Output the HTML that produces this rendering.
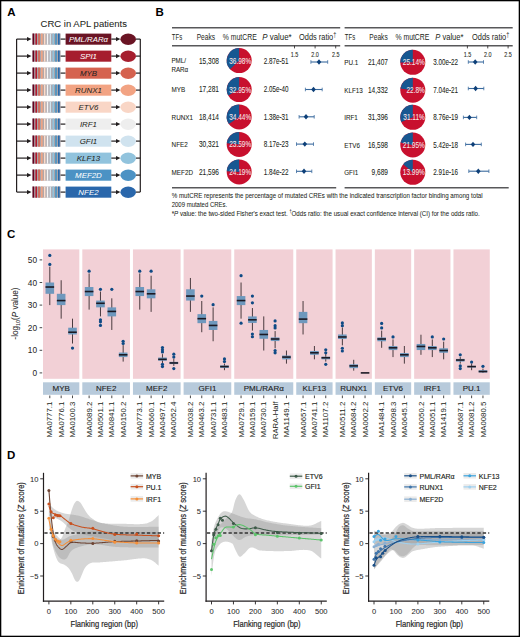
<!DOCTYPE html>
<html><head><meta charset="utf-8"><style>
html,body{margin:0;padding:0;background:#fff;width:520px;height:637px;overflow:hidden}
svg{display:block;font-family:"Liberation Sans", sans-serif}
</style></head><body>
<svg width="520" height="637" viewBox="0 0 520 637">
<rect width="520" height="637" fill="#fff"/>
<rect x="0.6" y="0.6" width="518.8" height="635.8" fill="none" stroke="#000" stroke-width="1.4"/>
<text x="7.20" y="15.80" font-size="11.5" fill="#000" text-anchor="start" font-weight="bold" >A</text>
<text x="40.60" y="27.30" font-size="9.6" fill="#231f20" text-anchor="start" stroke="#231f20" stroke-width="0.05" textLength="86.3" lengthAdjust="spacingAndGlyphs" >CRC in APL patients</text>
<line x1="16.6" y1="39.10" x2="16.6" y2="192.10" stroke="#231f20" stroke-width="1.2"/>
<line x1="140.3" y1="39.10" x2="140.3" y2="192.10" stroke="#231f20" stroke-width="1.2"/>
<line x1="16.60" y1="39.10" x2="28.00" y2="39.10" stroke="#231f20" stroke-width="1.2" />
<path d="M27.0 37.00 L31.5 39.10 L27.0 41.20 Z" fill="#231f20"/>
<rect x="32.30" y="33.50" width="28.30" height="11.20" fill="#a9a3a9" />
<rect x="32.60" y="33.50" width="1.55" height="11.20" fill="#67001f" />
<rect x="35.43" y="33.50" width="1.55" height="11.20" fill="#b2182b" />
<rect x="38.26" y="33.50" width="1.55" height="11.20" fill="#d6604d" />
<rect x="41.09" y="33.50" width="1.55" height="11.20" fill="#f4a582" />
<rect x="43.92" y="33.50" width="1.55" height="11.20" fill="#fddbc7" />
<rect x="46.75" y="33.50" width="1.55" height="11.20" fill="#f7f7f7" />
<rect x="49.58" y="33.50" width="1.55" height="11.20" fill="#d1e5f0" />
<rect x="52.41" y="33.50" width="1.55" height="11.20" fill="#92c5de" />
<rect x="55.24" y="33.50" width="1.55" height="11.20" fill="#4393c3" />
<rect x="58.07" y="33.50" width="1.55" height="11.20" fill="#2166ac" />
<line x1="60.60" y1="39.10" x2="65.60" y2="39.10" stroke="#231f20" stroke-width="1.2" />
<rect x="65.60" y="33.60" width="45.70" height="11.10" fill="#6a1424" />
<text x="88.45" y="42.05" font-size="7.9" fill="#ffffff" text-anchor="middle" stroke="#ffffff" stroke-width="0.03" font-style="italic" textLength="39" lengthAdjust="spacingAndGlyphs" >PML/RARα</text>
<line x1="111.30" y1="39.10" x2="117.00" y2="39.10" stroke="#231f20" stroke-width="1.2" />
<path d="M116.0 37.00 L120.4 39.10 L116.0 41.20 Z" fill="#231f20"/>
<ellipse cx="128.2" cy="39.30" rx="7.8" ry="5.7" fill="#6a1424"/>
<line x1="136.00" y1="39.10" x2="140.30" y2="39.10" stroke="#231f20" stroke-width="1.2" />
<line x1="16.60" y1="56.10" x2="28.00" y2="56.10" stroke="#231f20" stroke-width="1.2" />
<path d="M27.0 54.00 L31.5 56.10 L27.0 58.20 Z" fill="#231f20"/>
<rect x="32.30" y="50.50" width="28.30" height="11.20" fill="#a9a3a9" />
<rect x="32.60" y="50.50" width="1.55" height="11.20" fill="#67001f" />
<rect x="35.43" y="50.50" width="1.55" height="11.20" fill="#b2182b" />
<rect x="38.26" y="50.50" width="1.55" height="11.20" fill="#d6604d" />
<rect x="41.09" y="50.50" width="1.55" height="11.20" fill="#f4a582" />
<rect x="43.92" y="50.50" width="1.55" height="11.20" fill="#fddbc7" />
<rect x="46.75" y="50.50" width="1.55" height="11.20" fill="#f7f7f7" />
<rect x="49.58" y="50.50" width="1.55" height="11.20" fill="#d1e5f0" />
<rect x="52.41" y="50.50" width="1.55" height="11.20" fill="#92c5de" />
<rect x="55.24" y="50.50" width="1.55" height="11.20" fill="#4393c3" />
<rect x="58.07" y="50.50" width="1.55" height="11.20" fill="#2166ac" />
<line x1="60.60" y1="56.10" x2="65.60" y2="56.10" stroke="#231f20" stroke-width="1.2" />
<rect x="65.60" y="50.60" width="45.70" height="11.10" fill="#a61e2e" />
<text x="88.45" y="59.05" font-size="7.9" fill="#ffffff" text-anchor="middle" stroke="#ffffff" stroke-width="0.03" font-style="italic" >SPI1</text>
<line x1="111.30" y1="56.10" x2="117.00" y2="56.10" stroke="#231f20" stroke-width="1.2" />
<path d="M116.0 54.00 L120.4 56.10 L116.0 58.20 Z" fill="#231f20"/>
<ellipse cx="128.2" cy="56.30" rx="7.8" ry="5.7" fill="#a61e2e"/>
<line x1="136.00" y1="56.10" x2="140.30" y2="56.10" stroke="#231f20" stroke-width="1.2" />
<line x1="16.60" y1="73.10" x2="28.00" y2="73.10" stroke="#231f20" stroke-width="1.2" />
<path d="M27.0 71.00 L31.5 73.10 L27.0 75.20 Z" fill="#231f20"/>
<rect x="32.30" y="67.50" width="28.30" height="11.20" fill="#a9a3a9" />
<rect x="32.60" y="67.50" width="1.55" height="11.20" fill="#67001f" />
<rect x="35.43" y="67.50" width="1.55" height="11.20" fill="#b2182b" />
<rect x="38.26" y="67.50" width="1.55" height="11.20" fill="#d6604d" />
<rect x="41.09" y="67.50" width="1.55" height="11.20" fill="#f4a582" />
<rect x="43.92" y="67.50" width="1.55" height="11.20" fill="#fddbc7" />
<rect x="46.75" y="67.50" width="1.55" height="11.20" fill="#f7f7f7" />
<rect x="49.58" y="67.50" width="1.55" height="11.20" fill="#d1e5f0" />
<rect x="52.41" y="67.50" width="1.55" height="11.20" fill="#92c5de" />
<rect x="55.24" y="67.50" width="1.55" height="11.20" fill="#4393c3" />
<rect x="58.07" y="67.50" width="1.55" height="11.20" fill="#2166ac" />
<line x1="60.60" y1="73.10" x2="65.60" y2="73.10" stroke="#231f20" stroke-width="1.2" />
<rect x="65.60" y="67.60" width="45.70" height="11.10" fill="#d5624f" />
<text x="88.45" y="76.05" font-size="7.9" fill="#231f20" text-anchor="middle" stroke="#231f20" stroke-width="0.03" font-style="italic" >MYB</text>
<line x1="111.30" y1="73.10" x2="117.00" y2="73.10" stroke="#231f20" stroke-width="1.2" />
<path d="M116.0 71.00 L120.4 73.10 L116.0 75.20 Z" fill="#231f20"/>
<ellipse cx="128.2" cy="73.30" rx="7.8" ry="5.7" fill="#d5624f"/>
<line x1="136.00" y1="73.10" x2="140.30" y2="73.10" stroke="#231f20" stroke-width="1.2" />
<line x1="16.60" y1="90.10" x2="28.00" y2="90.10" stroke="#231f20" stroke-width="1.2" />
<path d="M27.0 88.00 L31.5 90.10 L27.0 92.20 Z" fill="#231f20"/>
<rect x="32.30" y="84.50" width="28.30" height="11.20" fill="#a9a3a9" />
<rect x="32.60" y="84.50" width="1.55" height="11.20" fill="#67001f" />
<rect x="35.43" y="84.50" width="1.55" height="11.20" fill="#b2182b" />
<rect x="38.26" y="84.50" width="1.55" height="11.20" fill="#d6604d" />
<rect x="41.09" y="84.50" width="1.55" height="11.20" fill="#f4a582" />
<rect x="43.92" y="84.50" width="1.55" height="11.20" fill="#fddbc7" />
<rect x="46.75" y="84.50" width="1.55" height="11.20" fill="#f7f7f7" />
<rect x="49.58" y="84.50" width="1.55" height="11.20" fill="#d1e5f0" />
<rect x="52.41" y="84.50" width="1.55" height="11.20" fill="#92c5de" />
<rect x="55.24" y="84.50" width="1.55" height="11.20" fill="#4393c3" />
<rect x="58.07" y="84.50" width="1.55" height="11.20" fill="#2166ac" />
<line x1="60.60" y1="90.10" x2="65.60" y2="90.10" stroke="#231f20" stroke-width="1.2" />
<rect x="65.60" y="84.60" width="45.70" height="11.10" fill="#f2a383" />
<text x="88.45" y="93.05" font-size="7.9" fill="#231f20" text-anchor="middle" stroke="#231f20" stroke-width="0.03" font-style="italic" >RUNX1</text>
<line x1="111.30" y1="90.10" x2="117.00" y2="90.10" stroke="#231f20" stroke-width="1.2" />
<path d="M116.0 88.00 L120.4 90.10 L116.0 92.20 Z" fill="#231f20"/>
<ellipse cx="128.2" cy="90.30" rx="7.8" ry="5.7" fill="#f2a383"/>
<line x1="136.00" y1="90.10" x2="140.30" y2="90.10" stroke="#231f20" stroke-width="1.2" />
<line x1="16.60" y1="107.10" x2="28.00" y2="107.10" stroke="#231f20" stroke-width="1.2" />
<path d="M27.0 105.00 L31.5 107.10 L27.0 109.20 Z" fill="#231f20"/>
<rect x="32.30" y="101.50" width="28.30" height="11.20" fill="#a9a3a9" />
<rect x="32.60" y="101.50" width="1.55" height="11.20" fill="#67001f" />
<rect x="35.43" y="101.50" width="1.55" height="11.20" fill="#b2182b" />
<rect x="38.26" y="101.50" width="1.55" height="11.20" fill="#d6604d" />
<rect x="41.09" y="101.50" width="1.55" height="11.20" fill="#f4a582" />
<rect x="43.92" y="101.50" width="1.55" height="11.20" fill="#fddbc7" />
<rect x="46.75" y="101.50" width="1.55" height="11.20" fill="#f7f7f7" />
<rect x="49.58" y="101.50" width="1.55" height="11.20" fill="#d1e5f0" />
<rect x="52.41" y="101.50" width="1.55" height="11.20" fill="#92c5de" />
<rect x="55.24" y="101.50" width="1.55" height="11.20" fill="#4393c3" />
<rect x="58.07" y="101.50" width="1.55" height="11.20" fill="#2166ac" />
<line x1="60.60" y1="107.10" x2="65.60" y2="107.10" stroke="#231f20" stroke-width="1.2" />
<rect x="65.60" y="101.60" width="45.70" height="11.10" fill="#f9d6c6" />
<text x="88.45" y="110.05" font-size="7.9" fill="#231f20" text-anchor="middle" stroke="#231f20" stroke-width="0.03" font-style="italic" >ETV6</text>
<line x1="111.30" y1="107.10" x2="117.00" y2="107.10" stroke="#231f20" stroke-width="1.2" />
<path d="M116.0 105.00 L120.4 107.10 L116.0 109.20 Z" fill="#231f20"/>
<ellipse cx="128.2" cy="107.30" rx="7.8" ry="5.7" fill="#f9d6c6"/>
<line x1="136.00" y1="107.10" x2="140.30" y2="107.10" stroke="#231f20" stroke-width="1.2" />
<line x1="16.60" y1="124.10" x2="28.00" y2="124.10" stroke="#231f20" stroke-width="1.2" />
<path d="M27.0 122.00 L31.5 124.10 L27.0 126.20 Z" fill="#231f20"/>
<rect x="32.30" y="118.50" width="28.30" height="11.20" fill="#a9a3a9" />
<rect x="32.60" y="118.50" width="1.55" height="11.20" fill="#67001f" />
<rect x="35.43" y="118.50" width="1.55" height="11.20" fill="#b2182b" />
<rect x="38.26" y="118.50" width="1.55" height="11.20" fill="#d6604d" />
<rect x="41.09" y="118.50" width="1.55" height="11.20" fill="#f4a582" />
<rect x="43.92" y="118.50" width="1.55" height="11.20" fill="#fddbc7" />
<rect x="46.75" y="118.50" width="1.55" height="11.20" fill="#f7f7f7" />
<rect x="49.58" y="118.50" width="1.55" height="11.20" fill="#d1e5f0" />
<rect x="52.41" y="118.50" width="1.55" height="11.20" fill="#92c5de" />
<rect x="55.24" y="118.50" width="1.55" height="11.20" fill="#4393c3" />
<rect x="58.07" y="118.50" width="1.55" height="11.20" fill="#2166ac" />
<line x1="60.60" y1="124.10" x2="65.60" y2="124.10" stroke="#231f20" stroke-width="1.2" />
<rect x="65.60" y="118.60" width="45.70" height="11.10" fill="#eeeeee" />
<text x="88.45" y="127.05" font-size="7.9" fill="#231f20" text-anchor="middle" stroke="#231f20" stroke-width="0.03" font-style="italic" >IRF1</text>
<line x1="111.30" y1="124.10" x2="117.00" y2="124.10" stroke="#231f20" stroke-width="1.2" />
<path d="M116.0 122.00 L120.4 124.10 L116.0 126.20 Z" fill="#231f20"/>
<ellipse cx="128.2" cy="124.30" rx="7.8" ry="5.7" fill="#eeeeee"/>
<line x1="136.00" y1="124.10" x2="140.30" y2="124.10" stroke="#231f20" stroke-width="1.2" />
<line x1="16.60" y1="141.10" x2="28.00" y2="141.10" stroke="#231f20" stroke-width="1.2" />
<path d="M27.0 139.00 L31.5 141.10 L27.0 143.20 Z" fill="#231f20"/>
<rect x="32.30" y="135.50" width="28.30" height="11.20" fill="#a9a3a9" />
<rect x="32.60" y="135.50" width="1.55" height="11.20" fill="#67001f" />
<rect x="35.43" y="135.50" width="1.55" height="11.20" fill="#b2182b" />
<rect x="38.26" y="135.50" width="1.55" height="11.20" fill="#d6604d" />
<rect x="41.09" y="135.50" width="1.55" height="11.20" fill="#f4a582" />
<rect x="43.92" y="135.50" width="1.55" height="11.20" fill="#fddbc7" />
<rect x="46.75" y="135.50" width="1.55" height="11.20" fill="#f7f7f7" />
<rect x="49.58" y="135.50" width="1.55" height="11.20" fill="#d1e5f0" />
<rect x="52.41" y="135.50" width="1.55" height="11.20" fill="#92c5de" />
<rect x="55.24" y="135.50" width="1.55" height="11.20" fill="#4393c3" />
<rect x="58.07" y="135.50" width="1.55" height="11.20" fill="#2166ac" />
<line x1="60.60" y1="141.10" x2="65.60" y2="141.10" stroke="#231f20" stroke-width="1.2" />
<rect x="65.60" y="135.60" width="45.70" height="11.10" fill="#d0e3ef" />
<text x="88.45" y="144.05" font-size="7.9" fill="#231f20" text-anchor="middle" stroke="#231f20" stroke-width="0.03" font-style="italic" >GFI1</text>
<line x1="111.30" y1="141.10" x2="117.00" y2="141.10" stroke="#231f20" stroke-width="1.2" />
<path d="M116.0 139.00 L120.4 141.10 L116.0 143.20 Z" fill="#231f20"/>
<ellipse cx="128.2" cy="141.30" rx="7.8" ry="5.7" fill="#d0e3ef"/>
<line x1="136.00" y1="141.10" x2="140.30" y2="141.10" stroke="#231f20" stroke-width="1.2" />
<line x1="16.60" y1="158.10" x2="28.00" y2="158.10" stroke="#231f20" stroke-width="1.2" />
<path d="M27.0 156.00 L31.5 158.10 L27.0 160.20 Z" fill="#231f20"/>
<rect x="32.30" y="152.50" width="28.30" height="11.20" fill="#a9a3a9" />
<rect x="32.60" y="152.50" width="1.55" height="11.20" fill="#67001f" />
<rect x="35.43" y="152.50" width="1.55" height="11.20" fill="#b2182b" />
<rect x="38.26" y="152.50" width="1.55" height="11.20" fill="#d6604d" />
<rect x="41.09" y="152.50" width="1.55" height="11.20" fill="#f4a582" />
<rect x="43.92" y="152.50" width="1.55" height="11.20" fill="#fddbc7" />
<rect x="46.75" y="152.50" width="1.55" height="11.20" fill="#f7f7f7" />
<rect x="49.58" y="152.50" width="1.55" height="11.20" fill="#d1e5f0" />
<rect x="52.41" y="152.50" width="1.55" height="11.20" fill="#92c5de" />
<rect x="55.24" y="152.50" width="1.55" height="11.20" fill="#4393c3" />
<rect x="58.07" y="152.50" width="1.55" height="11.20" fill="#2166ac" />
<line x1="60.60" y1="158.10" x2="65.60" y2="158.10" stroke="#231f20" stroke-width="1.2" />
<rect x="65.60" y="152.60" width="45.70" height="11.10" fill="#91c3dd" />
<text x="88.45" y="161.05" font-size="7.9" fill="#231f20" text-anchor="middle" stroke="#231f20" stroke-width="0.03" font-style="italic" >KLF13</text>
<line x1="111.30" y1="158.10" x2="117.00" y2="158.10" stroke="#231f20" stroke-width="1.2" />
<path d="M116.0 156.00 L120.4 158.10 L116.0 160.20 Z" fill="#231f20"/>
<ellipse cx="128.2" cy="158.30" rx="7.8" ry="5.7" fill="#91c3dd"/>
<line x1="136.00" y1="158.10" x2="140.30" y2="158.10" stroke="#231f20" stroke-width="1.2" />
<line x1="16.60" y1="175.10" x2="28.00" y2="175.10" stroke="#231f20" stroke-width="1.2" />
<path d="M27.0 173.00 L31.5 175.10 L27.0 177.20 Z" fill="#231f20"/>
<rect x="32.30" y="169.50" width="28.30" height="11.20" fill="#a9a3a9" />
<rect x="32.60" y="169.50" width="1.55" height="11.20" fill="#67001f" />
<rect x="35.43" y="169.50" width="1.55" height="11.20" fill="#b2182b" />
<rect x="38.26" y="169.50" width="1.55" height="11.20" fill="#d6604d" />
<rect x="41.09" y="169.50" width="1.55" height="11.20" fill="#f4a582" />
<rect x="43.92" y="169.50" width="1.55" height="11.20" fill="#fddbc7" />
<rect x="46.75" y="169.50" width="1.55" height="11.20" fill="#f7f7f7" />
<rect x="49.58" y="169.50" width="1.55" height="11.20" fill="#d1e5f0" />
<rect x="52.41" y="169.50" width="1.55" height="11.20" fill="#92c5de" />
<rect x="55.24" y="169.50" width="1.55" height="11.20" fill="#4393c3" />
<rect x="58.07" y="169.50" width="1.55" height="11.20" fill="#2166ac" />
<line x1="60.60" y1="175.10" x2="65.60" y2="175.10" stroke="#231f20" stroke-width="1.2" />
<rect x="65.60" y="169.60" width="45.70" height="11.10" fill="#4b92c4" />
<text x="88.45" y="178.05" font-size="7.9" fill="#ffffff" text-anchor="middle" stroke="#ffffff" stroke-width="0.03" font-style="italic" >MEF2D</text>
<line x1="111.30" y1="175.10" x2="117.00" y2="175.10" stroke="#231f20" stroke-width="1.2" />
<path d="M116.0 173.00 L120.4 175.10 L116.0 177.20 Z" fill="#231f20"/>
<ellipse cx="128.2" cy="175.30" rx="7.8" ry="5.7" fill="#4b92c4"/>
<line x1="136.00" y1="175.10" x2="140.30" y2="175.10" stroke="#231f20" stroke-width="1.2" />
<line x1="16.60" y1="192.10" x2="28.00" y2="192.10" stroke="#231f20" stroke-width="1.2" />
<path d="M27.0 190.00 L31.5 192.10 L27.0 194.20 Z" fill="#231f20"/>
<rect x="32.30" y="186.50" width="28.30" height="11.20" fill="#a9a3a9" />
<rect x="32.60" y="186.50" width="1.55" height="11.20" fill="#67001f" />
<rect x="35.43" y="186.50" width="1.55" height="11.20" fill="#b2182b" />
<rect x="38.26" y="186.50" width="1.55" height="11.20" fill="#d6604d" />
<rect x="41.09" y="186.50" width="1.55" height="11.20" fill="#f4a582" />
<rect x="43.92" y="186.50" width="1.55" height="11.20" fill="#fddbc7" />
<rect x="46.75" y="186.50" width="1.55" height="11.20" fill="#f7f7f7" />
<rect x="49.58" y="186.50" width="1.55" height="11.20" fill="#d1e5f0" />
<rect x="52.41" y="186.50" width="1.55" height="11.20" fill="#92c5de" />
<rect x="55.24" y="186.50" width="1.55" height="11.20" fill="#4393c3" />
<rect x="58.07" y="186.50" width="1.55" height="11.20" fill="#2166ac" />
<line x1="60.60" y1="192.10" x2="65.60" y2="192.10" stroke="#231f20" stroke-width="1.2" />
<rect x="65.60" y="186.60" width="45.70" height="11.10" fill="#2a67ab" />
<text x="88.45" y="195.05" font-size="7.9" fill="#ffffff" text-anchor="middle" stroke="#ffffff" stroke-width="0.03" font-style="italic" >NFE2</text>
<line x1="111.30" y1="192.10" x2="117.00" y2="192.10" stroke="#231f20" stroke-width="1.2" />
<path d="M116.0 190.00 L120.4 192.10 L116.0 194.20 Z" fill="#231f20"/>
<ellipse cx="128.2" cy="192.30" rx="7.8" ry="5.7" fill="#2a67ab"/>
<line x1="136.00" y1="192.10" x2="140.30" y2="192.10" stroke="#231f20" stroke-width="1.2" />
<text x="155.50" y="15.50" font-size="11.5" fill="#000" text-anchor="start" font-weight="bold" >B</text>
<line x1="172.00" y1="27.80" x2="340.20" y2="27.80" stroke="#58585a" stroke-width="1.4" />
<line x1="172.00" y1="45.80" x2="340.20" y2="45.80" stroke="#58585a" stroke-width="1.4" />
<line x1="172.00" y1="187.80" x2="336.20" y2="187.80" stroke="#58585a" stroke-width="1.4" />
<text x="171.80" y="40.0" font-size="8.7" fill="#231f20" textLength="10.4" lengthAdjust="spacingAndGlyphs">TFs</text>
<text x="215.10" y="40.0" font-size="8.7" fill="#231f20" text-anchor="end" textLength="18.4" lengthAdjust="spacingAndGlyphs">Peaks</text>
<text x="222.80" y="40.0" font-size="8.7" fill="#231f20" textLength="34" lengthAdjust="spacingAndGlyphs">% mutCRE</text>
<text x="262.30" y="40.0" font-size="8.7" fill="#231f20" textLength="29.4" lengthAdjust="spacingAndGlyphs"><tspan font-style="italic">P</tspan> value*</text>
<text x="299.10" y="40.0" font-size="8.7" fill="#231f20" textLength="37.2" lengthAdjust="spacingAndGlyphs">Odds ratio<tspan font-size="6.5" dy="-3">†</tspan></text>
<line x1="294.50" y1="45.70" x2="294.50" y2="48.40" stroke="#231f20" stroke-width="0.8" />
<text transform="translate(294.50,56.80) scale(0.85,1)" font-size="6.4" fill="#231f20" stroke="#231f20" stroke-width="0.08" text-anchor="middle">1.5</text>
<line x1="315.10" y1="45.70" x2="315.10" y2="48.40" stroke="#231f20" stroke-width="0.8" />
<text transform="translate(315.10,56.80) scale(0.85,1)" font-size="6.4" fill="#231f20" stroke="#231f20" stroke-width="0.08" text-anchor="middle">2.0</text>
<line x1="335.70" y1="45.70" x2="335.70" y2="48.40" stroke="#231f20" stroke-width="0.8" />
<text transform="translate(335.70,56.80) scale(0.85,1)" font-size="6.4" fill="#231f20" stroke="#231f20" stroke-width="0.08" text-anchor="middle">2.5</text>
<text transform="translate(171.40,62.60) scale(0.78,1)" font-size="8.0" fill="#231f20" stroke="#231f20" stroke-width="0.08" text-anchor="start">PML/</text>
<text transform="translate(171.40,71.60) scale(0.78,1)" font-size="8.0" fill="#231f20" stroke="#231f20" stroke-width="0.08" text-anchor="start">RARα</text>
<text transform="translate(219.00,64.30) scale(0.8,1)" font-size="8.2" fill="#231f20" stroke="#231f20" stroke-width="0.08" text-anchor="end">15,308</text>
<circle cx="239.20" cy="60.60" r="12.5" fill="#c8102e"/>
<path d="M239.20 60.60 L239.20 48.10 A12.5 12.5 0 0 0 230.08 69.15 Z" fill="#175791"/>
<text transform="translate(251.20,63.60) scale(0.72,1)" font-size="9.0" fill="#f6e6e9" stroke="#f6e6e9" stroke-width="0.08" text-anchor="end">36.98%</text>
<text transform="translate(263.70,64.30) scale(0.77,1)" font-size="8.2" fill="#231f20" stroke="#231f20" stroke-width="0.08" text-anchor="start">2.87e-51</text>
<line x1="310.90" y1="62.00" x2="327.70" y2="62.00" stroke="#3a6a9e" stroke-width="1.1" />
<line x1="310.90" y1="60.20" x2="310.90" y2="63.80" stroke="#3a6a9e" stroke-width="0.8" />
<line x1="327.70" y1="60.20" x2="327.70" y2="63.80" stroke="#3a6a9e" stroke-width="0.8" />
<path d="M316.70 62.00 L319.00 59.30 L321.30 62.00 L319.00 64.70 Z" fill="#0d3f78"/>
<text transform="translate(171.60,92.40) scale(0.78,1)" font-size="8.1" fill="#231f20" stroke="#231f20" stroke-width="0.08" text-anchor="start">MYB</text>
<text transform="translate(219.00,92.40) scale(0.8,1)" font-size="8.2" fill="#231f20" stroke="#231f20" stroke-width="0.08" text-anchor="end">17,281</text>
<circle cx="239.20" cy="89.60" r="12.5" fill="#c8102e"/>
<path d="M239.20 89.60 L239.20 77.10 A12.5 12.5 0 0 0 228.23 95.59 Z" fill="#175791"/>
<text transform="translate(251.20,92.60) scale(0.72,1)" font-size="9.0" fill="#f6e6e9" stroke="#f6e6e9" stroke-width="0.08" text-anchor="end">32.95%</text>
<text transform="translate(263.70,92.40) scale(0.77,1)" font-size="8.2" fill="#231f20" stroke="#231f20" stroke-width="0.08" text-anchor="start">2.05e-40</text>
<line x1="305.40" y1="89.50" x2="322.20" y2="89.50" stroke="#3a6a9e" stroke-width="1.1" />
<line x1="305.40" y1="87.70" x2="305.40" y2="91.30" stroke="#3a6a9e" stroke-width="0.8" />
<line x1="322.20" y1="87.70" x2="322.20" y2="91.30" stroke="#3a6a9e" stroke-width="0.8" />
<path d="M311.20 89.50 L313.50 86.80 L315.80 89.50 L313.50 92.20 Z" fill="#0d3f78"/>
<text transform="translate(171.60,119.70) scale(0.78,1)" font-size="8.1" fill="#231f20" stroke="#231f20" stroke-width="0.08" text-anchor="start">RUNX1</text>
<text transform="translate(219.00,119.70) scale(0.8,1)" font-size="8.2" fill="#231f20" stroke="#231f20" stroke-width="0.08" text-anchor="end">18,414</text>
<circle cx="239.20" cy="116.90" r="12.5" fill="#c8102e"/>
<path d="M239.20 116.90 L239.20 104.40 A12.5 12.5 0 0 0 228.84 123.89 Z" fill="#175791"/>
<text transform="translate(251.20,119.90) scale(0.72,1)" font-size="9.0" fill="#f6e6e9" stroke="#f6e6e9" stroke-width="0.08" text-anchor="end">34.44%</text>
<text transform="translate(263.70,119.70) scale(0.77,1)" font-size="8.2" fill="#231f20" stroke="#231f20" stroke-width="0.08" text-anchor="start">1.38e-31</text>
<line x1="299.10" y1="116.80" x2="314.20" y2="116.80" stroke="#3a6a9e" stroke-width="1.1" />
<line x1="299.10" y1="115.00" x2="299.10" y2="118.60" stroke="#3a6a9e" stroke-width="0.8" />
<line x1="314.20" y1="115.00" x2="314.20" y2="118.60" stroke="#3a6a9e" stroke-width="0.8" />
<path d="M303.70 116.80 L306.00 114.10 L308.30 116.80 L306.00 119.50 Z" fill="#0d3f78"/>
<text transform="translate(171.60,147.20) scale(0.78,1)" font-size="8.1" fill="#231f20" stroke="#231f20" stroke-width="0.08" text-anchor="start">NFE2</text>
<text transform="translate(219.00,147.20) scale(0.8,1)" font-size="8.2" fill="#231f20" stroke="#231f20" stroke-width="0.08" text-anchor="end">30,321</text>
<circle cx="239.20" cy="144.40" r="12.5" fill="#c8102e"/>
<path d="M239.20 144.40 L239.20 131.90 A12.5 12.5 0 0 0 226.75 143.29 Z" fill="#175791"/>
<text transform="translate(251.20,147.40) scale(0.72,1)" font-size="9.0" fill="#f6e6e9" stroke="#f6e6e9" stroke-width="0.08" text-anchor="end">23.59%</text>
<text transform="translate(263.70,147.20) scale(0.77,1)" font-size="8.2" fill="#231f20" stroke="#231f20" stroke-width="0.08" text-anchor="start">8.17e-23</text>
<line x1="296.50" y1="144.10" x2="313.50" y2="144.10" stroke="#3a6a9e" stroke-width="1.1" />
<line x1="296.50" y1="142.30" x2="296.50" y2="145.90" stroke="#3a6a9e" stroke-width="0.8" />
<line x1="313.50" y1="142.30" x2="313.50" y2="145.90" stroke="#3a6a9e" stroke-width="0.8" />
<path d="M302.50 144.10 L304.80 141.40 L307.10 144.10 L304.80 146.80 Z" fill="#0d3f78"/>
<text transform="translate(171.60,174.70) scale(0.78,1)" font-size="8.1" fill="#231f20" stroke="#231f20" stroke-width="0.08" text-anchor="start">MEF2D</text>
<text transform="translate(219.00,174.70) scale(0.8,1)" font-size="8.2" fill="#231f20" stroke="#231f20" stroke-width="0.08" text-anchor="end">21,596</text>
<circle cx="239.20" cy="171.90" r="12.5" fill="#c8102e"/>
<path d="M239.20 171.90 L239.20 159.40 A12.5 12.5 0 0 0 226.72 171.26 Z" fill="#175791"/>
<text transform="translate(251.20,174.90) scale(0.72,1)" font-size="9.0" fill="#f6e6e9" stroke="#f6e6e9" stroke-width="0.08" text-anchor="end">24.19%</text>
<text transform="translate(263.70,174.70) scale(0.77,1)" font-size="8.2" fill="#231f20" stroke="#231f20" stroke-width="0.08" text-anchor="start">1.84e-22</text>
<line x1="296.50" y1="171.30" x2="311.80" y2="171.30" stroke="#3a6a9e" stroke-width="1.1" />
<line x1="296.50" y1="169.50" x2="296.50" y2="173.10" stroke="#3a6a9e" stroke-width="0.8" />
<line x1="311.80" y1="169.50" x2="311.80" y2="173.10" stroke="#3a6a9e" stroke-width="0.8" />
<path d="M301.70 171.30 L304.00 168.60 L306.30 171.30 L304.00 174.00 Z" fill="#0d3f78"/>
<line x1="344.60" y1="27.80" x2="512.70" y2="27.80" stroke="#58585a" stroke-width="1.4" />
<line x1="344.60" y1="45.80" x2="512.70" y2="45.80" stroke="#58585a" stroke-width="1.4" />
<line x1="344.60" y1="187.80" x2="508.70" y2="187.80" stroke="#58585a" stroke-width="1.4" />
<text x="344.80" y="40.0" font-size="8.7" fill="#231f20" textLength="10.4" lengthAdjust="spacingAndGlyphs">TFs</text>
<text x="387.70" y="40.0" font-size="8.7" fill="#231f20" text-anchor="end" textLength="18.4" lengthAdjust="spacingAndGlyphs">Peaks</text>
<text x="395.40" y="40.0" font-size="8.7" fill="#231f20" textLength="34" lengthAdjust="spacingAndGlyphs">% mutCRE</text>
<text x="435.30" y="40.0" font-size="8.7" fill="#231f20" textLength="28.2" lengthAdjust="spacingAndGlyphs"><tspan font-style="italic">P</tspan> value*</text>
<text x="472.10" y="40.0" font-size="8.7" fill="#231f20" textLength="37.2" lengthAdjust="spacingAndGlyphs">Odds ratio<tspan font-size="6.5" dy="-3">†</tspan></text>
<line x1="467.40" y1="45.70" x2="467.40" y2="48.40" stroke="#231f20" stroke-width="0.8" />
<text transform="translate(467.40,56.80) scale(0.85,1)" font-size="6.4" fill="#231f20" stroke="#231f20" stroke-width="0.08" text-anchor="middle">1.5</text>
<line x1="487.75" y1="45.70" x2="487.75" y2="48.40" stroke="#231f20" stroke-width="0.8" />
<text transform="translate(487.75,56.80) scale(0.85,1)" font-size="6.4" fill="#231f20" stroke="#231f20" stroke-width="0.08" text-anchor="middle">2.0</text>
<line x1="508.10" y1="45.70" x2="508.10" y2="48.40" stroke="#231f20" stroke-width="0.8" />
<text transform="translate(508.10,56.80) scale(0.85,1)" font-size="6.4" fill="#231f20" stroke="#231f20" stroke-width="0.08" text-anchor="middle">2.5</text>
<text transform="translate(344.20,65.10) scale(0.78,1)" font-size="8.1" fill="#231f20" stroke="#231f20" stroke-width="0.08" text-anchor="start">PU.1</text>
<text transform="translate(388.00,65.10) scale(0.8,1)" font-size="8.2" fill="#231f20" stroke="#231f20" stroke-width="0.08" text-anchor="end">21,407</text>
<circle cx="412.80" cy="62.30" r="12.5" fill="#c8102e"/>
<path d="M412.80 62.30 L412.80 49.80 A12.5 12.5 0 0 0 400.30 62.41 Z" fill="#175791"/>
<text transform="translate(424.80,65.30) scale(0.72,1)" font-size="9.0" fill="#f6e6e9" stroke="#f6e6e9" stroke-width="0.08" text-anchor="end">25.14%</text>
<text transform="translate(433.20,65.10) scale(0.77,1)" font-size="8.2" fill="#231f20" stroke="#231f20" stroke-width="0.08" text-anchor="start">3.00e-22</text>
<line x1="468.30" y1="62.00" x2="483.50" y2="62.00" stroke="#3a6a9e" stroke-width="1.1" />
<line x1="468.30" y1="60.20" x2="468.30" y2="63.80" stroke="#3a6a9e" stroke-width="0.8" />
<line x1="483.50" y1="60.20" x2="483.50" y2="63.80" stroke="#3a6a9e" stroke-width="0.8" />
<path d="M472.90 62.00 L475.20 59.30 L477.50 62.00 L475.20 64.70 Z" fill="#0d3f78"/>
<text transform="translate(344.20,93.00) scale(0.78,1)" font-size="8.1" fill="#231f20" stroke="#231f20" stroke-width="0.08" text-anchor="start">KLF13</text>
<text transform="translate(388.00,93.00) scale(0.8,1)" font-size="8.2" fill="#231f20" stroke="#231f20" stroke-width="0.08" text-anchor="end">14,332</text>
<circle cx="412.80" cy="90.20" r="12.5" fill="#c8102e"/>
<path d="M412.80 90.20 L412.80 77.70 A12.5 12.5 0 0 0 400.42 88.48 Z" fill="#175791"/>
<text transform="translate(424.80,93.20) scale(0.72,1)" font-size="9.0" fill="#f6e6e9" stroke="#f6e6e9" stroke-width="0.08" text-anchor="end">22.8%</text>
<text transform="translate(433.20,93.00) scale(0.77,1)" font-size="8.2" fill="#231f20" stroke="#231f20" stroke-width="0.08" text-anchor="start">7.04e-21</text>
<line x1="468.30" y1="88.50" x2="483.80" y2="88.50" stroke="#3a6a9e" stroke-width="1.1" />
<line x1="468.30" y1="86.70" x2="468.30" y2="90.30" stroke="#3a6a9e" stroke-width="0.8" />
<line x1="483.80" y1="86.70" x2="483.80" y2="90.30" stroke="#3a6a9e" stroke-width="0.8" />
<path d="M473.30 88.50 L475.60 85.80 L477.90 88.50 L475.60 91.20 Z" fill="#0d3f78"/>
<text transform="translate(344.20,120.10) scale(0.78,1)" font-size="8.1" fill="#231f20" stroke="#231f20" stroke-width="0.08" text-anchor="start">IRF1</text>
<text transform="translate(388.00,120.10) scale(0.8,1)" font-size="8.2" fill="#231f20" stroke="#231f20" stroke-width="0.08" text-anchor="end">31,396</text>
<circle cx="412.80" cy="117.30" r="12.5" fill="#c8102e"/>
<path d="M412.80 117.30 L412.80 104.80 A12.5 12.5 0 0 0 401.21 121.98 Z" fill="#175791"/>
<text transform="translate(424.80,120.30) scale(0.72,1)" font-size="9.0" fill="#f6e6e9" stroke="#f6e6e9" stroke-width="0.08" text-anchor="end">31.11%</text>
<text transform="translate(433.20,120.10) scale(0.77,1)" font-size="8.2" fill="#231f20" stroke="#231f20" stroke-width="0.08" text-anchor="start">8.76e-19</text>
<line x1="463.40" y1="117.40" x2="476.70" y2="117.40" stroke="#3a6a9e" stroke-width="1.1" />
<line x1="463.40" y1="115.60" x2="463.40" y2="119.20" stroke="#3a6a9e" stroke-width="0.8" />
<line x1="476.70" y1="115.60" x2="476.70" y2="119.20" stroke="#3a6a9e" stroke-width="0.8" />
<path d="M467.10 117.40 L469.40 114.70 L471.70 117.40 L469.40 120.10 Z" fill="#0d3f78"/>
<text transform="translate(344.20,147.80) scale(0.78,1)" font-size="8.1" fill="#231f20" stroke="#231f20" stroke-width="0.08" text-anchor="start">ETV6</text>
<text transform="translate(388.00,147.80) scale(0.8,1)" font-size="8.2" fill="#231f20" stroke="#231f20" stroke-width="0.08" text-anchor="end">16,598</text>
<circle cx="412.80" cy="145.00" r="12.5" fill="#c8102e"/>
<path d="M412.80 145.00 L412.80 132.50 A12.5 12.5 0 0 0 400.53 142.62 Z" fill="#175791"/>
<text transform="translate(424.80,148.00) scale(0.72,1)" font-size="9.0" fill="#f6e6e9" stroke="#f6e6e9" stroke-width="0.08" text-anchor="end">21.95%</text>
<text transform="translate(433.20,147.80) scale(0.77,1)" font-size="8.2" fill="#231f20" stroke="#231f20" stroke-width="0.08" text-anchor="start">5.42e-18</text>
<line x1="465.60" y1="144.40" x2="481.30" y2="144.40" stroke="#3a6a9e" stroke-width="1.1" />
<line x1="465.60" y1="142.60" x2="465.60" y2="146.20" stroke="#3a6a9e" stroke-width="0.8" />
<line x1="481.30" y1="142.60" x2="481.30" y2="146.20" stroke="#3a6a9e" stroke-width="0.8" />
<path d="M470.70 144.40 L473.00 141.70 L475.30 144.40 L473.00 147.10 Z" fill="#0d3f78"/>
<text transform="translate(344.20,175.10) scale(0.78,1)" font-size="8.1" fill="#231f20" stroke="#231f20" stroke-width="0.08" text-anchor="start">GFI1</text>
<text transform="translate(388.00,175.10) scale(0.8,1)" font-size="8.2" fill="#231f20" stroke="#231f20" stroke-width="0.08" text-anchor="end">9,689</text>
<circle cx="412.80" cy="172.30" r="12.5" fill="#c8102e"/>
<path d="M412.80 172.30 L412.80 159.80 A12.5 12.5 0 0 0 403.17 164.33 Z" fill="#175791"/>
<text transform="translate(424.80,175.30) scale(0.72,1)" font-size="9.0" fill="#f6e6e9" stroke="#f6e6e9" stroke-width="0.08" text-anchor="end">13.99%</text>
<text transform="translate(433.20,175.10) scale(0.77,1)" font-size="8.2" fill="#231f20" stroke="#231f20" stroke-width="0.08" text-anchor="start">2.91e-16</text>
<line x1="468.80" y1="171.20" x2="488.90" y2="171.20" stroke="#3a6a9e" stroke-width="1.1" />
<line x1="468.80" y1="169.40" x2="468.80" y2="173.00" stroke="#3a6a9e" stroke-width="0.8" />
<line x1="488.90" y1="169.40" x2="488.90" y2="173.00" stroke="#3a6a9e" stroke-width="0.8" />
<path d="M476.00 171.20 L478.30 168.50 L480.60 171.20 L478.30 173.90 Z" fill="#0d3f78"/>
<text x="171.70" y="198.10" font-size="7.3" fill="#231f20" text-anchor="start" stroke="#231f20" stroke-width="0.05" textLength="311" lengthAdjust="spacingAndGlyphs" >% mutCRE represents the percentage of mutated CREs with the indicated transcription factor binding among total</text>
<text x="171.70" y="206.60" font-size="7.3" fill="#231f20" text-anchor="start" stroke="#231f20" stroke-width="0.05" textLength="55.5" lengthAdjust="spacingAndGlyphs" >2009 mutated CREs.</text>
<text x="171.7" y="215.7" font-size="7.3" fill="#231f20" stroke="#231f20" stroke-width="0.05" textLength="308" lengthAdjust="spacingAndGlyphs">*<tspan font-style="italic">P</tspan> value: the two-sided Fisher's exact test. <tspan font-size="4.5" dy="-2.5">†</tspan><tspan dy="2.5">Odds ratio: the usual exact confidence interval (CI) for the odds ratio.</tspan></text>
<text x="7.00" y="238.30" font-size="11.5" fill="#000" text-anchor="start" font-weight="bold" >C</text>
<line x1="39.60" y1="372.90" x2="42.20" y2="372.90" stroke="#333" stroke-width="0.9" />
<text x="37.10" y="375.90" font-size="8.3" fill="#2a2a2a" text-anchor="end" stroke="#2a2a2a" stroke-width="0.05" >0</text>
<line x1="39.60" y1="350.30" x2="42.20" y2="350.30" stroke="#333" stroke-width="0.9" />
<text x="37.10" y="353.30" font-size="8.3" fill="#2a2a2a" text-anchor="end" stroke="#2a2a2a" stroke-width="0.05" >10</text>
<line x1="39.60" y1="327.70" x2="42.20" y2="327.70" stroke="#333" stroke-width="0.9" />
<text x="37.10" y="330.70" font-size="8.3" fill="#2a2a2a" text-anchor="end" stroke="#2a2a2a" stroke-width="0.05" >20</text>
<line x1="39.60" y1="305.10" x2="42.20" y2="305.10" stroke="#333" stroke-width="0.9" />
<text x="37.10" y="308.10" font-size="8.3" fill="#2a2a2a" text-anchor="end" stroke="#2a2a2a" stroke-width="0.05" >30</text>
<line x1="39.60" y1="282.50" x2="42.20" y2="282.50" stroke="#333" stroke-width="0.9" />
<text x="37.10" y="285.50" font-size="8.3" fill="#2a2a2a" text-anchor="end" stroke="#2a2a2a" stroke-width="0.05" >40</text>
<line x1="39.60" y1="259.90" x2="42.20" y2="259.90" stroke="#333" stroke-width="0.9" />
<text x="37.10" y="262.90" font-size="8.3" fill="#2a2a2a" text-anchor="end" stroke="#2a2a2a" stroke-width="0.05" >50</text>
<text transform="translate(18.0,313.5) rotate(-90)" font-size="8.8" fill="#2a2a2a" stroke="#2a2a2a" stroke-width="0.05" text-anchor="middle" textLength="52" lengthAdjust="spacingAndGlyphs">-log<tspan font-size="5.8" dy="1.9">10</tspan><tspan dy="-1.8">(</tspan><tspan font-style="italic">P</tspan> value)</text>
<rect x="43.00" y="249.40" width="36.32" height="129.40" fill="#f2d0d6" />
<rect x="43.00" y="382.30" width="36.32" height="12.50" fill="#b7cadb" />
<text x="61.16" y="391.00" font-size="8.0" fill="#222" text-anchor="middle" stroke="#222" stroke-width="0.12" >MYB</text>
<line x1="49.81" y1="266.68" x2="49.81" y2="305.10" stroke="#4a3b3f" stroke-width="1.0" />
<rect x="45.51" y="282.50" width="8.60" height="11.30" fill="#6e98bd" />
<line x1="45.51" y1="287.02" x2="54.11" y2="287.02" stroke="#1c1a24" stroke-width="1.6" />
<circle cx="49.81" cy="255.38" r="1.6" fill="#0f4a85"/>
<circle cx="49.81" cy="264.42" r="1.6" fill="#0f4a85"/>
<line x1="49.81" y1="395.50" x2="49.81" y2="398.20" stroke="#333" stroke-width="0.9" />
<text transform="translate(52.41,401.6) rotate(-90)" font-size="7.3" fill="#231f20" text-anchor="end" textLength="35.8" lengthAdjust="spacingAndGlyphs">MA0777.1</text>
<line x1="61.16" y1="280.24" x2="61.16" y2="318.66" stroke="#4a3b3f" stroke-width="1.0" />
<rect x="56.86" y="293.80" width="8.60" height="11.30" fill="#6e98bd" />
<line x1="56.86" y1="300.58" x2="65.46" y2="300.58" stroke="#1c1a24" stroke-width="1.6" />
<line x1="61.16" y1="395.50" x2="61.16" y2="398.20" stroke="#333" stroke-width="0.9" />
<text transform="translate(63.76,401.6) rotate(-90)" font-size="7.3" fill="#231f20" text-anchor="end" textLength="35.8" lengthAdjust="spacingAndGlyphs">MA0776.1</text>
<line x1="72.51" y1="318.66" x2="72.51" y2="343.52" stroke="#4a3b3f" stroke-width="1.0" />
<rect x="68.21" y="327.70" width="8.60" height="6.78" fill="#6e98bd" />
<line x1="68.21" y1="332.22" x2="76.81" y2="332.22" stroke="#1c1a24" stroke-width="1.6" />
<circle cx="72.51" cy="348.04" r="1.6" fill="#0f4a85"/>
<line x1="72.51" y1="395.50" x2="72.51" y2="398.20" stroke="#333" stroke-width="0.9" />
<text transform="translate(75.11,401.6) rotate(-90)" font-size="7.3" fill="#231f20" text-anchor="end" textLength="35.8" lengthAdjust="spacingAndGlyphs">MA0100.3</text>
<rect x="82.30" y="249.40" width="47.67" height="129.40" fill="#f2d0d6" />
<rect x="82.30" y="382.30" width="47.67" height="12.50" fill="#b7cadb" />
<text x="106.13" y="391.00" font-size="8.0" fill="#222" text-anchor="middle" stroke="#222" stroke-width="0.12" >NFE2</text>
<line x1="89.11" y1="273.46" x2="89.11" y2="309.62" stroke="#4a3b3f" stroke-width="1.0" />
<rect x="84.81" y="287.02" width="8.60" height="9.04" fill="#6e98bd" />
<line x1="84.81" y1="291.54" x2="93.41" y2="291.54" stroke="#1c1a24" stroke-width="1.6" />
<circle cx="89.11" cy="271.20" r="1.6" fill="#0f4a85"/>
<line x1="89.11" y1="395.50" x2="89.11" y2="398.20" stroke="#333" stroke-width="0.9" />
<text transform="translate(91.71,401.6) rotate(-90)" font-size="7.3" fill="#231f20" text-anchor="end" textLength="35.8" lengthAdjust="spacingAndGlyphs">MA0089.2</text>
<line x1="100.46" y1="291.54" x2="100.46" y2="316.40" stroke="#4a3b3f" stroke-width="1.0" />
<rect x="96.16" y="300.58" width="8.60" height="6.78" fill="#6e98bd" />
<line x1="96.16" y1="303.29" x2="104.76" y2="303.29" stroke="#1c1a24" stroke-width="1.6" />
<circle cx="100.46" cy="289.28" r="1.6" fill="#0f4a85"/>
<circle cx="100.46" cy="319.79" r="1.6" fill="#0f4a85"/>
<circle cx="100.46" cy="321.82" r="1.6" fill="#0f4a85"/>
<circle cx="100.46" cy="325.44" r="1.6" fill="#0f4a85"/>
<line x1="100.46" y1="395.50" x2="100.46" y2="398.20" stroke="#333" stroke-width="0.9" />
<text transform="translate(103.06,401.6) rotate(-90)" font-size="7.3" fill="#231f20" text-anchor="end" textLength="35.8" lengthAdjust="spacingAndGlyphs">MA0501.1</text>
<line x1="111.81" y1="298.32" x2="111.81" y2="329.96" stroke="#4a3b3f" stroke-width="1.0" />
<rect x="107.51" y="307.36" width="8.60" height="9.04" fill="#6e98bd" />
<line x1="107.51" y1="311.43" x2="116.11" y2="311.43" stroke="#1c1a24" stroke-width="1.6" />
<circle cx="111.81" cy="289.28" r="1.6" fill="#0f4a85"/>
<line x1="111.81" y1="395.50" x2="111.81" y2="398.20" stroke="#333" stroke-width="0.9" />
<text transform="translate(114.41,401.6) rotate(-90)" font-size="7.3" fill="#231f20" text-anchor="end" textLength="35.8" lengthAdjust="spacingAndGlyphs">MA0841.1</text>
<line x1="123.16" y1="345.10" x2="123.16" y2="361.60" stroke="#4a3b3f" stroke-width="1.0" />
<rect x="118.86" y="352.56" width="8.60" height="4.52" fill="#6e98bd" />
<line x1="118.86" y1="354.82" x2="127.46" y2="354.82" stroke="#1c1a24" stroke-width="1.6" />
<circle cx="123.16" cy="341.26" r="1.6" fill="#0f4a85"/>
<circle cx="123.16" cy="343.52" r="1.6" fill="#0f4a85"/>
<line x1="123.16" y1="395.50" x2="123.16" y2="398.20" stroke="#333" stroke-width="0.9" />
<text transform="translate(125.76,401.6) rotate(-90)" font-size="7.3" fill="#231f20" text-anchor="end" textLength="35.8" lengthAdjust="spacingAndGlyphs">MA0150.2</text>
<rect x="132.95" y="249.40" width="47.67" height="129.40" fill="#f2d0d6" />
<rect x="132.95" y="382.30" width="47.67" height="12.50" fill="#b7cadb" />
<text x="156.78" y="391.00" font-size="8.0" fill="#222" text-anchor="middle" stroke="#222" stroke-width="0.12" >MEF2</text>
<line x1="139.76" y1="273.46" x2="139.76" y2="309.62" stroke="#4a3b3f" stroke-width="1.0" />
<rect x="135.46" y="287.02" width="8.60" height="9.04" fill="#6e98bd" />
<line x1="135.46" y1="291.54" x2="144.06" y2="291.54" stroke="#1c1a24" stroke-width="1.6" />
<circle cx="139.76" cy="271.20" r="1.6" fill="#0f4a85"/>
<line x1="139.76" y1="395.50" x2="139.76" y2="398.20" stroke="#333" stroke-width="0.9" />
<text transform="translate(142.36,401.6) rotate(-90)" font-size="7.3" fill="#231f20" text-anchor="end" textLength="35.8" lengthAdjust="spacingAndGlyphs">MA0773.1</text>
<line x1="151.11" y1="275.72" x2="151.11" y2="311.88" stroke="#4a3b3f" stroke-width="1.0" />
<rect x="146.81" y="289.28" width="8.60" height="9.04" fill="#6e98bd" />
<line x1="146.81" y1="293.80" x2="155.41" y2="293.80" stroke="#1c1a24" stroke-width="1.6" />
<circle cx="151.11" cy="271.20" r="1.6" fill="#0f4a85"/>
<line x1="151.11" y1="395.50" x2="151.11" y2="398.20" stroke="#333" stroke-width="0.9" />
<text transform="translate(153.71,401.6) rotate(-90)" font-size="7.3" fill="#231f20" text-anchor="end" textLength="35.8" lengthAdjust="spacingAndGlyphs">MA0660.1</text>
<line x1="162.46" y1="354.14" x2="162.46" y2="362.96" stroke="#4a3b3f" stroke-width="1.0" />
<rect x="158.16" y="357.53" width="8.60" height="3.16" fill="#6e98bd" />
<line x1="158.16" y1="359.34" x2="166.76" y2="359.34" stroke="#1c1a24" stroke-width="1.6" />
<circle cx="162.46" cy="347.59" r="1.6" fill="#0f4a85"/>
<circle cx="162.46" cy="349.85" r="1.6" fill="#0f4a85"/>
<circle cx="162.46" cy="351.88" r="1.6" fill="#0f4a85"/>
<circle cx="162.46" cy="364.31" r="1.6" fill="#0f4a85"/>
<circle cx="162.46" cy="366.57" r="1.6" fill="#0f4a85"/>
<line x1="162.46" y1="395.50" x2="162.46" y2="398.20" stroke="#333" stroke-width="0.9" />
<text transform="translate(165.06,401.6) rotate(-90)" font-size="7.3" fill="#231f20" text-anchor="end" textLength="35.8" lengthAdjust="spacingAndGlyphs">MA0497.1</text>
<line x1="173.81" y1="358.89" x2="173.81" y2="365.89" stroke="#4a3b3f" stroke-width="1.0" />
<rect x="169.51" y="361.83" width="8.60" height="2.26" fill="#6e98bd" />
<line x1="169.51" y1="362.96" x2="178.11" y2="362.96" stroke="#1c1a24" stroke-width="1.6" />
<circle cx="173.81" cy="354.14" r="1.6" fill="#0f4a85"/>
<circle cx="173.81" cy="357.08" r="1.6" fill="#0f4a85"/>
<circle cx="173.81" cy="368.61" r="1.6" fill="#0f4a85"/>
<line x1="173.81" y1="395.50" x2="173.81" y2="398.20" stroke="#333" stroke-width="0.9" />
<text transform="translate(176.41,401.6) rotate(-90)" font-size="7.3" fill="#231f20" text-anchor="end" textLength="35.8" lengthAdjust="spacingAndGlyphs">MA0052.4</text>
<rect x="183.60" y="249.40" width="47.67" height="129.40" fill="#f2d0d6" />
<rect x="183.60" y="382.30" width="47.67" height="12.50" fill="#b7cadb" />
<text x="207.44" y="391.00" font-size="8.0" fill="#222" text-anchor="middle" stroke="#222" stroke-width="0.12" >GFI1</text>
<line x1="190.41" y1="277.98" x2="190.41" y2="311.88" stroke="#4a3b3f" stroke-width="1.0" />
<rect x="186.11" y="289.28" width="8.60" height="11.30" fill="#6e98bd" />
<line x1="186.11" y1="296.06" x2="194.71" y2="296.06" stroke="#1c1a24" stroke-width="1.6" />
<line x1="190.41" y1="395.50" x2="190.41" y2="398.20" stroke="#333" stroke-width="0.9" />
<text transform="translate(193.01,401.6) rotate(-90)" font-size="7.3" fill="#231f20" text-anchor="end" textLength="35.8" lengthAdjust="spacingAndGlyphs">MA0038.2</text>
<line x1="201.76" y1="301.03" x2="201.76" y2="332.22" stroke="#4a3b3f" stroke-width="1.0" />
<rect x="197.46" y="314.14" width="8.60" height="9.04" fill="#6e98bd" />
<line x1="197.46" y1="318.66" x2="206.06" y2="318.66" stroke="#1c1a24" stroke-width="1.6" />
<circle cx="201.76" cy="296.06" r="1.6" fill="#0f4a85"/>
<line x1="201.76" y1="395.50" x2="201.76" y2="398.20" stroke="#333" stroke-width="0.9" />
<text transform="translate(204.36,401.6) rotate(-90)" font-size="7.3" fill="#231f20" text-anchor="end" textLength="35.8" lengthAdjust="spacingAndGlyphs">MA0463.2</text>
<line x1="213.11" y1="307.36" x2="213.11" y2="341.26" stroke="#4a3b3f" stroke-width="1.0" />
<rect x="208.81" y="320.92" width="8.60" height="9.04" fill="#6e98bd" />
<line x1="208.81" y1="325.44" x2="217.41" y2="325.44" stroke="#1c1a24" stroke-width="1.6" />
<circle cx="213.11" cy="304.65" r="1.6" fill="#0f4a85"/>
<line x1="213.11" y1="395.50" x2="213.11" y2="398.20" stroke="#333" stroke-width="0.9" />
<text transform="translate(215.71,401.6) rotate(-90)" font-size="7.3" fill="#231f20" text-anchor="end" textLength="35.8" lengthAdjust="spacingAndGlyphs">MA0731.1</text>
<line x1="224.46" y1="363.63" x2="224.46" y2="370.19" stroke="#4a3b3f" stroke-width="1.0" />
<rect x="220.16" y="365.44" width="8.60" height="2.49" fill="#6e98bd" />
<line x1="220.16" y1="366.57" x2="228.76" y2="366.57" stroke="#1c1a24" stroke-width="1.6" />
<circle cx="224.46" cy="358.89" r="1.6" fill="#0f4a85"/>
<circle cx="224.46" cy="361.60" r="1.6" fill="#0f4a85"/>
<line x1="224.46" y1="395.50" x2="224.46" y2="398.20" stroke="#333" stroke-width="0.9" />
<text transform="translate(227.06,401.6) rotate(-90)" font-size="7.3" fill="#231f20" text-anchor="end" textLength="35.8" lengthAdjust="spacingAndGlyphs">MA0483.1</text>
<rect x="234.25" y="249.40" width="59.02" height="129.40" fill="#f2d0d6" />
<rect x="234.25" y="382.30" width="59.02" height="12.50" fill="#b7cadb" />
<text x="263.76" y="391.00" font-size="8.0" fill="#222" text-anchor="middle" stroke="#222" stroke-width="0.12" >PML/RARα</text>
<line x1="241.06" y1="282.50" x2="241.06" y2="318.66" stroke="#4a3b3f" stroke-width="1.0" />
<rect x="236.76" y="296.06" width="8.60" height="9.04" fill="#6e98bd" />
<line x1="236.76" y1="300.58" x2="245.36" y2="300.58" stroke="#1c1a24" stroke-width="1.6" />
<circle cx="241.06" cy="275.72" r="1.6" fill="#0f4a85"/>
<circle cx="241.06" cy="323.18" r="1.6" fill="#0f4a85"/>
<line x1="241.06" y1="395.50" x2="241.06" y2="398.20" stroke="#333" stroke-width="0.9" />
<text transform="translate(243.66,401.6) rotate(-90)" font-size="7.3" fill="#231f20" text-anchor="end" textLength="35.8" lengthAdjust="spacingAndGlyphs">MA0729.1</text>
<line x1="252.41" y1="308.04" x2="252.41" y2="330.64" stroke="#4a3b3f" stroke-width="1.0" />
<rect x="248.11" y="316.40" width="8.60" height="6.55" fill="#6e98bd" />
<line x1="248.11" y1="319.79" x2="256.71" y2="319.79" stroke="#1c1a24" stroke-width="1.6" />
<circle cx="252.41" cy="296.06" r="1.6" fill="#0f4a85"/>
<circle cx="252.41" cy="302.84" r="1.6" fill="#0f4a85"/>
<circle cx="252.41" cy="334.03" r="1.6" fill="#0f4a85"/>
<circle cx="252.41" cy="336.74" r="1.6" fill="#0f4a85"/>
<line x1="252.41" y1="395.50" x2="252.41" y2="398.20" stroke="#333" stroke-width="0.9" />
<text transform="translate(255.01,401.6) rotate(-90)" font-size="7.3" fill="#231f20" text-anchor="end" textLength="35.8" lengthAdjust="spacingAndGlyphs">MA0159.1</text>
<line x1="263.76" y1="316.40" x2="263.76" y2="350.53" stroke="#4a3b3f" stroke-width="1.0" />
<rect x="259.46" y="329.96" width="8.60" height="8.81" fill="#6e98bd" />
<line x1="259.46" y1="334.48" x2="268.06" y2="334.48" stroke="#1c1a24" stroke-width="1.6" />
<line x1="263.76" y1="395.50" x2="263.76" y2="398.20" stroke="#333" stroke-width="0.9" />
<text transform="translate(266.36,401.6) rotate(-90)" font-size="7.3" fill="#231f20" text-anchor="end" textLength="35.8" lengthAdjust="spacingAndGlyphs">MA0730.1</text>
<line x1="275.11" y1="331.09" x2="275.11" y2="348.27" stroke="#4a3b3f" stroke-width="1.0" />
<rect x="270.81" y="337.42" width="8.60" height="3.62" fill="#6e98bd" />
<line x1="270.81" y1="339.00" x2="279.41" y2="339.00" stroke="#1c1a24" stroke-width="1.6" />
<circle cx="275.11" cy="320.92" r="1.6" fill="#0f4a85"/>
<circle cx="275.11" cy="325.67" r="1.6" fill="#0f4a85"/>
<circle cx="275.11" cy="327.93" r="1.6" fill="#0f4a85"/>
<circle cx="275.11" cy="350.53" r="1.6" fill="#0f4a85"/>
<circle cx="275.11" cy="352.79" r="1.6" fill="#0f4a85"/>
<line x1="275.11" y1="395.50" x2="275.11" y2="398.20" stroke="#333" stroke-width="0.9" />
<text transform="translate(277.71,401.6) rotate(-90)" font-size="7.3" fill="#231f20" text-anchor="end" textLength="37.5" lengthAdjust="spacingAndGlyphs">RARA-Half</text>
<line x1="286.46" y1="350.53" x2="286.46" y2="363.63" stroke="#4a3b3f" stroke-width="1.0" />
<rect x="282.16" y="355.50" width="8.60" height="3.84" fill="#6e98bd" />
<line x1="282.16" y1="357.08" x2="290.76" y2="357.08" stroke="#1c1a24" stroke-width="1.6" />
<line x1="286.46" y1="395.50" x2="286.46" y2="398.20" stroke="#333" stroke-width="0.9" />
<text transform="translate(289.06,401.6) rotate(-90)" font-size="7.3" fill="#231f20" text-anchor="end" textLength="35.8" lengthAdjust="spacingAndGlyphs">MA1149.1</text>
<rect x="296.25" y="249.40" width="36.32" height="129.40" fill="#f2d0d6" />
<rect x="296.25" y="382.30" width="36.32" height="12.50" fill="#b7cadb" />
<text x="314.41" y="391.00" font-size="8.0" fill="#222" text-anchor="middle" stroke="#222" stroke-width="0.12" >KLF13</text>
<line x1="303.06" y1="301.03" x2="303.06" y2="334.48" stroke="#4a3b3f" stroke-width="1.0" />
<rect x="298.76" y="311.88" width="8.60" height="11.30" fill="#6e98bd" />
<line x1="298.76" y1="319.11" x2="307.36" y2="319.11" stroke="#1c1a24" stroke-width="1.6" />
<line x1="303.06" y1="395.50" x2="303.06" y2="398.20" stroke="#333" stroke-width="0.9" />
<text transform="translate(305.66,401.6) rotate(-90)" font-size="7.3" fill="#231f20" text-anchor="end" textLength="35.8" lengthAdjust="spacingAndGlyphs">MA0657.1</text>
<line x1="314.41" y1="346.01" x2="314.41" y2="359.34" stroke="#4a3b3f" stroke-width="1.0" />
<rect x="310.11" y="350.98" width="8.60" height="3.84" fill="#6e98bd" />
<line x1="310.11" y1="352.79" x2="318.71" y2="352.79" stroke="#1c1a24" stroke-width="1.6" />
<line x1="314.41" y1="395.50" x2="314.41" y2="398.20" stroke="#333" stroke-width="0.9" />
<text transform="translate(317.01,401.6) rotate(-90)" font-size="7.3" fill="#231f20" text-anchor="end" textLength="35.8" lengthAdjust="spacingAndGlyphs">MA0741.1</text>
<line x1="325.76" y1="354.14" x2="325.76" y2="361.60" stroke="#4a3b3f" stroke-width="1.0" />
<rect x="321.46" y="356.63" width="8.60" height="2.71" fill="#6e98bd" />
<line x1="321.46" y1="357.76" x2="330.06" y2="357.76" stroke="#1c1a24" stroke-width="1.6" />
<circle cx="325.76" cy="349.85" r="1.6" fill="#0f4a85"/>
<circle cx="325.76" cy="352.79" r="1.6" fill="#0f4a85"/>
<circle cx="325.76" cy="364.31" r="1.6" fill="#0f4a85"/>
<line x1="325.76" y1="395.50" x2="325.76" y2="398.20" stroke="#333" stroke-width="0.9" />
<text transform="translate(328.36,401.6) rotate(-90)" font-size="7.3" fill="#231f20" text-anchor="end" textLength="35.8" lengthAdjust="spacingAndGlyphs">MA1107.2</text>
<rect x="335.55" y="249.40" width="36.32" height="129.40" fill="#f2d0d6" />
<rect x="335.55" y="382.30" width="36.32" height="12.50" fill="#b7cadb" />
<text x="353.71" y="391.00" font-size="8.0" fill="#222" text-anchor="middle" stroke="#222" stroke-width="0.12" >RUNX1</text>
<line x1="342.36" y1="327.47" x2="342.36" y2="345.33" stroke="#4a3b3f" stroke-width="1.0" />
<rect x="338.06" y="334.48" width="8.60" height="4.52" fill="#6e98bd" />
<line x1="338.06" y1="336.97" x2="346.66" y2="336.97" stroke="#1c1a24" stroke-width="1.6" />
<circle cx="342.36" cy="322.95" r="1.6" fill="#0f4a85"/>
<circle cx="342.36" cy="325.67" r="1.6" fill="#0f4a85"/>
<circle cx="342.36" cy="348.27" r="1.6" fill="#0f4a85"/>
<circle cx="342.36" cy="350.98" r="1.6" fill="#0f4a85"/>
<line x1="342.36" y1="395.50" x2="342.36" y2="398.20" stroke="#333" stroke-width="0.9" />
<text transform="translate(344.96,401.6) rotate(-90)" font-size="7.3" fill="#231f20" text-anchor="end" textLength="35.8" lengthAdjust="spacingAndGlyphs">MA0511.2</text>
<line x1="353.71" y1="359.79" x2="353.71" y2="370.64" stroke="#4a3b3f" stroke-width="1.0" />
<rect x="349.41" y="364.31" width="8.60" height="3.84" fill="#6e98bd" />
<line x1="349.41" y1="365.89" x2="358.01" y2="365.89" stroke="#1c1a24" stroke-width="1.6" />
<line x1="353.71" y1="395.50" x2="353.71" y2="398.20" stroke="#333" stroke-width="0.9" />
<text transform="translate(356.31,401.6) rotate(-90)" font-size="7.3" fill="#231f20" text-anchor="end" textLength="35.8" lengthAdjust="spacingAndGlyphs">MA0684.2</text>
<line x1="360.76" y1="372.90" x2="369.36" y2="372.90" stroke="#1c1a24" stroke-width="1.6" />
<line x1="365.06" y1="395.50" x2="365.06" y2="398.20" stroke="#333" stroke-width="0.9" />
<text transform="translate(367.66,401.6) rotate(-90)" font-size="7.3" fill="#231f20" text-anchor="end" textLength="35.8" lengthAdjust="spacingAndGlyphs">MA0002.2</text>
<rect x="374.85" y="249.40" width="36.32" height="129.40" fill="#f2d0d6" />
<rect x="374.85" y="382.30" width="36.32" height="12.50" fill="#b7cadb" />
<text x="393.01" y="391.00" font-size="8.0" fill="#222" text-anchor="middle" stroke="#222" stroke-width="0.12" >ETV6</text>
<line x1="381.66" y1="330.64" x2="381.66" y2="347.81" stroke="#4a3b3f" stroke-width="1.0" />
<rect x="377.36" y="337.42" width="8.60" height="3.84" fill="#6e98bd" />
<line x1="377.36" y1="339.00" x2="385.96" y2="339.00" stroke="#1c1a24" stroke-width="1.6" />
<circle cx="381.66" cy="323.41" r="1.6" fill="#0f4a85"/>
<circle cx="381.66" cy="327.93" r="1.6" fill="#0f4a85"/>
<line x1="381.66" y1="395.50" x2="381.66" y2="398.20" stroke="#333" stroke-width="0.9" />
<text transform="translate(384.26,401.6) rotate(-90)" font-size="7.3" fill="#231f20" text-anchor="end" textLength="35.8" lengthAdjust="spacingAndGlyphs">MA1484.1</text>
<line x1="393.01" y1="339.45" x2="393.01" y2="357.08" stroke="#4a3b3f" stroke-width="1.0" />
<rect x="388.71" y="346.01" width="8.60" height="4.07" fill="#6e98bd" />
<line x1="388.71" y1="347.81" x2="397.31" y2="347.81" stroke="#1c1a24" stroke-width="1.6" />
<circle cx="393.01" cy="336.97" r="1.6" fill="#0f4a85"/>
<line x1="393.01" y1="395.50" x2="393.01" y2="398.20" stroke="#333" stroke-width="0.9" />
<text transform="translate(395.61,401.6) rotate(-90)" font-size="7.3" fill="#231f20" text-anchor="end" textLength="35.8" lengthAdjust="spacingAndGlyphs">MA0098.3</text>
<line x1="404.36" y1="346.01" x2="404.36" y2="363.63" stroke="#4a3b3f" stroke-width="1.0" />
<rect x="400.06" y="353.01" width="8.60" height="4.07" fill="#6e98bd" />
<line x1="400.06" y1="354.82" x2="408.66" y2="354.82" stroke="#1c1a24" stroke-width="1.6" />
<line x1="404.36" y1="395.50" x2="404.36" y2="398.20" stroke="#333" stroke-width="0.9" />
<text transform="translate(406.96,401.6) rotate(-90)" font-size="7.3" fill="#231f20" text-anchor="end" textLength="35.8" lengthAdjust="spacingAndGlyphs">MA0645.1</text>
<rect x="414.15" y="249.40" width="36.32" height="129.40" fill="#f2d0d6" />
<rect x="414.15" y="382.30" width="36.32" height="12.50" fill="#b7cadb" />
<text x="432.31" y="391.00" font-size="8.0" fill="#222" text-anchor="middle" stroke="#222" stroke-width="0.12" >IRF1</text>
<line x1="420.96" y1="334.71" x2="420.96" y2="354.82" stroke="#4a3b3f" stroke-width="1.0" />
<rect x="416.66" y="343.97" width="8.60" height="6.10" fill="#6e98bd" />
<line x1="416.66" y1="346.46" x2="425.26" y2="346.46" stroke="#1c1a24" stroke-width="1.6" />
<line x1="420.96" y1="395.50" x2="420.96" y2="398.20" stroke="#333" stroke-width="0.9" />
<text transform="translate(423.56,401.6) rotate(-90)" font-size="7.3" fill="#231f20" text-anchor="end" textLength="35.8" lengthAdjust="spacingAndGlyphs">MA0050.2</text>
<line x1="432.31" y1="339.45" x2="432.31" y2="357.08" stroke="#4a3b3f" stroke-width="1.0" />
<rect x="428.01" y="346.01" width="8.60" height="4.07" fill="#6e98bd" />
<line x1="428.01" y1="347.81" x2="436.61" y2="347.81" stroke="#1c1a24" stroke-width="1.6" />
<circle cx="432.31" cy="336.97" r="1.6" fill="#0f4a85"/>
<line x1="432.31" y1="395.50" x2="432.31" y2="398.20" stroke="#333" stroke-width="0.9" />
<text transform="translate(434.91,401.6) rotate(-90)" font-size="7.3" fill="#231f20" text-anchor="end" textLength="35.8" lengthAdjust="spacingAndGlyphs">MA0051.1</text>
<line x1="443.66" y1="341.71" x2="443.66" y2="359.34" stroke="#4a3b3f" stroke-width="1.0" />
<rect x="439.36" y="348.27" width="8.60" height="4.52" fill="#6e98bd" />
<line x1="439.36" y1="350.53" x2="447.96" y2="350.53" stroke="#1c1a24" stroke-width="1.6" />
<circle cx="443.66" cy="339.00" r="1.6" fill="#0f4a85"/>
<line x1="443.66" y1="395.50" x2="443.66" y2="398.20" stroke="#333" stroke-width="0.9" />
<text transform="translate(446.26,401.6) rotate(-90)" font-size="7.3" fill="#231f20" text-anchor="end" textLength="35.8" lengthAdjust="spacingAndGlyphs">MA1419.1</text>
<rect x="453.45" y="249.40" width="36.32" height="129.40" fill="#f2d0d6" />
<rect x="453.45" y="382.30" width="36.32" height="12.50" fill="#b7cadb" />
<text x="471.61" y="391.00" font-size="8.0" fill="#222" text-anchor="middle" stroke="#222" stroke-width="0.12" >PU.1</text>
<line x1="460.26" y1="357.08" x2="460.26" y2="363.63" stroke="#4a3b3f" stroke-width="1.0" />
<rect x="455.96" y="358.89" width="8.60" height="2.71" fill="#6e98bd" />
<line x1="455.96" y1="360.02" x2="464.56" y2="360.02" stroke="#1c1a24" stroke-width="1.6" />
<circle cx="460.26" cy="354.82" r="1.6" fill="#0f4a85"/>
<circle cx="460.26" cy="365.89" r="1.6" fill="#0f4a85"/>
<circle cx="460.26" cy="368.61" r="1.6" fill="#0f4a85"/>
<line x1="460.26" y1="395.50" x2="460.26" y2="398.20" stroke="#333" stroke-width="0.9" />
<text transform="translate(462.86,401.6) rotate(-90)" font-size="7.3" fill="#231f20" text-anchor="end" textLength="35.8" lengthAdjust="spacingAndGlyphs">MA0687.1</text>
<line x1="471.61" y1="363.63" x2="471.61" y2="370.19" stroke="#4a3b3f" stroke-width="1.0" />
<rect x="467.31" y="365.89" width="8.60" height="1.58" fill="#6e98bd" />
<line x1="467.31" y1="366.57" x2="475.91" y2="366.57" stroke="#1c1a24" stroke-width="1.6" />
<circle cx="471.61" cy="362.05" r="1.6" fill="#0f4a85"/>
<line x1="471.61" y1="395.50" x2="471.61" y2="398.20" stroke="#333" stroke-width="0.9" />
<text transform="translate(474.21,401.6) rotate(-90)" font-size="7.3" fill="#231f20" text-anchor="end" textLength="35.8" lengthAdjust="spacingAndGlyphs">MA0081.2</text>
<line x1="482.96" y1="368.61" x2="482.96" y2="372.90" stroke="#4a3b3f" stroke-width="1.0" />
<rect x="478.66" y="370.19" width="8.60" height="2.26" fill="#6e98bd" />
<line x1="478.66" y1="371.54" x2="487.26" y2="371.54" stroke="#1c1a24" stroke-width="1.6" />
<circle cx="482.96" cy="366.35" r="1.6" fill="#0f4a85"/>
<line x1="482.96" y1="395.50" x2="482.96" y2="398.20" stroke="#333" stroke-width="0.9" />
<text transform="translate(485.56,401.6) rotate(-90)" font-size="7.3" fill="#231f20" text-anchor="end" textLength="35.8" lengthAdjust="spacingAndGlyphs">MA0080.5</text>
<text x="7.00" y="459.30" font-size="11.5" fill="#000" text-anchor="start" font-weight="bold" >D</text>
<polygon points="48.90,483.34 49.01,485.17 49.12,487.03 49.23,488.90 49.34,490.78 49.45,492.65 49.56,494.50 49.67,496.32 49.78,498.10 49.89,499.82 50.00,501.48 50.11,503.10 50.22,504.73 50.33,506.33 50.44,507.90 50.55,509.42 50.66,510.87 50.77,512.25 50.88,513.53 50.99,514.70 51.09,515.74 51.20,516.70 51.31,517.65 51.42,518.57 51.53,519.48 51.64,520.37 51.75,521.24 51.86,522.09 51.97,522.91 52.08,523.71 52.19,524.48 52.30,525.23 52.41,525.95 52.52,526.65 52.63,527.31 52.74,527.95 52.85,528.55 52.96,529.12 53.07,529.66 53.18,530.17 53.29,530.64 53.51,531.51 53.73,532.31 53.95,533.04 54.17,533.70 54.39,534.31 54.61,534.87 54.83,535.38 55.05,535.85 55.27,536.29 55.48,536.69 55.70,537.06 55.92,537.42 56.14,537.76 56.36,538.09 56.58,538.42 56.80,538.72 57.02,538.98 57.24,539.19 57.46,539.37 57.68,539.52 57.90,539.63 58.12,539.71 58.34,539.77 58.56,539.79 58.78,539.80 59.00,539.79 59.22,539.76 59.44,539.71 59.66,539.65 59.88,539.56 60.09,539.45 60.31,539.31 60.53,539.14 60.75,538.95 60.97,538.72 61.19,538.47 61.41,538.18 61.63,537.86 61.85,537.51 62.07,537.12 62.29,536.68 62.51,536.19 62.73,535.64 62.95,535.05 63.17,534.43 63.39,533.79 63.61,533.14 63.83,532.48 64.05,531.83 64.27,531.19 64.48,530.57 64.70,529.99 64.92,529.44 65.14,528.90 65.36,528.36 65.58,527.84 65.80,527.32 66.02,526.81 66.24,526.30 66.46,525.79 66.68,525.28 66.90,524.77 67.12,524.25 67.34,523.72 67.56,523.18 67.78,522.63 68.00,522.07 68.22,521.49 68.44,520.89 68.66,520.27 68.87,519.62 69.09,518.94 69.31,518.22 69.53,517.48 69.75,516.71 69.97,515.94 70.19,515.15 70.41,514.36 70.63,513.58 70.85,512.80 71.73,509.90 72.61,507.45 73.48,505.30 74.36,503.51 75.24,502.16 76.12,501.28 77.00,500.87 77.87,500.90 78.75,501.28 79.63,501.95 80.51,502.85 81.39,504.01 82.26,505.50 83.14,507.11 84.02,508.61 84.90,509.99 85.78,511.38 86.65,512.72 87.53,513.97 88.41,515.09 89.29,516.06 90.17,516.92 91.04,517.68 91.92,518.36 92.80,518.98 93.68,519.57 94.56,520.18 95.43,520.77 96.31,521.32 97.19,521.83 98.07,522.26 98.95,522.60 99.82,522.83 100.70,522.96 101.58,523.08 102.46,523.18 103.34,523.28 104.21,523.36 105.09,523.43 105.97,523.50 106.85,523.55 107.73,523.60 108.60,523.64 109.48,523.68 110.36,523.70 111.24,523.73 112.12,523.74 112.99,523.76 113.87,523.77 114.75,523.77 115.63,523.78 116.51,523.78 117.38,523.78 118.26,523.78 119.14,523.78 120.02,523.78 120.90,523.79 121.77,523.79 122.65,523.80 123.53,523.81 124.41,523.82 125.29,523.84 126.16,523.86 127.04,523.89 127.92,523.92 128.80,523.95 129.68,523.99 130.55,524.02 131.43,524.05 132.31,524.08 133.19,524.11 134.07,524.13 134.94,524.15 135.82,524.16 136.70,524.17 137.58,524.17 138.46,524.16 139.33,524.14 140.21,524.11 141.09,524.07 141.97,524.01 142.85,523.94 143.72,523.86 144.60,523.75 145.48,523.59 146.36,523.39 147.24,523.13 148.11,522.83 148.99,522.48 149.87,522.09 150.75,521.66 151.63,521.18 152.50,520.64 153.38,520.00 154.26,519.26 155.14,518.45 156.02,517.60 156.89,516.74 157.77,515.90 158.65,515.09 158.65,565.63 157.77,564.91 156.89,564.15 156.02,563.38 155.14,562.61 154.26,561.89 153.38,561.24 152.50,560.68 151.63,560.23 150.75,559.84 149.87,559.48 148.99,559.18 148.11,558.91 147.24,558.69 146.36,558.52 145.48,558.40 144.60,558.33 143.72,558.31 142.85,558.32 141.97,558.34 141.09,558.38 140.21,558.44 139.33,558.50 138.46,558.58 137.58,558.67 136.70,558.77 135.82,558.88 134.94,558.99 134.07,559.10 133.19,559.22 132.31,559.35 131.43,559.47 130.55,559.59 129.68,559.71 128.80,559.83 127.92,559.94 127.04,560.05 126.16,560.14 125.29,560.23 124.41,560.31 123.53,560.40 122.65,560.48 121.77,560.56 120.90,560.63 120.02,560.71 119.14,560.79 118.26,560.87 117.38,560.95 116.51,561.02 115.63,561.10 114.75,561.17 113.87,561.25 112.99,561.32 112.12,561.40 111.24,561.47 110.36,561.55 109.48,561.62 108.60,561.69 107.73,561.76 106.85,561.84 105.97,561.91 105.09,561.98 104.21,562.05 103.34,562.12 102.46,562.20 101.58,562.27 100.70,562.34 99.82,562.41 98.95,562.45 98.07,562.45 97.19,562.44 96.31,562.42 95.43,562.40 94.56,562.41 93.68,562.45 92.80,562.53 91.92,562.68 91.04,562.90 90.17,563.21 89.29,563.64 88.41,564.21 87.53,564.92 86.65,565.76 85.78,566.74 84.90,567.89 84.02,569.54 83.14,571.58 82.26,573.70 81.39,575.72 80.51,577.88 79.63,579.81 78.75,581.07 77.87,581.70 77.00,581.85 76.12,581.54 75.24,580.59 74.36,579.04 73.48,576.98 72.61,574.82 71.73,572.99 70.85,571.42 70.63,571.05 70.41,570.69 70.19,570.34 69.97,570.00 69.75,569.67 69.53,569.36 69.31,569.05 69.09,568.76 68.87,568.49 68.66,568.22 68.44,567.98 68.22,567.74 68.00,567.51 67.78,567.30 67.56,567.09 67.34,566.90 67.12,566.71 66.90,566.53 66.68,566.36 66.46,566.19 66.24,566.03 66.02,565.87 65.80,565.72 65.58,565.57 65.36,565.42 65.14,565.27 64.92,565.13 64.70,564.98 64.48,564.85 64.27,564.72 64.05,564.61 63.83,564.50 63.61,564.41 63.39,564.33 63.17,564.25 62.95,564.18 62.73,564.11 62.51,564.04 62.29,563.98 62.07,563.91 61.85,563.85 61.63,563.78 61.41,563.71 61.19,563.64 60.97,563.56 60.75,563.47 60.53,563.38 60.31,563.27 60.09,563.15 59.88,563.02 59.66,562.88 59.44,562.72 59.22,562.55 59.00,562.36 58.78,562.15 58.56,561.92 58.34,561.67 58.12,561.39 57.90,561.10 57.68,560.77 57.46,560.40 57.24,560.00 57.02,559.56 56.80,559.09 56.58,558.58 56.36,558.05 56.14,557.49 55.92,556.90 55.70,556.29 55.48,555.66 55.27,555.00 55.05,554.33 54.83,553.63 54.61,552.92 54.39,552.19 54.17,551.45 53.95,550.70 53.73,549.94 53.51,549.17 53.29,548.40 53.18,548.01 53.07,547.61 52.96,547.21 52.85,546.80 52.74,546.37 52.63,545.93 52.52,545.48 52.41,545.00 52.30,544.51 52.19,543.99 52.08,543.45 51.97,542.89 51.86,542.29 51.75,541.66 51.64,541.00 51.53,540.30 51.42,539.57 51.31,538.80 51.20,537.98 51.09,537.12 50.99,536.13 50.88,534.93 50.77,533.55 50.66,532.01 50.55,530.35 50.44,528.57 50.33,526.72 50.22,524.81 50.11,522.87 50.00,520.92 49.89,518.91 49.78,516.80 49.67,514.59 49.56,512.31 49.45,509.99 49.34,507.62 49.23,505.25 49.12,502.88 49.01,500.54 48.90,498.24" fill="#999999" fill-opacity="0.4"/>
<polygon points="48.90,498.24 49.01,498.64 49.12,499.06 49.23,499.51 49.34,499.96 49.45,500.43 49.56,500.90 49.67,501.38 49.78,501.85 49.89,502.32 50.00,502.78 50.11,503.23 50.22,503.66 50.33,504.07 50.44,504.45 50.55,504.81 50.66,505.13 50.77,505.42 50.88,505.66 50.99,505.86 51.09,506.02 51.20,506.14 51.31,506.27 51.42,506.39 51.53,506.51 51.64,506.63 51.75,506.75 51.86,506.86 51.97,506.98 52.08,507.09 52.19,507.20 52.30,507.31 52.41,507.42 52.52,507.53 52.63,507.63 52.74,507.73 52.85,507.84 52.96,507.94 53.07,508.04 53.18,508.13 53.29,508.23 53.51,508.42 53.73,508.60 53.95,508.77 54.17,508.95 54.39,509.11 54.61,509.27 54.83,509.43 55.05,509.58 55.27,509.73 55.48,509.87 55.70,510.01 55.92,510.14 56.14,510.27 56.36,510.40 56.58,510.52 56.80,510.64 57.02,510.76 57.24,510.87 57.46,510.98 57.68,511.08 57.90,511.19 58.12,511.29 58.34,511.39 58.56,511.48 58.78,511.58 59.00,511.67 59.22,511.76 59.44,511.84 59.66,511.93 59.88,512.01 60.09,512.10 60.31,512.18 60.53,512.26 60.75,512.34 60.97,512.42 61.19,512.50 61.41,512.57 61.63,512.65 61.85,512.72 62.07,512.79 62.29,512.86 62.51,512.92 62.73,512.99 62.95,513.05 63.17,513.11 63.39,513.17 63.61,513.23 63.83,513.29 64.05,513.34 64.27,513.39 64.48,513.44 64.70,513.49 64.92,513.54 65.14,513.59 65.36,513.63 65.58,513.68 65.80,513.72 66.02,513.76 66.24,513.80 66.46,513.84 66.68,513.88 66.90,513.92 67.12,513.95 67.34,513.99 67.56,514.02 67.78,514.06 68.00,514.09 68.22,514.12 68.44,514.16 68.66,514.19 68.87,514.22 69.09,514.25 69.31,514.28 69.53,514.31 69.75,514.34 69.97,514.36 70.19,514.39 70.41,514.42 70.63,514.45 70.85,514.48 71.73,514.59 72.61,514.70 73.48,514.82 74.36,514.94 75.24,515.08 76.12,515.23 77.00,515.39 77.87,515.58 78.75,515.79 79.63,516.02 80.51,516.26 81.39,516.52 82.26,516.79 83.14,517.06 84.02,517.35 84.90,517.64 85.78,517.94 86.65,518.23 87.53,518.54 88.41,518.84 89.29,519.13 90.17,519.43 91.04,519.72 91.92,520.00 92.80,520.27 93.68,520.54 94.56,520.82 95.43,521.10 96.31,521.38 97.19,521.66 98.07,521.93 98.95,522.20 99.82,522.46 100.70,522.71 101.58,522.95 102.46,523.17 103.34,523.37 104.21,523.56 105.09,523.73 105.97,523.91 106.85,524.09 107.73,524.26 108.60,524.44 109.48,524.61 110.36,524.77 111.24,524.94 112.12,525.10 112.99,525.26 113.87,525.41 114.75,525.56 115.63,525.70 116.51,525.84 117.38,525.97 118.26,526.09 119.14,526.21 120.02,526.32 120.90,526.42 121.77,526.51 122.65,526.59 123.53,526.66 124.41,526.72 125.29,526.78 126.16,526.82 127.04,526.87 127.92,526.90 128.80,526.93 129.68,526.96 130.55,526.99 131.43,527.01 132.31,527.02 133.19,527.03 134.07,527.04 134.94,527.05 135.82,527.05 136.70,527.05 137.58,527.05 138.46,527.04 139.33,527.03 140.21,527.02 141.09,527.01 141.97,527.00 142.85,526.99 143.72,526.97 144.60,526.95 145.48,526.94 146.36,526.92 147.24,526.90 148.11,526.89 148.99,526.87 149.87,526.85 150.75,526.84 151.63,526.82 152.50,526.81 153.38,526.79 154.26,526.78 155.14,526.77 156.02,526.76 156.89,526.76 157.77,526.75 158.65,526.75 158.65,541.98 157.77,541.97 156.89,541.97 156.02,541.97 155.14,541.96 154.26,541.97 153.38,541.97 152.50,541.97 151.63,541.98 150.75,541.98 149.87,541.99 148.99,542.00 148.11,542.00 147.24,542.01 146.36,542.02 145.48,542.03 144.60,542.04 143.72,542.04 142.85,542.05 141.97,542.05 141.09,542.06 140.21,542.06 139.33,542.06 138.46,542.06 137.58,542.05 136.70,542.05 135.82,542.04 134.94,542.03 134.07,542.02 133.19,542.00 132.31,541.98 131.43,541.96 130.55,541.93 129.68,541.90 128.80,541.87 127.92,541.83 127.04,541.78 126.16,541.74 125.29,541.68 124.41,541.63 123.53,541.56 122.65,541.47 121.77,541.38 120.90,541.28 120.02,541.17 119.14,541.05 118.26,540.92 117.38,540.78 116.51,540.64 115.63,540.50 114.75,540.35 113.87,540.19 112.99,540.03 112.12,539.87 111.24,539.71 110.36,539.55 109.48,539.38 108.60,539.22 107.73,539.06 106.85,538.90 105.97,538.75 105.09,538.60 104.21,538.45 103.34,538.31 102.46,538.17 101.58,538.03 100.70,537.88 99.82,537.74 98.95,537.59 98.07,537.45 97.19,537.30 96.31,537.14 95.43,536.98 94.56,536.82 93.68,536.65 92.80,536.47 91.92,536.30 91.04,536.13 90.17,535.96 89.29,535.80 88.41,535.63 87.53,535.46 86.65,535.29 85.78,535.12 84.90,534.94 84.02,534.74 83.14,534.54 82.26,534.33 81.39,534.10 80.51,533.85 79.63,533.59 78.75,533.31 77.87,533.00 77.00,532.65 76.12,532.28 75.24,531.86 74.36,531.42 73.48,530.94 72.61,530.43 71.73,529.88 70.85,529.30 70.63,529.15 70.41,529.00 70.19,528.85 69.97,528.70 69.75,528.54 69.53,528.37 69.31,528.20 69.09,528.02 68.87,527.84 68.66,527.66 68.44,527.47 68.22,527.27 68.00,527.07 67.78,526.87 67.56,526.67 67.34,526.46 67.12,526.25 66.90,526.04 66.68,525.83 66.46,525.61 66.24,525.40 66.02,525.18 65.80,524.96 65.58,524.74 65.36,524.53 65.14,524.31 64.92,524.10 64.70,523.88 64.48,523.67 64.27,523.46 64.05,523.25 63.83,523.05 63.61,522.85 63.39,522.65 63.17,522.45 62.95,522.26 62.73,522.08 62.51,521.89 62.29,521.72 62.07,521.55 61.85,521.38 61.63,521.22 61.41,521.07 61.19,520.92 60.97,520.78 60.75,520.64 60.53,520.51 60.31,520.38 60.09,520.25 59.88,520.12 59.66,520.00 59.44,519.88 59.22,519.76 59.00,519.65 58.78,519.54 58.56,519.43 58.34,519.32 58.12,519.22 57.90,519.12 57.68,519.02 57.46,518.92 57.24,518.82 57.02,518.73 56.80,518.63 56.58,518.54 56.36,518.45 56.14,518.36 55.92,518.27 55.70,518.19 55.48,518.10 55.27,518.01 55.05,517.93 54.83,517.84 54.61,517.76 54.39,517.68 54.17,517.59 53.95,517.51 53.73,517.42 53.51,517.34 53.29,517.26 53.18,517.22 53.07,517.17 52.96,517.13 52.85,517.09 52.74,517.05 52.63,517.00 52.52,516.96 52.41,516.92 52.30,516.87 52.19,516.83 52.08,516.79 51.97,516.74 51.86,516.70 51.75,516.66 51.64,516.61 51.53,516.57 51.42,516.52 51.31,516.48 51.20,516.43 51.09,516.38 50.99,516.34 50.88,516.30 50.77,516.26 50.66,516.22 50.55,516.18 50.44,516.15 50.33,516.12 50.22,516.08 50.11,516.05 50.00,516.03 49.89,516.00 49.78,515.97 49.67,515.94 49.56,515.91 49.45,515.88 49.34,515.86 49.23,515.83 49.12,515.80 49.01,515.77 48.90,515.74" fill="#999999" fill-opacity="0.4"/>
<polygon points="48.90,512.50 49.01,513.09 49.12,513.69 49.23,514.30 49.34,514.91 49.45,515.53 49.56,516.16 49.67,516.78 49.78,517.41 49.89,518.03 50.00,518.65 50.11,519.26 50.22,519.87 50.33,520.46 50.44,521.04 50.55,521.61 50.66,522.16 50.77,522.69 50.88,523.20 50.99,523.69 51.09,524.16 51.20,524.61 51.31,525.04 51.42,525.46 51.53,525.86 51.64,526.26 51.75,526.63 51.86,527.00 51.97,527.35 52.08,527.69 52.19,528.02 52.30,528.34 52.41,528.64 52.52,528.93 52.63,529.21 52.74,529.48 52.85,529.73 52.96,529.98 53.07,530.21 53.18,530.43 53.29,530.64 53.51,531.04 53.73,531.43 53.95,531.80 54.17,532.15 54.39,532.49 54.61,532.82 54.83,533.14 55.05,533.44 55.27,533.73 55.48,534.01 55.70,534.29 55.92,534.55 56.14,534.81 56.36,535.06 56.58,535.31 56.80,535.55 57.02,535.78 57.24,536.02 57.46,536.24 57.68,536.47 57.90,536.70 58.12,536.93 58.34,537.16 58.56,537.40 58.78,537.63 59.00,537.85 59.22,538.07 59.44,538.29 59.66,538.49 59.88,538.69 60.09,538.87 60.31,539.04 60.53,539.19 60.75,539.33 60.97,539.45 61.19,539.55 61.41,539.63 61.63,539.68 61.85,539.71 62.07,539.71 62.29,539.70 62.51,539.67 62.73,539.63 62.95,539.59 63.17,539.54 63.39,539.48 63.61,539.41 63.83,539.33 64.05,539.25 64.27,539.16 64.48,539.06 64.70,538.96 64.92,538.85 65.14,538.74 65.36,538.63 65.58,538.51 65.80,538.39 66.02,538.27 66.24,538.14 66.46,538.01 66.68,537.89 66.90,537.76 67.12,537.63 67.34,537.50 67.56,537.37 67.78,537.24 68.00,537.11 68.22,536.99 68.44,536.87 68.66,536.75 68.87,536.63 69.09,536.52 69.31,536.42 69.53,536.31 69.75,536.22 69.97,536.12 70.19,536.04 70.41,535.96 70.63,535.89 70.85,535.82 71.73,535.58 72.61,535.35 73.48,535.11 74.36,534.88 75.24,534.64 76.12,534.42 77.00,534.19 77.87,533.97 78.75,533.76 79.63,533.55 80.51,533.34 81.39,533.14 82.26,532.95 83.14,532.77 84.02,532.59 84.90,532.42 85.78,532.25 86.65,532.10 87.53,531.95 88.41,531.82 89.29,531.69 90.17,531.57 91.04,531.47 91.92,531.37 92.80,531.29 93.68,531.22 94.56,531.17 95.43,531.13 96.31,531.11 97.19,531.10 98.07,531.10 98.95,531.11 99.82,531.13 100.70,531.17 101.58,531.21 102.46,531.25 103.34,531.30 104.21,531.36 105.09,531.41 105.97,531.47 106.85,531.54 107.73,531.60 108.60,531.66 109.48,531.71 110.36,531.76 111.24,531.81 112.12,531.86 112.99,531.89 113.87,531.92 114.75,531.94 115.63,531.95 116.51,531.96 117.38,531.97 118.26,531.97 119.14,531.98 120.02,531.98 120.90,531.98 121.77,531.98 122.65,531.98 123.53,531.98 124.41,531.98 125.29,531.98 126.16,531.97 127.04,531.97 127.92,531.97 128.80,531.96 129.68,531.96 130.55,531.95 131.43,531.95 132.31,531.95 133.19,531.94 134.07,531.94 134.94,531.94 135.82,531.94 136.70,531.94 137.58,531.94 138.46,531.94 139.33,531.94 140.21,531.94 141.09,531.94 141.97,531.94 142.85,531.94 143.72,531.94 144.60,531.94 145.48,531.94 146.36,531.94 147.24,531.94 148.11,531.94 148.99,531.94 149.87,531.94 150.75,531.94 151.63,531.94 152.50,531.94 153.38,531.94 154.26,531.94 155.14,531.94 156.02,531.94 156.89,531.94 157.77,531.94 158.65,531.94 158.65,547.49 157.77,547.49 156.89,547.49 156.02,547.49 155.14,547.49 154.26,547.50 153.38,547.50 152.50,547.51 151.63,547.51 150.75,547.51 149.87,547.52 148.99,547.52 148.11,547.53 147.24,547.53 146.36,547.53 145.48,547.53 144.60,547.54 143.72,547.54 142.85,547.54 141.97,547.53 141.09,547.53 140.21,547.52 139.33,547.52 138.46,547.51 137.58,547.50 136.70,547.49 135.82,547.48 134.94,547.46 134.07,547.45 133.19,547.44 132.31,547.43 131.43,547.42 130.55,547.41 129.68,547.40 128.80,547.38 127.92,547.37 127.04,547.35 126.16,547.34 125.29,547.32 124.41,547.29 123.53,547.27 122.65,547.24 121.77,547.21 120.90,547.18 120.02,547.14 119.14,547.10 118.26,547.06 117.38,547.01 116.51,546.96 115.63,546.90 114.75,546.84 113.87,546.77 112.99,546.68 112.12,546.58 111.24,546.47 110.36,546.35 109.48,546.22 108.60,546.09 107.73,545.95 106.85,545.80 105.97,545.66 105.09,545.51 104.21,545.37 103.34,545.22 102.46,545.08 101.58,544.95 100.70,544.82 99.82,544.71 98.95,544.60 98.07,544.50 97.19,544.42 96.31,544.35 95.43,544.30 94.56,544.26 93.68,544.24 92.80,544.25 91.92,544.28 91.04,544.33 90.17,544.41 89.29,544.51 88.41,544.64 87.53,544.78 86.65,544.95 85.78,545.13 84.90,545.33 84.02,545.54 83.14,545.77 82.26,546.01 81.39,546.26 80.51,546.52 79.63,546.79 78.75,547.06 77.87,547.35 77.00,547.63 76.12,547.95 75.24,548.32 74.36,548.75 73.48,549.26 72.61,549.86 71.73,550.56 70.85,551.38 70.63,551.62 70.41,551.90 70.19,552.21 69.97,552.56 69.75,552.93 69.53,553.32 69.31,553.73 69.09,554.15 68.87,554.57 68.66,555.00 68.44,555.43 68.22,555.86 68.00,556.27 67.78,556.67 67.56,557.05 67.34,557.41 67.12,557.73 66.90,558.03 66.68,558.29 66.46,558.50 66.24,558.69 66.02,558.85 65.80,559.00 65.58,559.12 65.36,559.23 65.14,559.32 64.92,559.39 64.70,559.45 64.48,559.49 64.27,559.52 64.05,559.53 63.83,559.53 63.61,559.52 63.39,559.50 63.17,559.46 62.95,559.42 62.73,559.36 62.51,559.30 62.29,559.23 62.07,559.15 61.85,559.07 61.63,558.97 61.41,558.87 61.19,558.76 60.97,558.64 60.75,558.50 60.53,558.36 60.31,558.20 60.09,558.04 59.88,557.86 59.66,557.66 59.44,557.46 59.22,557.24 59.00,557.00 58.78,556.75 58.56,556.49 58.34,556.21 58.12,555.91 57.90,555.60 57.68,555.26 57.46,554.92 57.24,554.56 57.02,554.18 56.80,553.80 56.58,553.40 56.36,552.98 56.14,552.55 55.92,552.11 55.70,551.65 55.48,551.17 55.27,550.68 55.05,550.18 54.83,549.66 54.61,549.12 54.39,548.57 54.17,548.00 53.95,547.41 53.73,546.80 53.51,546.18 53.29,545.54 53.18,545.20 53.07,544.83 52.96,544.43 52.85,544.00 52.74,543.55 52.63,543.08 52.52,542.60 52.41,542.09 52.30,541.57 52.19,541.05 52.08,540.51 51.97,539.98 51.86,539.44 51.75,538.90 51.64,538.36 51.53,537.83 51.42,537.31 51.31,536.80 51.20,536.30 51.09,535.82 50.99,535.36 50.88,534.89 50.77,534.43 50.66,533.97 50.55,533.51 50.44,533.05 50.33,532.60 50.22,532.15 50.11,531.70 50.00,531.25 49.89,530.80 49.78,530.35 49.67,529.90 49.56,529.45 49.45,529.00 49.34,528.56 49.23,528.11 49.12,527.66 49.01,527.20 48.90,526.75" fill="#999999" fill-opacity="0.4"/>
<line x1="44.30" y1="532.94" x2="164.15" y2="532.94" stroke="#333" stroke-width="1.5" stroke-dasharray="3.3,2.1"/>
<polyline points="48.90,490.46 49.01,491.74 49.12,493.03 49.23,494.33 49.34,495.64 49.45,496.96 49.56,498.29 49.67,499.62 49.78,500.95 49.89,502.27 50.00,503.59 50.11,504.89 50.22,506.19 50.33,507.47 50.44,508.73 50.55,509.96 50.66,511.18 50.77,512.37 50.88,513.52 50.99,514.65 51.09,515.74 51.20,516.80 51.31,517.84 51.42,518.86 51.53,519.87 51.64,520.85 51.75,521.82 51.86,522.77 51.97,523.70 52.08,524.61 52.19,525.50 52.30,526.37 52.41,527.21 52.52,528.04 52.63,528.85 52.74,529.63 52.85,530.40 52.96,531.14 53.07,531.86 53.18,532.56 53.29,533.23 53.51,534.51 53.73,535.69 53.95,536.79 54.17,537.79 54.39,538.72 54.61,539.56 54.83,540.34 55.05,541.06 55.27,541.71 55.48,542.30 55.70,542.85 55.92,543.36 56.14,543.82 56.36,544.25 56.58,544.65 56.80,545.02 57.02,545.36 57.24,545.68 57.46,545.97 57.68,546.25 57.90,546.51 58.12,546.77 58.34,547.01 58.56,547.25 58.78,547.49 59.00,547.72 59.22,547.95 59.44,548.16 59.66,548.37 59.88,548.56 60.09,548.74 60.31,548.90 60.53,549.04 60.75,549.17 60.97,549.27 61.19,549.36 61.41,549.41 61.63,549.45 61.85,549.45 62.07,549.43 62.29,549.38 62.51,549.31 62.73,549.22 62.95,549.11 63.17,548.98 63.39,548.84 63.61,548.68 63.83,548.51 64.05,548.33 64.27,548.14 64.48,547.95 64.70,547.75 64.92,547.55 65.14,547.35 65.36,547.14 65.58,546.94 65.80,546.74 66.02,546.55 66.24,546.37 66.46,546.19 66.68,546.01 66.90,545.82 67.12,545.62 67.34,545.42 67.56,545.20 67.78,544.98 68.00,544.76 68.22,544.54 68.44,544.32 68.66,544.10 68.87,543.89 69.09,543.69 69.31,543.50 69.53,543.32 69.75,543.16 69.97,543.01 70.19,542.88 70.41,542.77 70.63,542.69 70.85,542.63 71.73,542.48 72.61,542.38 73.48,542.34 74.36,542.34 75.24,542.38 76.12,542.44 77.00,542.52 77.87,542.62 78.75,542.71 79.63,542.80 80.51,542.88 81.39,542.93 82.26,542.97 83.14,543.00 84.02,543.04 84.90,543.09 85.78,543.13 86.65,543.18 87.53,543.22 88.41,543.26 89.29,543.28 90.17,543.30 91.04,543.31 91.92,543.30 92.80,543.28 93.68,543.24 94.56,543.19 95.43,543.15 96.31,543.09 97.19,543.03 98.07,542.97 98.95,542.90 99.82,542.84 100.70,542.76 101.58,542.69 102.46,542.61 103.34,542.54 104.21,542.46 105.09,542.38 105.97,542.31 106.85,542.23 107.73,542.16 108.60,542.08 109.48,542.01 110.36,541.94 111.24,541.88 112.12,541.81 112.99,541.76 113.87,541.70 114.75,541.66 115.63,541.61 116.51,541.57 117.38,541.53 118.26,541.50 119.14,541.46 120.02,541.43 120.90,541.40 121.77,541.38 122.65,541.35 123.53,541.33 124.41,541.30 125.29,541.28 126.16,541.26 127.04,541.24 127.92,541.22 128.80,541.20 129.68,541.18 130.55,541.16 131.43,541.14 132.31,541.12 133.19,541.10 134.07,541.08 134.94,541.06 135.82,541.03 136.70,541.01 137.58,540.98 138.46,540.96 139.33,540.93 140.21,540.90 141.09,540.88 141.97,540.85 142.85,540.83 143.72,540.80 144.60,540.77 145.48,540.75 146.36,540.72 147.24,540.70 148.11,540.67 148.99,540.65 149.87,540.62 150.75,540.59 151.63,540.57 152.50,540.54 153.38,540.52 154.26,540.49 155.14,540.46 156.02,540.44 156.89,540.41 157.77,540.39 158.65,540.36" fill="none" stroke="#6e4433" stroke-width="1.05" stroke-linejoin="round"/>
<circle cx="48.90" cy="490.46" r="1.5" fill="#6e4433"/>
<circle cx="53.29" cy="536.47" r="1.5" fill="#6e4433"/>
<circle cx="55.48" cy="540.36" r="1.5" fill="#6e4433"/>
<circle cx="70.85" cy="541.33" r="1.5" fill="#6e4433"/>
<circle cx="92.80" cy="543.60" r="1.5" fill="#6e4433"/>
<circle cx="114.75" cy="541.33" r="1.5" fill="#6e4433"/>
<circle cx="136.70" cy="540.68" r="1.5" fill="#6e4433"/>
<circle cx="158.65" cy="541.01" r="1.5" fill="#6e4433"/>
<polyline points="48.90,506.02 49.01,506.32 49.12,506.63 49.23,506.95 49.34,507.28 49.45,507.62 49.56,507.96 49.67,508.31 49.78,508.65 49.89,508.99 50.00,509.32 50.11,509.65 50.22,509.97 50.33,510.27 50.44,510.56 50.55,510.83 50.66,511.08 50.77,511.31 50.88,511.52 50.99,511.70 51.09,511.85 51.20,511.98 51.31,512.10 51.42,512.22 51.53,512.33 51.64,512.44 51.75,512.54 51.86,512.63 51.97,512.72 52.08,512.80 52.19,512.88 52.30,512.95 52.41,513.02 52.52,513.08 52.63,513.14 52.74,513.20 52.85,513.25 52.96,513.30 53.07,513.35 53.18,513.39 53.29,513.43 53.51,513.51 53.73,513.58 53.95,513.64 54.17,513.70 54.39,513.76 54.61,513.82 54.83,513.89 55.05,513.96 55.27,514.03 55.48,514.12 55.70,514.20 55.92,514.27 56.14,514.34 56.36,514.40 56.58,514.45 56.80,514.50 57.02,514.55 57.24,514.59 57.46,514.64 57.68,514.68 57.90,514.73 58.12,514.77 58.34,514.83 58.56,514.88 58.78,514.95 59.00,515.02 59.22,515.10 59.44,515.19 59.66,515.30 59.88,515.41 60.09,515.54 60.31,515.67 60.53,515.81 60.75,515.96 60.97,516.11 61.19,516.27 61.41,516.43 61.63,516.60 61.85,516.77 62.07,516.95 62.29,517.12 62.51,517.30 62.73,517.49 62.95,517.67 63.17,517.85 63.39,518.04 63.61,518.22 63.83,518.40 64.05,518.59 64.27,518.77 64.48,518.94 64.70,519.12 64.92,519.29 65.14,519.46 65.36,519.62 65.58,519.79 65.80,519.95 66.02,520.12 66.24,520.29 66.46,520.47 66.68,520.64 66.90,520.82 67.12,520.99 67.34,521.16 67.56,521.34 67.78,521.51 68.00,521.68 68.22,521.85 68.44,522.01 68.66,522.17 68.87,522.33 69.09,522.49 69.31,522.64 69.53,522.78 69.75,522.92 69.97,523.05 70.19,523.18 70.41,523.30 70.63,523.41 70.85,523.51 71.73,523.90 72.61,524.26 73.48,524.60 74.36,524.93 75.24,525.23 76.12,525.52 77.00,525.79 77.87,526.05 78.75,526.30 79.63,526.53 80.51,526.76 81.39,526.97 82.26,527.18 83.14,527.35 84.02,527.50 84.90,527.62 85.78,527.74 86.65,527.84 87.53,527.93 88.41,528.02 89.29,528.13 90.17,528.24 91.04,528.37 91.92,528.52 92.80,528.70 93.68,528.90 94.56,529.13 95.43,529.38 96.31,529.65 97.19,529.92 98.07,530.20 98.95,530.49 99.82,530.77 100.70,531.05 101.58,531.32 102.46,531.58 103.34,531.82 104.21,532.05 105.09,532.27 105.97,532.49 106.85,532.71 107.73,532.92 108.60,533.13 109.48,533.33 110.36,533.51 111.24,533.69 112.12,533.85 112.99,533.99 113.87,534.11 114.75,534.20 115.63,534.29 116.51,534.36 117.38,534.43 118.26,534.50 119.14,534.56 120.02,534.61 120.90,534.66 121.77,534.70 122.65,534.74 123.53,534.78 124.41,534.81 125.29,534.84 126.16,534.87 127.04,534.90 127.92,534.92 128.80,534.95 129.68,534.97 130.55,534.99 131.43,535.02 132.31,535.04 133.19,535.06 134.07,535.09 134.94,535.12 135.82,535.14 136.70,535.18 137.58,535.21 138.46,535.24 139.33,535.27 140.21,535.30 141.09,535.33 141.97,535.35 142.85,535.38 143.72,535.41 144.60,535.43 145.48,535.46 146.36,535.48 147.24,535.51 148.11,535.53 148.99,535.56 149.87,535.58 150.75,535.60 151.63,535.63 152.50,535.65 153.38,535.68 154.26,535.70 155.14,535.72 156.02,535.75 156.89,535.77 157.77,535.80 158.65,535.82" fill="none" stroke="#c8501e" stroke-width="1.05" stroke-linejoin="round"/>
<circle cx="48.90" cy="504.07" r="1.5" fill="#c8501e"/>
<circle cx="51.09" cy="511.85" r="1.5" fill="#c8501e"/>
<circle cx="53.29" cy="517.68" r="1.5" fill="#c8501e"/>
<circle cx="55.48" cy="515.09" r="1.5" fill="#c8501e"/>
<circle cx="57.68" cy="515.74" r="1.5" fill="#c8501e"/>
<circle cx="59.88" cy="515.74" r="1.5" fill="#c8501e"/>
<circle cx="70.85" cy="523.51" r="1.5" fill="#c8501e"/>
<circle cx="92.80" cy="528.37" r="1.5" fill="#c8501e"/>
<circle cx="114.75" cy="534.53" r="1.5" fill="#c8501e"/>
<circle cx="136.70" cy="533.88" r="1.5" fill="#c8501e"/>
<circle cx="158.65" cy="535.82" r="1.5" fill="#c8501e"/>
<polyline points="48.90,519.62 49.01,520.11 49.12,520.61 49.23,521.11 49.34,521.62 49.45,522.13 49.56,522.64 49.67,523.15 49.78,523.67 49.89,524.18 50.00,524.69 50.11,525.19 50.22,525.69 50.33,526.18 50.44,526.67 50.55,527.14 50.66,527.61 50.77,528.06 50.88,528.50 50.99,528.93 51.09,529.34 51.20,529.74 51.31,530.13 51.42,530.51 51.53,530.88 51.64,531.24 51.75,531.59 51.86,531.93 51.97,532.26 52.08,532.59 52.19,532.91 52.30,533.22 52.41,533.53 52.52,533.83 52.63,534.12 52.74,534.42 52.85,534.70 52.96,534.99 53.07,535.27 53.18,535.55 53.29,535.82 53.51,536.37 53.73,536.90 53.95,537.42 54.17,537.92 54.39,538.39 54.61,538.84 54.83,539.27 55.05,539.67 55.27,540.03 55.48,540.36 55.70,540.66 55.92,540.94 56.14,541.21 56.36,541.46 56.58,541.70 56.80,541.92 57.02,542.14 57.24,542.34 57.46,542.53 57.68,542.72 57.90,542.90 58.12,543.08 58.34,543.25 58.56,543.43 58.78,543.60 59.00,543.78 59.22,543.96 59.44,544.14 59.66,544.33 59.88,544.51 60.09,544.68 60.31,544.85 60.53,545.01 60.75,545.15 60.97,545.27 61.19,545.38 61.41,545.46 61.63,545.52 61.85,545.55 62.07,545.54 62.29,545.51 62.51,545.46 62.73,545.39 62.95,545.30 63.17,545.20 63.39,545.08 63.61,544.95 63.83,544.81 64.05,544.66 64.27,544.51 64.48,544.34 64.70,544.18 64.92,544.01 65.14,543.85 65.36,543.68 65.58,543.52 65.80,543.37 66.02,543.22 66.24,543.08 66.46,542.95 66.68,542.83 66.90,542.70 67.12,542.57 67.34,542.44 67.56,542.31 67.78,542.17 68.00,542.04 68.22,541.91 68.44,541.78 68.66,541.65 68.87,541.53 69.09,541.41 69.31,541.29 69.53,541.18 69.75,541.08 69.97,540.98 70.19,540.90 70.41,540.82 70.63,540.74 70.85,540.68 71.73,540.47 72.61,540.28 73.48,540.11 74.36,539.95 75.24,539.81 76.12,539.68 77.00,539.56 77.87,539.46 78.75,539.36 79.63,539.27 80.51,539.18 81.39,539.10 82.26,539.03 83.14,538.95 84.02,538.88 84.90,538.81 85.78,538.75 86.65,538.70 87.53,538.66 88.41,538.64 89.29,538.62 90.17,538.62 91.04,538.64 91.92,538.68 92.80,538.74 93.68,538.81 94.56,538.90 95.43,538.99 96.31,539.09 97.19,539.20 98.07,539.31 98.95,539.43 99.82,539.55 100.70,539.68 101.58,539.81 102.46,539.95 103.34,540.08 104.21,540.22 105.09,540.36 105.97,540.49 106.85,540.63 107.73,540.76 108.60,540.89 109.48,541.02 110.36,541.14 111.24,541.26 112.12,541.37 112.99,541.47 113.87,541.57 114.75,541.66 115.63,541.74 116.51,541.82 117.38,541.90 118.26,541.97 119.14,542.04 120.02,542.11 120.90,542.17 121.77,542.24 122.65,542.30 123.53,542.35 124.41,542.41 125.29,542.46 126.16,542.51 127.04,542.56 127.92,542.60 128.80,542.65 129.68,542.69 130.55,542.73 131.43,542.77 132.31,542.80 133.19,542.84 134.07,542.87 134.94,542.90 135.82,542.93 136.70,542.95 137.58,542.98 138.46,543.00 139.33,543.01 140.21,543.03 141.09,543.03 141.97,543.04 142.85,543.05 143.72,543.05 144.60,543.05 145.48,543.05 146.36,543.04 147.24,543.04 148.11,543.03 148.99,543.02 149.87,543.01 150.75,543.01 151.63,543.00 152.50,542.99 153.38,542.98 154.26,542.97 155.14,542.97 156.02,542.96 156.89,542.96 157.77,542.95 158.65,542.95" fill="none" stroke="#f5903a" stroke-width="1.05" stroke-linejoin="round"/>
<circle cx="48.90" cy="518.33" r="1.5" fill="#f5903a"/>
<circle cx="51.09" cy="529.34" r="1.5" fill="#f5903a"/>
<circle cx="53.29" cy="535.82" r="1.5" fill="#f5903a"/>
<circle cx="55.48" cy="539.32" r="1.5" fill="#f5903a"/>
<circle cx="57.68" cy="541.01" r="1.5" fill="#f5903a"/>
<circle cx="59.88" cy="541.66" r="1.5" fill="#f5903a"/>
<circle cx="70.85" cy="540.36" r="1.5" fill="#f5903a"/>
<circle cx="92.80" cy="538.42" r="1.5" fill="#f5903a"/>
<circle cx="114.75" cy="542.30" r="1.5" fill="#f5903a"/>
<circle cx="136.70" cy="542.95" r="1.5" fill="#f5903a"/>
<circle cx="158.65" cy="542.95" r="1.5" fill="#f5903a"/>
<line x1="43.50" y1="472.80" x2="43.50" y2="601.80" stroke="#231f20" stroke-width="1.2" />
<line x1="42.90" y1="601.20" x2="164.20" y2="601.20" stroke="#231f20" stroke-width="1.2" />
<line x1="40.20" y1="478.80" x2="43.50" y2="478.80" stroke="#231f20" stroke-width="0.9" />
<text x="38.50" y="481.50" font-size="7.6" fill="#2a2a2a" text-anchor="end" stroke="#2a2a2a" stroke-width="0.05" >10</text>
<line x1="40.20" y1="511.20" x2="43.50" y2="511.20" stroke="#231f20" stroke-width="0.9" />
<text x="38.50" y="513.90" font-size="7.6" fill="#2a2a2a" text-anchor="end" stroke="#2a2a2a" stroke-width="0.05" >5</text>
<line x1="40.20" y1="543.60" x2="43.50" y2="543.60" stroke="#231f20" stroke-width="0.9" />
<text x="38.50" y="546.30" font-size="7.6" fill="#2a2a2a" text-anchor="end" stroke="#2a2a2a" stroke-width="0.05" >0</text>
<line x1="40.20" y1="576.00" x2="43.50" y2="576.00" stroke="#231f20" stroke-width="0.9" />
<text x="38.50" y="578.70" font-size="7.6" fill="#2a2a2a" text-anchor="end" stroke="#2a2a2a" stroke-width="0.05" >−5</text>
<line x1="48.90" y1="601.20" x2="48.90" y2="604.40" stroke="#231f20" stroke-width="0.9" />
<text x="48.90" y="613.60" font-size="7.6" fill="#2a2a2a" text-anchor="middle" stroke="#2a2a2a" stroke-width="0.05" >0</text>
<line x1="70.85" y1="601.20" x2="70.85" y2="604.40" stroke="#231f20" stroke-width="0.9" />
<text x="70.85" y="613.60" font-size="7.6" fill="#2a2a2a" text-anchor="middle" stroke="#2a2a2a" stroke-width="0.05" >100</text>
<line x1="92.80" y1="601.20" x2="92.80" y2="604.40" stroke="#231f20" stroke-width="0.9" />
<text x="92.80" y="613.60" font-size="7.6" fill="#2a2a2a" text-anchor="middle" stroke="#2a2a2a" stroke-width="0.05" >200</text>
<line x1="114.75" y1="601.20" x2="114.75" y2="604.40" stroke="#231f20" stroke-width="0.9" />
<text x="114.75" y="613.60" font-size="7.6" fill="#2a2a2a" text-anchor="middle" stroke="#2a2a2a" stroke-width="0.05" >300</text>
<line x1="136.70" y1="601.20" x2="136.70" y2="604.40" stroke="#231f20" stroke-width="0.9" />
<text x="136.70" y="613.60" font-size="7.6" fill="#2a2a2a" text-anchor="middle" stroke="#2a2a2a" stroke-width="0.05" >400</text>
<line x1="158.65" y1="601.20" x2="158.65" y2="604.40" stroke="#231f20" stroke-width="0.9" />
<text x="158.65" y="613.60" font-size="7.6" fill="#2a2a2a" text-anchor="middle" stroke="#2a2a2a" stroke-width="0.05" >500</text>
<text x="104.28" y="627.1" font-size="9.6" fill="#262626" stroke="#262626" stroke-width="0.2" text-anchor="middle" textLength="67.5" lengthAdjust="spacingAndGlyphs">Flanking region (bp)</text>
<text transform="translate(23.70,538.2) rotate(-90)" font-size="9.0" fill="#262626" stroke="#262626" stroke-width="0.2" text-anchor="middle" textLength="112" lengthAdjust="spacingAndGlyphs">Enrichment of mutations (<tspan font-style="italic">Z</tspan> score)</text>
<rect x="130.60" y="473.10" width="12.50" height="5.60" fill="#ebebeb" />
<line x1="130.60" y1="475.90" x2="143.10" y2="475.90" stroke="#6e4433" stroke-width="1.2" />
<circle cx="136.85" cy="475.90" r="1.5" fill="#6e4433"/>
<text x="145.90" y="478.70" font-size="7.0" fill="#231f20" text-anchor="start" stroke="#231f20" stroke-width="0.15" >MYB</text>
<rect x="130.60" y="483.90" width="12.50" height="5.60" fill="#ebebeb" />
<line x1="130.60" y1="486.70" x2="143.10" y2="486.70" stroke="#c8501e" stroke-width="1.2" />
<circle cx="136.85" cy="486.70" r="1.5" fill="#c8501e"/>
<text x="145.90" y="489.50" font-size="7.0" fill="#231f20" text-anchor="start" stroke="#231f20" stroke-width="0.15" >PU.1</text>
<rect x="130.60" y="496.10" width="12.50" height="5.60" fill="#ebebeb" />
<line x1="130.60" y1="498.90" x2="143.10" y2="498.90" stroke="#f5903a" stroke-width="1.2" />
<circle cx="136.85" cy="498.90" r="1.5" fill="#f5903a"/>
<text x="145.90" y="501.70" font-size="7.0" fill="#231f20" text-anchor="start" stroke="#231f20" stroke-width="0.15" >IRF1</text>
<polygon points="211.50,540.36 211.61,539.74 211.72,539.10 211.83,538.46 211.94,537.80 212.05,537.15 212.16,536.48 212.27,535.82 212.38,535.16 212.49,534.49 212.60,533.84 212.71,533.19 212.82,532.55 212.93,531.93 213.04,531.31 213.15,530.72 213.26,530.14 213.37,529.58 213.48,529.04 213.59,528.53 213.69,528.05 213.80,527.59 213.91,527.15 214.02,526.73 214.13,526.32 214.24,525.94 214.35,525.57 214.46,525.21 214.57,524.87 214.68,524.54 214.79,524.23 214.90,523.92 215.01,523.63 215.12,523.35 215.23,523.07 215.34,522.81 215.45,522.55 215.56,522.30 215.67,522.05 215.78,521.81 215.89,521.57 216.11,521.10 216.33,520.63 216.55,520.16 216.77,519.71 216.99,519.26 217.21,518.82 217.43,518.38 217.65,517.96 217.87,517.54 218.09,517.14 218.30,516.75 218.52,516.36 218.74,515.99 218.96,515.63 219.18,515.29 219.40,514.96 219.62,514.64 219.84,514.34 220.06,514.06 220.28,513.79 220.50,513.54 220.72,513.30 220.94,513.07 221.16,512.86 221.38,512.66 221.60,512.47 221.82,512.30 222.04,512.13 222.26,511.98 222.47,511.85 222.69,511.72 222.91,511.61 223.13,511.52 223.35,511.43 223.57,511.36 223.79,511.30 224.01,511.26 224.23,511.23 224.45,511.21 224.67,511.20 224.89,511.20 225.11,511.21 225.33,511.23 225.55,511.25 225.77,511.27 225.99,511.30 226.21,511.34 226.43,511.38 226.65,511.42 226.87,511.47 227.08,511.52 227.30,511.58 227.52,511.64 227.74,511.70 227.96,511.77 228.18,511.84 228.40,511.91 228.62,511.98 228.84,512.06 229.06,512.14 229.28,512.22 229.50,512.30 229.72,512.38 229.94,512.46 230.16,512.55 230.38,512.64 230.60,512.72 230.82,512.81 231.04,512.90 231.25,512.98 231.47,513.07 231.69,513.15 231.91,513.24 232.13,513.32 232.35,513.40 232.57,513.49 232.79,513.57 233.01,513.64 233.23,513.72 233.45,513.79 234.33,514.09 235.21,514.41 236.08,514.73 236.96,515.07 237.84,515.41 238.72,515.76 239.60,516.09 240.47,516.42 241.35,516.74 242.23,517.04 243.11,517.32 243.99,517.57 244.86,517.79 245.74,517.97 246.62,518.13 247.50,518.27 248.38,518.38 249.25,518.49 250.13,518.58 251.01,518.68 251.89,518.77 252.77,518.88 253.64,519.00 254.52,519.14 255.40,519.30 256.28,519.49 257.16,519.69 258.03,519.91 258.91,520.13 259.79,520.37 260.67,520.61 261.55,520.85 262.42,521.09 263.30,521.33 264.18,521.56 265.06,521.78 265.94,521.98 266.81,522.17 267.69,522.35 268.57,522.52 269.45,522.69 270.33,522.87 271.20,523.04 272.08,523.21 272.96,523.38 273.84,523.54 274.72,523.70 275.59,523.87 276.47,524.02 277.35,524.18 278.23,524.33 279.11,524.48 279.98,524.62 280.86,524.76 281.74,524.89 282.62,525.02 283.50,525.15 284.37,525.26 285.25,525.38 286.13,525.48 287.01,525.59 287.89,525.68 288.76,525.77 289.64,525.87 290.52,525.95 291.40,526.04 292.28,526.12 293.15,526.20 294.03,526.28 294.91,526.36 295.79,526.43 296.67,526.50 297.54,526.57 298.42,526.64 299.30,526.71 300.18,526.77 301.06,526.84 301.93,526.90 302.81,526.97 303.69,527.03 304.57,527.09 305.45,527.15 306.32,527.21 307.20,527.27 308.08,527.33 308.96,527.38 309.84,527.44 310.71,527.50 311.59,527.56 312.47,527.62 313.35,527.68 314.23,527.74 315.10,527.80 315.98,527.86 316.86,527.92 317.74,527.98 318.62,528.04 319.49,528.11 320.37,528.18 321.25,528.24 321.25,534.53 320.37,534.55 319.49,534.56 318.62,534.58 317.74,534.60 316.86,534.62 315.98,534.64 315.10,534.66 314.23,534.68 313.35,534.69 312.47,534.71 311.59,534.73 310.71,534.75 309.84,534.77 308.96,534.79 308.08,534.81 307.20,534.83 306.32,534.85 305.45,534.87 304.57,534.89 303.69,534.91 302.81,534.93 301.93,534.94 301.06,534.96 300.18,534.98 299.30,535.00 298.42,535.01 297.54,535.03 296.67,535.05 295.79,535.06 294.91,535.08 294.03,535.09 293.15,535.11 292.28,535.12 291.40,535.14 290.52,535.15 289.64,535.16 288.76,535.17 287.89,535.18 287.01,535.19 286.13,535.20 285.25,535.20 284.37,535.21 283.50,535.21 282.62,535.21 281.74,535.21 280.86,535.21 279.98,535.21 279.11,535.21 278.23,535.21 277.35,535.21 276.47,535.20 275.59,535.20 274.72,535.20 273.84,535.19 272.96,535.19 272.08,535.19 271.20,535.18 270.33,535.18 269.45,535.18 268.57,535.18 267.69,535.18 266.81,535.18 265.94,535.17 265.06,535.16 264.18,535.14 263.30,535.12 262.42,535.11 261.55,535.09 260.67,535.08 259.79,535.07 258.91,535.07 258.03,535.08 257.16,535.10 256.28,535.13 255.40,535.18 254.52,535.23 253.64,535.30 252.77,535.37 251.89,535.46 251.01,535.56 250.13,535.69 249.25,535.84 248.38,536.01 247.50,536.23 246.62,536.47 245.74,536.81 244.86,537.27 243.99,537.80 243.11,538.36 242.23,538.90 241.35,539.39 240.47,539.77 239.60,540.00 238.72,540.01 237.84,539.71 236.96,539.18 236.08,538.51 235.21,537.77 234.33,536.96 233.45,536.05 233.23,535.82 233.01,535.57 232.79,535.33 232.57,535.08 232.35,534.83 232.13,534.59 231.91,534.34 231.69,534.08 231.47,533.84 231.25,533.59 231.04,533.34 230.82,533.10 230.60,532.85 230.38,532.62 230.16,532.38 229.94,532.15 229.72,531.93 229.50,531.71 229.28,531.49 229.06,531.29 228.84,531.09 228.62,530.88 228.40,530.68 228.18,530.48 227.96,530.29 227.74,530.09 227.52,529.91 227.30,529.72 227.08,529.54 226.87,529.36 226.65,529.20 226.43,529.03 226.21,528.88 225.99,528.73 225.77,528.59 225.55,528.46 225.33,528.34 225.11,528.23 224.89,528.13 224.67,528.05 224.45,527.97 224.23,527.88 224.01,527.80 223.79,527.72 223.57,527.64 223.35,527.56 223.13,527.50 222.91,527.44 222.69,527.39 222.47,527.36 222.26,527.34 222.04,527.33 221.82,527.34 221.60,527.37 221.38,527.43 221.16,527.50 220.94,527.60 220.72,527.72 220.50,527.87 220.28,528.05 220.06,528.26 219.84,528.50 219.62,528.76 219.40,529.05 219.18,529.36 218.96,529.70 218.74,530.06 218.52,530.43 218.30,530.83 218.09,531.23 217.87,531.66 217.65,532.09 217.43,532.54 217.21,532.99 216.99,533.45 216.77,533.92 216.55,534.40 216.33,534.87 216.11,535.35 215.89,535.82 215.78,536.06 215.67,536.28 215.56,536.49 215.45,536.70 215.34,536.91 215.23,537.13 215.12,537.35 215.01,537.58 214.90,537.82 214.79,538.08 214.68,538.36 214.57,538.66 214.46,538.99 214.35,539.35 214.24,539.74 214.13,540.16 214.02,540.63 213.91,541.14 213.80,541.70 213.69,542.30 213.59,542.97 213.48,543.68 213.37,544.46 213.26,545.27 213.15,546.14 213.04,547.04 212.93,547.97 212.82,548.93 212.71,549.92 212.60,550.93 212.49,551.95 212.38,552.99 212.27,554.03 212.16,555.07 212.05,556.11 211.94,557.14 211.83,558.16 211.72,559.16 211.61,560.14 211.50,561.10" fill="#999999" fill-opacity="0.4"/>
<polygon points="211.50,544.90 211.61,544.44 211.72,543.98 211.83,543.51 211.94,543.04 212.05,542.57 212.16,542.10 212.27,541.63 212.38,541.16 212.49,540.69 212.60,540.22 212.71,539.75 212.82,539.29 212.93,538.83 213.04,538.38 213.15,537.93 213.26,537.49 213.37,537.06 213.48,536.64 213.59,536.23 213.69,535.82 213.80,535.43 213.91,535.03 214.02,534.64 214.13,534.25 214.24,533.87 214.35,533.49 214.46,533.13 214.57,532.78 214.68,532.44 214.79,532.12 214.90,531.82 215.01,531.54 215.12,531.27 215.23,531.04 215.34,530.82 215.45,530.64 215.56,530.47 215.67,530.30 215.78,530.14 215.89,529.98 216.11,529.65 216.33,529.34 216.55,529.03 216.77,528.73 216.99,528.44 217.21,528.15 217.43,527.87 217.65,527.59 217.87,527.32 218.09,527.06 218.30,526.79 218.52,526.53 218.74,526.28 218.96,526.03 219.18,525.78 219.40,525.54 219.62,525.29 219.84,525.05 220.06,524.81 220.28,524.58 220.50,524.34 220.72,524.10 220.94,523.87 221.16,523.63 221.38,523.40 221.60,523.17 221.82,522.93 222.04,522.69 222.26,522.46 222.47,522.22 222.69,521.98 222.91,521.75 223.13,521.52 223.35,521.29 223.57,521.07 223.79,520.85 224.01,520.64 224.23,520.43 224.45,520.22 224.67,520.01 224.89,519.81 225.11,519.60 225.33,519.40 225.55,519.20 225.77,518.99 225.99,518.79 226.21,518.59 226.43,518.38 226.65,518.18 226.87,517.97 227.08,517.76 227.30,517.55 227.52,517.34 227.74,517.12 227.96,516.90 228.18,516.68 228.40,516.45 228.62,516.22 228.84,515.98 229.06,515.74 229.28,515.50 229.50,515.27 229.72,515.05 229.94,514.84 230.16,514.62 230.38,514.39 230.60,514.15 230.82,513.89 231.04,513.61 231.25,513.31 231.47,512.97 231.69,512.59 231.91,512.18 232.13,511.71 232.35,511.20 232.57,510.60 232.79,509.89 233.01,509.08 233.23,508.21 233.45,507.30 234.33,503.53 235.21,500.57 236.08,498.54 236.96,496.76 237.84,495.36 238.72,494.47 239.60,494.23 240.47,494.70 241.35,495.73 242.23,497.13 243.11,498.69 243.99,500.25 244.86,502.01 245.74,503.98 246.62,506.02 247.50,508.00 248.38,509.77 249.25,511.20 250.13,512.30 251.01,513.20 251.89,513.95 252.77,514.57 253.64,515.10 254.52,515.57 255.40,516.01 256.28,516.45 257.16,516.87 258.03,517.27 258.91,517.65 259.79,518.01 260.67,518.35 261.55,518.67 262.42,518.97 263.30,519.25 264.18,519.52 265.06,519.77 265.94,520.00 266.81,520.22 267.69,520.43 268.57,520.62 269.45,520.82 270.33,521.00 271.20,521.18 272.08,521.35 272.96,521.51 273.84,521.67 274.72,521.83 275.59,521.98 276.47,522.12 277.35,522.26 278.23,522.39 279.11,522.52 279.98,522.65 280.86,522.78 281.74,522.90 282.62,523.02 283.50,523.13 284.37,523.24 285.25,523.36 286.13,523.47 287.01,523.58 287.89,523.69 288.76,523.81 289.64,523.93 290.52,524.05 291.40,524.18 292.28,524.31 293.15,524.44 294.03,524.56 294.91,524.69 295.79,524.81 296.67,524.93 297.54,525.05 298.42,525.16 299.30,525.26 300.18,525.35 301.06,525.44 301.93,525.51 302.81,525.58 303.69,525.63 304.57,525.67 305.45,525.70 306.32,525.71 307.20,525.70 308.08,525.68 308.96,525.64 309.84,525.59 310.71,525.47 311.59,525.28 312.47,525.03 313.35,524.71 314.23,524.34 315.10,523.94 315.98,523.51 316.86,523.06 317.74,522.60 318.62,522.15 319.49,521.71 320.37,521.30 321.25,520.92 321.25,558.57 320.37,557.92 319.49,557.21 318.62,556.47 317.74,555.71 316.86,554.94 315.98,554.19 315.10,553.46 314.23,552.77 313.35,552.13 312.47,551.57 311.59,551.10 310.71,550.72 309.84,550.47 308.96,550.29 308.08,550.15 307.20,550.04 306.32,549.96 305.45,549.91 304.57,549.88 303.69,549.87 302.81,549.88 301.93,549.91 301.06,549.96 300.18,550.02 299.30,550.09 298.42,550.17 297.54,550.26 296.67,550.35 295.79,550.45 294.91,550.55 294.03,550.64 293.15,550.74 292.28,550.83 291.40,550.91 290.52,550.98 289.64,551.03 288.76,551.08 287.89,551.11 287.01,551.12 286.13,551.12 285.25,551.12 284.37,551.12 283.50,551.13 282.62,551.13 281.74,551.14 280.86,551.14 279.98,551.14 279.11,551.15 278.23,551.15 277.35,551.15 276.47,551.15 275.59,551.15 274.72,551.14 273.84,551.13 272.96,551.12 272.08,551.11 271.20,551.09 270.33,551.07 269.45,551.05 268.57,551.02 267.69,550.99 266.81,550.95 265.94,550.91 265.06,550.86 264.18,550.81 263.30,550.75 262.42,550.68 261.55,550.61 260.67,550.53 259.79,550.44 258.91,550.24 258.03,549.92 257.16,549.52 256.28,549.07 255.40,548.61 254.52,548.18 253.64,547.81 252.77,547.54 251.89,547.41 251.01,547.45 250.13,547.72 249.25,548.28 248.38,549.05 247.50,549.97 246.62,550.98 245.74,551.99 244.86,552.95 243.99,553.79 243.11,554.55 242.23,555.40 241.35,556.16 240.47,556.65 239.60,556.65 238.72,556.00 237.84,554.71 236.96,553.02 236.08,551.18 235.21,549.43 234.33,547.44 233.45,545.28 233.23,544.81 233.01,544.39 232.79,544.04 232.57,543.77 232.35,543.60 232.13,543.48 231.91,543.36 231.69,543.25 231.47,543.13 231.25,543.02 231.04,542.92 230.82,542.82 230.60,542.72 230.38,542.62 230.16,542.53 229.94,542.45 229.72,542.36 229.50,542.28 229.28,542.21 229.06,542.14 228.84,542.07 228.62,542.01 228.40,541.95 228.18,541.89 227.96,541.84 227.74,541.80 227.52,541.76 227.30,541.72 227.08,541.69 226.87,541.67 226.65,541.65 226.43,541.63 226.21,541.62 225.99,541.61 225.77,541.61 225.55,541.62 225.33,541.63 225.11,541.65 224.89,541.67 224.67,541.70 224.45,541.73 224.23,541.77 224.01,541.81 223.79,541.86 223.57,541.92 223.35,541.99 223.13,542.06 222.91,542.13 222.69,542.21 222.47,542.30 222.26,542.40 222.04,542.51 221.82,542.64 221.60,542.77 221.38,542.92 221.16,543.08 220.94,543.25 220.72,543.43 220.50,543.62 220.28,543.83 220.06,544.04 219.84,544.26 219.62,544.50 219.40,544.75 219.18,545.00 218.96,545.27 218.74,545.54 218.52,545.83 218.30,546.12 218.09,546.42 217.87,546.74 217.65,547.06 217.43,547.39 217.21,547.73 216.99,548.08 216.77,548.43 216.55,548.79 216.33,549.17 216.11,549.55 215.89,549.93 215.78,550.13 215.67,550.33 215.56,550.53 215.45,550.73 215.34,550.95 215.23,551.22 215.12,551.53 215.01,551.87 214.90,552.26 214.79,552.68 214.68,553.13 214.57,553.62 214.46,554.14 214.35,554.68 214.24,555.26 214.13,555.86 214.02,556.49 213.91,557.14 213.80,557.81 213.69,558.50 213.59,559.22 213.48,559.97 213.37,560.75 213.26,561.56 213.15,562.39 213.04,563.24 212.93,564.12 212.82,565.00 212.71,565.91 212.60,566.82 212.49,567.74 212.38,568.67 212.27,569.60 212.16,570.53 212.05,571.46 211.94,572.39 211.83,573.31 211.72,574.22 211.61,575.12 211.50,576.00" fill="#999999" fill-opacity="0.4"/>
<line x1="206.90" y1="532.94" x2="326.75" y2="532.94" stroke="#333" stroke-width="1.5" stroke-dasharray="3.3,2.1"/>
<polyline points="211.50,550.73 211.61,549.94 211.72,549.13 211.83,548.31 211.94,547.47 212.05,546.63 212.16,545.78 212.27,544.92 212.38,544.07 212.49,543.22 212.60,542.38 212.71,541.56 212.82,540.74 212.93,539.95 213.04,539.17 213.15,538.43 213.26,537.71 213.37,537.02 213.48,536.36 213.59,535.75 213.69,535.18 213.80,534.65 213.91,534.15 214.02,533.69 214.13,533.27 214.24,532.87 214.35,532.50 214.46,532.16 214.57,531.84 214.68,531.53 214.79,531.25 214.90,530.97 215.01,530.71 215.12,530.46 215.23,530.21 215.34,529.97 215.45,529.72 215.56,529.48 215.67,529.22 215.78,528.97 215.89,528.70 216.11,528.17 216.33,527.67 216.55,527.21 216.77,526.77 216.99,526.35 217.21,525.93 217.43,525.51 217.65,525.08 217.87,524.63 218.09,524.16 218.30,523.64 218.52,523.08 218.74,522.48 218.96,521.87 219.18,521.26 219.40,520.68 219.62,520.15 219.84,519.67 220.06,519.27 220.28,518.98 220.50,518.74 220.72,518.51 220.94,518.30 221.16,518.09 221.38,517.90 221.60,517.72 221.82,517.54 222.04,517.38 222.26,517.23 222.47,517.09 222.69,516.96 222.91,516.84 223.13,516.73 223.35,516.62 223.57,516.53 223.79,516.45 224.01,516.38 224.23,516.31 224.45,516.26 224.67,516.21 224.89,516.17 225.11,516.15 225.33,516.12 225.55,516.12 225.77,516.15 225.99,516.19 226.21,516.27 226.43,516.36 226.65,516.47 226.87,516.59 227.08,516.73 227.30,516.89 227.52,517.05 227.74,517.22 227.96,517.40 228.18,517.58 228.40,517.77 228.62,517.96 228.84,518.14 229.06,518.33 229.28,518.51 229.50,518.71 229.72,518.92 229.94,519.13 230.16,519.35 230.38,519.57 230.60,519.81 230.82,520.04 231.04,520.28 231.25,520.52 231.47,520.76 231.69,521.00 231.91,521.24 232.13,521.48 232.35,521.71 232.57,521.94 232.79,522.17 233.01,522.39 233.23,522.60 233.45,522.81 234.33,523.55 235.21,524.28 236.08,525.00 236.96,525.69 237.84,526.34 238.72,526.94 239.60,527.48 240.47,527.92 241.35,528.28 242.23,528.53 243.11,528.70 243.99,528.81 244.86,528.86 245.74,528.87 246.62,528.86 247.50,528.83 248.38,528.81 249.25,528.72 250.13,528.58 251.01,528.41 251.89,528.23 252.77,528.06 253.64,527.93 254.52,527.84 255.40,527.84 256.28,527.91 257.16,528.03 258.03,528.17 258.91,528.34 259.79,528.54 260.67,528.75 261.55,528.97 262.42,529.19 263.30,529.42 264.18,529.64 265.06,529.85 265.94,530.04 266.81,530.21 267.69,530.36 268.57,530.51 269.45,530.65 270.33,530.79 271.20,530.92 272.08,531.05 272.96,531.16 273.84,531.27 274.72,531.37 275.59,531.46 276.47,531.54 277.35,531.61 278.23,531.67 279.11,531.73 279.98,531.79 280.86,531.84 281.74,531.89 282.62,531.94 283.50,531.98 284.37,532.03 285.25,532.07 286.13,532.10 287.01,532.14 287.89,532.18 288.76,532.21 289.64,532.25 290.52,532.28 291.40,532.31 292.28,532.34 293.15,532.37 294.03,532.40 294.91,532.43 295.79,532.46 296.67,532.49 297.54,532.52 298.42,532.55 299.30,532.58 300.18,532.62 301.06,532.65 301.93,532.68 302.81,532.71 303.69,532.73 304.57,532.76 305.45,532.79 306.32,532.82 307.20,532.84 308.08,532.87 308.96,532.89 309.84,532.92 310.71,532.94 311.59,532.96 312.47,532.99 313.35,533.01 314.23,533.04 315.10,533.06 315.98,533.08 316.86,533.11 317.74,533.13 318.62,533.16 319.49,533.18 320.37,533.21 321.25,533.23" fill="none" stroke="#3d5a48" stroke-width="1.05" stroke-linejoin="round"/>
<circle cx="211.50" cy="550.73" r="1.5" fill="#3d5a48"/>
<circle cx="213.69" cy="534.85" r="1.5" fill="#3d5a48"/>
<circle cx="215.89" cy="529.34" r="1.5" fill="#3d5a48"/>
<circle cx="218.09" cy="524.81" r="1.5" fill="#3d5a48"/>
<circle cx="220.28" cy="518.33" r="1.5" fill="#3d5a48"/>
<circle cx="222.47" cy="520.27" r="1.5" fill="#3d5a48"/>
<circle cx="233.45" cy="523.51" r="1.5" fill="#3d5a48"/>
<circle cx="255.40" cy="527.72" r="1.5" fill="#3d5a48"/>
<circle cx="277.35" cy="532.58" r="1.5" fill="#3d5a48"/>
<circle cx="299.30" cy="533.23" r="1.5" fill="#3d5a48"/>
<circle cx="321.25" cy="533.56" r="1.5" fill="#3d5a48"/>
<polyline points="211.50,559.15 211.61,558.63 211.72,558.11 211.83,557.58 211.94,557.05 212.05,556.51 212.16,555.98 212.27,555.45 212.38,554.91 212.49,554.38 212.60,553.85 212.71,553.32 212.82,552.79 212.93,552.27 213.04,551.75 213.15,551.24 213.26,550.73 213.37,550.23 213.48,549.74 213.59,549.26 213.69,548.78 213.80,548.32 213.91,547.85 214.02,547.39 214.13,546.94 214.24,546.49 214.35,546.04 214.46,545.61 214.57,545.19 214.68,544.77 214.79,544.37 214.90,543.98 215.01,543.60 215.12,543.24 215.23,542.89 215.34,542.56 215.45,542.24 215.56,541.93 215.67,541.64 215.78,541.35 215.89,541.06 216.11,540.51 216.33,539.99 216.55,539.48 216.77,539.00 216.99,538.54 217.21,538.09 217.43,537.67 217.65,537.25 217.87,536.86 218.09,536.47 218.30,536.10 218.52,535.76 218.74,535.43 218.96,535.11 219.18,534.81 219.40,534.53 219.62,534.25 219.84,533.98 220.06,533.71 220.28,533.45 220.50,533.19 220.72,532.93 220.94,532.66 221.16,532.39 221.38,532.11 221.60,531.82 221.82,531.51 222.04,531.20 222.26,530.89 222.47,530.58 222.69,530.26 222.91,529.95 223.13,529.64 223.35,529.34 223.57,529.06 223.79,528.78 224.01,528.52 224.23,528.27 224.45,528.05 224.67,527.85 224.89,527.67 225.11,527.52 225.33,527.40 225.55,527.30 225.77,527.22 225.99,527.14 226.21,527.08 226.43,527.03 226.65,526.99 226.87,526.95 227.08,526.93 227.30,526.91 227.52,526.90 227.74,526.90 227.96,526.91 228.18,526.91 228.40,526.92 228.62,526.94 228.84,526.96 229.06,526.98 229.28,527.00 229.50,527.02 229.72,527.04 229.94,527.06 230.16,527.08 230.38,527.10 230.60,527.11 230.82,527.12 231.04,527.12 231.25,527.12 231.47,527.12 231.69,527.10 231.91,527.08 232.13,527.05 232.35,527.01 232.57,526.96 232.79,526.91 233.01,526.84 233.23,526.77 233.45,526.69 234.33,526.32 235.21,525.90 236.08,525.47 236.96,525.09 237.84,524.79 238.72,524.62 239.60,524.63 240.47,524.76 241.35,524.97 242.23,525.25 243.11,525.60 243.99,525.99 244.86,526.42 245.74,526.89 246.62,527.37 247.50,527.87 248.38,528.38 249.25,528.99 250.13,529.69 251.01,530.45 251.89,531.21 252.77,531.95 253.64,532.63 254.52,533.22 255.40,533.66 256.28,533.98 257.16,534.23 258.03,534.43 258.91,534.58 259.79,534.70 260.67,534.78 261.55,534.85 262.42,534.90 263.30,534.94 264.18,534.97 265.06,535.02 265.94,535.08 266.81,535.15 267.69,535.25 268.57,535.34 269.45,535.43 270.33,535.51 271.20,535.60 272.08,535.68 272.96,535.76 273.84,535.84 274.72,535.91 275.59,535.99 276.47,536.07 277.35,536.15 278.23,536.23 279.11,536.31 279.98,536.38 280.86,536.46 281.74,536.54 282.62,536.62 283.50,536.70 284.37,536.78 285.25,536.85 286.13,536.93 287.01,537.01 287.89,537.09 288.76,537.16 289.64,537.24 290.52,537.32 291.40,537.40 292.28,537.47 293.15,537.55 294.03,537.63 294.91,537.70 295.79,537.78 296.67,537.86 297.54,537.94 298.42,538.01 299.30,538.09 300.18,538.17 301.06,538.25 301.93,538.33 302.81,538.40 303.69,538.48 304.57,538.56 305.45,538.64 306.32,538.71 307.20,538.79 308.08,538.87 308.96,538.95 309.84,539.03 310.71,539.10 311.59,539.18 312.47,539.26 313.35,539.34 314.23,539.41 315.10,539.49 315.98,539.57 316.86,539.65 317.74,539.72 318.62,539.80 319.49,539.88 320.37,539.96 321.25,540.04" fill="none" stroke="#5cc46b" stroke-width="1.05" stroke-linejoin="round"/>
<circle cx="211.50" cy="569.52" r="1.5" fill="#5cc46b"/>
<circle cx="213.69" cy="544.25" r="1.5" fill="#5cc46b"/>
<circle cx="215.89" cy="537.77" r="1.5" fill="#5cc46b"/>
<circle cx="218.09" cy="535.82" r="1.5" fill="#5cc46b"/>
<circle cx="220.28" cy="535.50" r="1.5" fill="#5cc46b"/>
<circle cx="233.45" cy="527.08" r="1.5" fill="#5cc46b"/>
<circle cx="255.40" cy="534.85" r="1.5" fill="#5cc46b"/>
<circle cx="277.35" cy="536.15" r="1.5" fill="#5cc46b"/>
<circle cx="299.30" cy="538.09" r="1.5" fill="#5cc46b"/>
<circle cx="321.25" cy="540.04" r="1.5" fill="#5cc46b"/>
<line x1="206.10" y1="472.80" x2="206.10" y2="601.80" stroke="#231f20" stroke-width="1.2" />
<line x1="205.50" y1="601.20" x2="326.80" y2="601.20" stroke="#231f20" stroke-width="1.2" />
<line x1="202.80" y1="478.80" x2="206.10" y2="478.80" stroke="#231f20" stroke-width="0.9" />
<text x="201.10" y="481.50" font-size="7.6" fill="#2a2a2a" text-anchor="end" stroke="#2a2a2a" stroke-width="0.05" >10</text>
<line x1="202.80" y1="511.20" x2="206.10" y2="511.20" stroke="#231f20" stroke-width="0.9" />
<text x="201.10" y="513.90" font-size="7.6" fill="#2a2a2a" text-anchor="end" stroke="#2a2a2a" stroke-width="0.05" >5</text>
<line x1="202.80" y1="543.60" x2="206.10" y2="543.60" stroke="#231f20" stroke-width="0.9" />
<text x="201.10" y="546.30" font-size="7.6" fill="#2a2a2a" text-anchor="end" stroke="#2a2a2a" stroke-width="0.05" >0</text>
<line x1="202.80" y1="576.00" x2="206.10" y2="576.00" stroke="#231f20" stroke-width="0.9" />
<text x="201.10" y="578.70" font-size="7.6" fill="#2a2a2a" text-anchor="end" stroke="#2a2a2a" stroke-width="0.05" >−5</text>
<line x1="211.50" y1="601.20" x2="211.50" y2="604.40" stroke="#231f20" stroke-width="0.9" />
<text x="211.50" y="613.60" font-size="7.6" fill="#2a2a2a" text-anchor="middle" stroke="#2a2a2a" stroke-width="0.05" >0</text>
<line x1="233.45" y1="601.20" x2="233.45" y2="604.40" stroke="#231f20" stroke-width="0.9" />
<text x="233.45" y="613.60" font-size="7.6" fill="#2a2a2a" text-anchor="middle" stroke="#2a2a2a" stroke-width="0.05" >100</text>
<line x1="255.40" y1="601.20" x2="255.40" y2="604.40" stroke="#231f20" stroke-width="0.9" />
<text x="255.40" y="613.60" font-size="7.6" fill="#2a2a2a" text-anchor="middle" stroke="#2a2a2a" stroke-width="0.05" >200</text>
<line x1="277.35" y1="601.20" x2="277.35" y2="604.40" stroke="#231f20" stroke-width="0.9" />
<text x="277.35" y="613.60" font-size="7.6" fill="#2a2a2a" text-anchor="middle" stroke="#2a2a2a" stroke-width="0.05" >300</text>
<line x1="299.30" y1="601.20" x2="299.30" y2="604.40" stroke="#231f20" stroke-width="0.9" />
<text x="299.30" y="613.60" font-size="7.6" fill="#2a2a2a" text-anchor="middle" stroke="#2a2a2a" stroke-width="0.05" >400</text>
<line x1="321.25" y1="601.20" x2="321.25" y2="604.40" stroke="#231f20" stroke-width="0.9" />
<text x="321.25" y="613.60" font-size="7.6" fill="#2a2a2a" text-anchor="middle" stroke="#2a2a2a" stroke-width="0.05" >500</text>
<text x="266.88" y="627.1" font-size="9.6" fill="#262626" stroke="#262626" stroke-width="0.2" text-anchor="middle" textLength="67.5" lengthAdjust="spacingAndGlyphs">Flanking region (bp)</text>
<text transform="translate(186.30,538.2) rotate(-90)" font-size="9.0" fill="#262626" stroke="#262626" stroke-width="0.2" text-anchor="middle" textLength="112" lengthAdjust="spacingAndGlyphs">Enrichment of mutations (<tspan font-style="italic">Z</tspan> score)</text>
<rect x="289.80" y="473.40" width="12.50" height="5.60" fill="#ebebeb" />
<line x1="289.80" y1="476.20" x2="302.30" y2="476.20" stroke="#3d5a48" stroke-width="1.2" />
<circle cx="296.05" cy="476.20" r="1.5" fill="#3d5a48"/>
<text x="305.10" y="479.00" font-size="7.0" fill="#231f20" text-anchor="start" stroke="#231f20" stroke-width="0.15" >ETV6</text>
<rect x="289.80" y="483.50" width="12.50" height="5.60" fill="#ebebeb" />
<line x1="289.80" y1="486.30" x2="302.30" y2="486.30" stroke="#5cc46b" stroke-width="1.2" />
<circle cx="296.05" cy="486.30" r="1.5" fill="#5cc46b"/>
<text x="305.10" y="489.10" font-size="7.0" fill="#231f20" text-anchor="start" stroke="#231f20" stroke-width="0.15" >GFI1</text>
<polygon points="374.00,533.88 374.11,533.89 374.22,533.89 374.33,533.90 374.44,533.91 374.55,533.91 374.66,533.92 374.77,533.93 374.88,533.94 374.99,533.95 375.10,533.96 375.21,533.96 375.32,533.97 375.43,533.98 375.54,533.99 375.65,534.00 375.76,534.01 375.87,534.03 375.98,534.04 376.09,534.05 376.19,534.06 376.30,534.07 376.41,534.08 376.52,534.09 376.63,534.11 376.74,534.12 376.85,534.13 376.96,534.14 377.07,534.16 377.18,534.17 377.29,534.18 377.40,534.19 377.51,534.21 377.62,534.22 377.73,534.23 377.84,534.24 377.95,534.26 378.06,534.27 378.17,534.28 378.28,534.30 378.39,534.31 378.61,534.34 378.83,534.36 379.05,534.39 379.27,534.41 379.49,534.44 379.71,534.46 379.93,534.48 380.15,534.51 380.37,534.53 380.58,534.55 380.80,534.57 381.02,534.59 381.24,534.61 381.46,534.62 381.68,534.64 381.90,534.65 382.12,534.67 382.34,534.68 382.56,534.69 382.78,534.70 383.00,534.70 383.22,534.71 383.44,534.71 383.66,534.71 383.88,534.71 384.10,534.70 384.32,534.70 384.54,534.69 384.76,534.68 384.98,534.67 385.19,534.65 385.41,534.63 385.63,534.61 385.85,534.59 386.07,534.56 386.29,534.53 386.51,534.49 386.73,534.44 386.95,534.39 387.17,534.32 387.39,534.25 387.61,534.17 387.83,534.08 388.05,533.98 388.27,533.87 388.49,533.76 388.71,533.64 388.93,533.51 389.15,533.38 389.37,533.24 389.58,533.10 389.80,532.95 390.02,532.80 390.24,532.64 390.46,532.48 390.68,532.32 390.90,532.15 391.12,531.98 391.34,531.81 391.56,531.64 391.78,531.46 392.00,531.29 392.22,531.10 392.44,530.89 392.66,530.67 392.88,530.43 393.10,530.18 393.32,529.91 393.54,529.64 393.75,529.36 393.97,529.08 394.19,528.80 394.41,528.52 394.63,528.24 394.85,527.96 395.07,527.70 395.29,527.44 395.51,527.20 395.73,526.97 395.95,526.75 396.83,525.96 397.71,525.24 398.58,524.58 399.46,524.00 400.34,523.51 401.22,523.13 402.10,522.90 402.97,522.82 403.85,522.91 404.73,523.22 405.61,523.70 406.49,524.23 407.36,524.74 408.24,525.29 409.12,525.87 410.00,526.45 410.88,526.99 411.75,527.45 412.63,527.80 413.51,528.07 414.39,528.28 415.27,528.45 416.14,528.56 417.02,528.64 417.90,528.68 418.78,528.70 419.66,528.70 420.53,528.70 421.41,528.69 422.29,528.68 423.17,528.65 424.05,528.63 424.92,528.60 425.80,528.56 426.68,528.52 427.56,528.48 428.44,528.44 429.31,528.40 430.19,528.36 431.07,528.31 431.95,528.27 432.83,528.23 433.70,528.19 434.58,528.15 435.46,528.12 436.34,528.09 437.22,528.07 438.09,528.05 438.97,528.04 439.85,528.02 440.73,528.01 441.61,528.00 442.48,527.99 443.36,527.98 444.24,527.96 445.12,527.95 446.00,527.94 446.87,527.93 447.75,527.92 448.63,527.91 449.51,527.91 450.39,527.90 451.26,527.89 452.14,527.88 453.02,527.87 453.90,527.87 454.78,527.86 455.65,527.85 456.53,527.84 457.41,527.84 458.29,527.83 459.17,527.82 460.04,527.82 460.92,527.81 461.80,527.81 462.68,527.80 463.56,527.80 464.43,527.79 465.31,527.78 466.19,527.78 467.07,527.77 467.95,527.77 468.82,527.76 469.70,527.76 470.58,527.75 471.46,527.75 472.34,527.74 473.21,527.74 474.09,527.73 474.97,527.72 475.85,527.72 476.73,527.71 477.60,527.71 478.48,527.70 479.36,527.69 480.24,527.69 481.12,527.68 481.99,527.67 482.87,527.67 483.75,527.66 483.75,548.65 482.87,548.39 481.99,548.10 481.12,547.79 480.24,547.47 479.36,547.15 478.48,546.84 477.60,546.54 476.73,546.27 475.85,546.03 474.97,545.82 474.09,545.67 473.21,545.57 472.34,545.53 471.46,545.50 470.58,545.47 469.70,545.45 468.82,545.44 467.95,545.43 467.07,545.42 466.19,545.42 465.31,545.42 464.43,545.43 463.56,545.44 462.68,545.45 461.80,545.47 460.92,545.49 460.04,545.52 459.17,545.55 458.29,545.58 457.41,545.61 456.53,545.65 455.65,545.69 454.78,545.73 453.90,545.78 453.02,545.83 452.14,545.88 451.26,545.93 450.39,545.98 449.51,546.04 448.63,546.09 447.75,546.15 446.87,546.21 446.00,546.27 445.12,546.34 444.24,546.40 443.36,546.46 442.48,546.53 441.61,546.59 440.73,546.66 439.85,546.72 438.97,546.79 438.09,546.86 437.22,546.93 436.34,547.01 435.46,547.11 434.58,547.21 433.70,547.32 432.83,547.44 431.95,547.56 431.07,547.69 430.19,547.83 429.31,547.97 428.44,548.12 427.56,548.27 426.68,548.42 425.80,548.57 424.92,548.73 424.05,548.89 423.17,549.04 422.29,549.20 421.41,549.35 420.53,549.51 419.66,549.64 418.78,549.77 417.90,549.90 417.02,550.04 416.14,550.20 415.27,550.40 414.39,550.64 413.51,550.93 412.63,551.28 411.75,551.74 410.88,552.38 410.00,553.15 409.12,553.98 408.24,554.80 407.36,555.57 406.49,556.24 405.61,556.88 404.73,557.44 403.85,557.80 402.97,557.92 402.10,557.84 401.22,557.59 400.34,557.21 399.46,556.69 398.58,556.02 397.71,555.25 396.83,554.39 395.95,553.32 395.73,553.03 395.51,552.74 395.29,552.45 395.07,552.16 394.85,551.88 394.63,551.61 394.41,551.36 394.19,551.13 393.97,550.91 393.75,550.73 393.54,550.56 393.32,550.39 393.10,550.22 392.88,550.06 392.66,549.91 392.44,549.77 392.22,549.65 392.00,549.54 391.78,549.45 391.56,549.38 391.34,549.34 391.12,549.32 390.90,549.33 390.68,549.36 390.46,549.43 390.24,549.54 390.02,549.69 389.80,549.87 389.58,550.09 389.37,550.33 389.15,550.59 388.93,550.88 388.71,551.18 388.49,551.48 388.27,551.80 388.05,552.12 387.83,552.43 387.61,552.74 387.39,553.04 387.17,553.32 386.95,553.59 386.73,553.87 386.51,554.15 386.29,554.43 386.07,554.71 385.85,555.00 385.63,555.28 385.41,555.57 385.19,555.86 384.98,556.14 384.76,556.43 384.54,556.72 384.32,557.01 384.10,557.30 383.88,557.59 383.66,557.87 383.44,558.16 383.22,558.45 383.00,558.73 382.78,559.02 382.56,559.30 382.34,559.58 382.12,559.86 381.90,560.14 381.68,560.41 381.46,560.68 381.24,560.95 381.02,561.22 380.80,561.48 380.58,561.74 380.37,562.00 380.15,562.26 379.93,562.51 379.71,562.76 379.49,563.01 379.27,563.25 379.05,563.50 378.83,563.74 378.61,563.98 378.39,564.22 378.28,564.33 378.17,564.45 378.06,564.57 377.95,564.69 377.84,564.81 377.73,564.92 377.62,565.04 377.51,565.16 377.40,565.27 377.29,565.39 377.18,565.51 377.07,565.62 376.96,565.74 376.85,565.85 376.74,565.97 376.63,566.08 376.52,566.20 376.41,566.31 376.30,566.43 376.19,566.54 376.09,566.66 375.98,566.77 375.87,566.89 375.76,567.00 375.65,567.12 375.54,567.24 375.43,567.35 375.32,567.47 375.21,567.58 375.10,567.70 374.99,567.82 374.88,567.93 374.77,568.05 374.66,568.17 374.55,568.28 374.44,568.40 374.33,568.52 374.22,568.64 374.11,568.75 374.00,568.87" fill="#999999" fill-opacity="0.4"/>
<polygon points="374.00,556.56 374.11,556.45 374.22,556.34 374.33,556.24 374.44,556.13 374.55,556.02 374.66,555.91 374.77,555.80 374.88,555.70 374.99,555.59 375.10,555.48 375.21,555.37 375.32,555.26 375.43,555.16 375.54,555.05 375.65,554.94 375.76,554.83 375.87,554.72 375.98,554.62 376.09,554.51 376.19,554.40 376.30,554.29 376.41,554.18 376.52,554.08 376.63,553.97 376.74,553.86 376.85,553.75 376.96,553.64 377.07,553.54 377.18,553.43 377.29,553.32 377.40,553.21 377.51,553.10 377.62,553.00 377.73,552.89 377.84,552.78 377.95,552.67 378.06,552.56 378.17,552.46 378.28,552.35 378.39,552.24 378.61,552.02 378.83,551.81 379.05,551.59 379.27,551.38 379.49,551.16 379.71,550.94 379.93,550.73 380.15,550.51 380.37,550.30 380.58,550.08 380.80,549.86 381.02,549.65 381.24,549.44 381.46,549.23 381.68,549.01 381.90,548.80 382.12,548.60 382.34,548.39 382.56,548.18 382.78,547.97 383.00,547.76 383.22,547.55 383.44,547.34 383.66,547.13 383.88,546.92 384.10,546.71 384.32,546.50 384.54,546.29 384.76,546.07 384.98,545.86 385.19,545.64 385.41,545.42 385.63,545.20 385.85,544.98 386.07,544.75 386.29,544.53 386.51,544.30 386.73,544.07 386.95,543.84 387.17,543.60 387.39,543.36 387.61,543.13 387.83,542.89 388.05,542.65 388.27,542.41 388.49,542.17 388.71,541.93 388.93,541.69 389.15,541.45 389.37,541.21 389.58,540.96 389.80,540.72 390.02,540.47 390.24,540.22 390.46,539.97 390.68,539.72 390.90,539.46 391.12,539.20 391.34,538.94 391.56,538.67 391.78,538.41 392.00,538.13 392.22,537.86 392.44,537.58 392.66,537.30 392.88,537.01 393.10,536.72 393.32,536.43 393.54,536.13 393.75,535.82 393.97,535.51 394.19,535.17 394.41,534.82 394.63,534.46 394.85,534.08 395.07,533.70 395.29,533.30 395.51,532.90 395.73,532.49 395.95,532.08 396.83,530.44 397.71,528.89 398.58,527.55 399.46,526.53 400.34,525.86 401.22,525.47 402.10,525.31 402.97,525.34 403.85,525.52 404.73,525.98 405.61,526.68 406.49,527.48 407.36,528.24 408.24,528.83 409.12,529.35 410.00,529.85 410.88,530.32 411.75,530.72 412.63,531.06 413.51,531.29 414.39,531.42 415.27,531.49 416.14,531.51 417.02,531.49 417.90,531.44 418.78,531.38 419.66,531.33 420.53,531.29 421.41,531.29 422.29,531.29 423.17,531.29 424.05,531.29 424.92,531.29 425.80,531.29 426.68,531.29 427.56,531.29 428.44,531.29 429.31,531.29 430.19,531.29 431.07,531.29 431.95,531.29 432.83,531.29 433.70,531.29 434.58,531.29 435.46,531.29 436.34,531.29 437.22,531.29 438.09,531.29 438.97,531.29 439.85,531.29 440.73,531.29 441.61,531.29 442.48,531.29 443.36,531.29 444.24,531.29 445.12,531.29 446.00,531.29 446.87,531.29 447.75,531.29 448.63,531.29 449.51,531.29 450.39,531.29 451.26,531.29 452.14,531.29 453.02,531.29 453.90,531.29 454.78,531.29 455.65,531.29 456.53,531.29 457.41,531.29 458.29,531.29 459.17,531.29 460.04,531.29 460.92,531.29 461.80,531.29 462.68,531.29 463.56,531.29 464.43,531.29 465.31,531.29 466.19,531.29 467.07,531.29 467.95,531.29 468.82,531.29 469.70,531.29 470.58,531.29 471.46,531.29 472.34,531.29 473.21,531.29 474.09,531.29 474.97,531.29 475.85,531.29 476.73,531.29 477.60,531.29 478.48,531.29 479.36,531.29 480.24,531.29 481.12,531.29 481.99,531.29 482.87,531.29 483.75,531.29 483.75,543.28 482.87,543.28 481.99,543.27 481.12,543.27 480.24,543.26 479.36,543.26 478.48,543.25 477.60,543.24 476.73,543.23 475.85,543.22 474.97,543.21 474.09,543.20 473.21,543.19 472.34,543.17 471.46,543.16 470.58,543.15 469.70,543.13 468.82,543.11 467.95,543.10 467.07,543.08 466.19,543.06 465.31,543.05 464.43,543.03 463.56,543.01 462.68,542.99 461.80,542.98 460.92,542.96 460.04,542.94 459.17,542.92 458.29,542.91 457.41,542.89 456.53,542.88 455.65,542.86 454.78,542.84 453.90,542.83 453.02,542.82 452.14,542.80 451.26,542.79 450.39,542.78 449.51,542.77 448.63,542.76 447.75,542.75 446.87,542.74 446.00,542.73 445.12,542.73 444.24,542.72 443.36,542.72 442.48,542.72 441.61,542.72 440.73,542.72 439.85,542.72 438.97,542.73 438.09,542.73 437.22,542.74 436.34,542.75 435.46,542.76 434.58,542.78 433.70,542.79 432.83,542.81 431.95,542.83 431.07,542.85 430.19,542.87 429.31,542.90 428.44,542.93 427.56,542.96 426.68,542.99 425.80,543.03 424.92,543.07 424.05,543.11 423.17,543.15 422.29,543.20 421.41,543.25 420.53,543.32 419.66,543.53 418.78,543.87 417.90,544.32 417.02,544.86 416.14,545.47 415.27,546.12 414.39,546.80 413.51,547.49 412.63,548.26 411.75,549.19 410.88,550.20 410.00,551.23 409.12,552.23 408.24,553.12 407.36,553.90 406.49,554.64 405.61,555.30 404.73,555.83 403.85,556.18 402.97,556.33 402.10,556.32 401.22,556.16 400.34,555.85 399.46,555.40 398.58,554.75 397.71,553.81 396.83,552.73 395.95,551.66 395.73,551.42 395.51,551.18 395.29,550.96 395.07,550.76 394.85,550.59 394.63,550.43 394.41,550.30 394.19,550.19 393.97,550.12 393.75,550.08 393.54,550.07 393.32,550.07 393.10,550.08 392.88,550.12 392.66,550.17 392.44,550.23 392.22,550.30 392.00,550.39 391.78,550.49 391.56,550.60 391.34,550.72 391.12,550.85 390.90,550.99 390.68,551.13 390.46,551.29 390.24,551.45 390.02,551.61 389.80,551.79 389.58,551.96 389.37,552.14 389.15,552.32 388.93,552.51 388.71,552.69 388.49,552.88 388.27,553.06 388.05,553.25 387.83,553.43 387.61,553.61 387.39,553.79 387.17,553.97 386.95,554.14 386.73,554.32 386.51,554.50 386.29,554.68 386.07,554.87 385.85,555.06 385.63,555.25 385.41,555.44 385.19,555.64 384.98,555.84 384.76,556.04 384.54,556.25 384.32,556.46 384.10,556.67 383.88,556.88 383.66,557.10 383.44,557.32 383.22,557.54 383.00,557.77 382.78,558.00 382.56,558.23 382.34,558.47 382.12,558.70 381.90,558.94 381.68,559.19 381.46,559.43 381.24,559.68 381.02,559.94 380.80,560.19 380.58,560.45 380.37,560.71 380.15,560.98 379.93,561.25 379.71,561.53 379.49,561.81 379.27,562.10 379.05,562.39 378.83,562.68 378.61,562.98 378.39,563.28 378.28,563.43 378.17,563.58 378.06,563.74 377.95,563.89 377.84,564.04 377.73,564.20 377.62,564.35 377.51,564.51 377.40,564.67 377.29,564.82 377.18,564.98 377.07,565.14 376.96,565.29 376.85,565.45 376.74,565.61 376.63,565.77 376.52,565.92 376.41,566.08 376.30,566.24 376.19,566.40 376.09,566.56 375.98,566.72 375.87,566.88 375.76,567.03 375.65,567.19 375.54,567.35 375.43,567.51 375.32,567.66 375.21,567.82 375.10,567.98 374.99,568.13 374.88,568.29 374.77,568.45 374.66,568.60 374.55,568.76 374.44,568.91 374.33,569.06 374.22,569.22 374.11,569.37 374.00,569.52" fill="#999999" fill-opacity="0.4"/>
<polygon points="374.00,530.64 374.11,530.67 374.22,530.71 374.33,530.74 374.44,530.77 374.55,530.81 374.66,530.84 374.77,530.88 374.88,530.91 374.99,530.95 375.10,530.98 375.21,531.02 375.32,531.05 375.43,531.09 375.54,531.13 375.65,531.16 375.76,531.20 375.87,531.24 375.98,531.27 376.09,531.31 376.19,531.35 376.30,531.39 376.41,531.43 376.52,531.46 376.63,531.50 376.74,531.54 376.85,531.58 376.96,531.62 377.07,531.66 377.18,531.70 377.29,531.73 377.40,531.77 377.51,531.81 377.62,531.85 377.73,531.89 377.84,531.93 377.95,531.97 378.06,532.01 378.17,532.05 378.28,532.08 378.39,532.12 378.61,532.20 378.83,532.28 379.05,532.35 379.27,532.43 379.49,532.50 379.71,532.58 379.93,532.65 380.15,532.72 380.37,532.79 380.58,532.86 380.80,532.93 381.02,533.00 381.24,533.07 381.46,533.13 381.68,533.19 381.90,533.25 382.12,533.31 382.34,533.37 382.56,533.43 382.78,533.48 383.00,533.53 383.22,533.58 383.44,533.63 383.66,533.67 383.88,533.71 384.10,533.75 384.32,533.79 384.54,533.82 384.76,533.85 384.98,533.88 385.19,533.90 385.41,533.93 385.63,533.94 385.85,533.96 386.07,533.97 386.29,533.98 386.51,533.98 386.73,533.99 386.95,533.99 387.17,533.99 387.39,533.98 387.61,533.98 387.83,533.97 388.05,533.96 388.27,533.94 388.49,533.93 388.71,533.91 388.93,533.90 389.15,533.88 389.37,533.86 389.58,533.84 389.80,533.82 390.02,533.79 390.24,533.77 390.46,533.75 390.68,533.72 390.90,533.69 391.12,533.67 391.34,533.64 391.56,533.62 391.78,533.59 392.00,533.56 392.22,533.54 392.44,533.51 392.66,533.49 392.88,533.46 393.10,533.44 393.32,533.41 393.54,533.39 393.75,533.37 393.97,533.35 394.19,533.33 394.41,533.31 394.63,533.29 394.85,533.28 395.07,533.27 395.29,533.25 395.51,533.24 395.73,533.24 395.95,533.23 396.83,533.22 397.71,533.20 398.58,533.19 399.46,533.18 400.34,533.18 401.22,533.17 402.10,533.17 402.97,533.17 403.85,533.17 404.73,533.17 405.61,533.17 406.49,533.18 407.36,533.18 408.24,533.19 409.12,533.19 410.00,533.20 410.88,533.20 411.75,533.21 412.63,533.21 413.51,533.22 414.39,533.22 415.27,533.23 416.14,533.23 417.02,533.23 417.90,533.23 418.78,533.23 419.66,533.23 420.53,533.23 421.41,533.23 422.29,533.23 423.17,533.23 424.05,533.23 424.92,533.23 425.80,533.23 426.68,533.23 427.56,533.23 428.44,533.23 429.31,533.23 430.19,533.23 431.07,533.23 431.95,533.23 432.83,533.23 433.70,533.23 434.58,533.23 435.46,533.23 436.34,533.23 437.22,533.23 438.09,533.23 438.97,533.23 439.85,533.23 440.73,533.23 441.61,533.23 442.48,533.23 443.36,533.23 444.24,533.23 445.12,533.23 446.00,533.23 446.87,533.23 447.75,533.23 448.63,533.23 449.51,533.23 450.39,533.23 451.26,533.23 452.14,533.23 453.02,533.23 453.90,533.23 454.78,533.23 455.65,533.23 456.53,533.23 457.41,533.23 458.29,533.23 459.17,533.23 460.04,533.23 460.92,533.23 461.80,533.23 462.68,533.23 463.56,533.23 464.43,533.23 465.31,533.23 466.19,533.23 467.07,533.23 467.95,533.23 468.82,533.23 469.70,533.23 470.58,533.23 471.46,533.23 472.34,533.23 473.21,533.23 474.09,533.23 474.97,533.23 475.85,533.23 476.73,533.23 477.60,533.23 478.48,533.23 479.36,533.23 480.24,533.23 481.12,533.23 481.99,533.23 482.87,533.23 483.75,533.23 483.75,544.90 482.87,544.90 481.99,544.90 481.12,544.90 480.24,544.90 479.36,544.91 478.48,544.91 477.60,544.92 476.73,544.92 475.85,544.93 474.97,544.93 474.09,544.94 473.21,544.95 472.34,544.96 471.46,544.96 470.58,544.97 469.70,544.98 468.82,544.99 467.95,545.00 467.07,545.01 466.19,545.02 465.31,545.03 464.43,545.04 463.56,545.05 462.68,545.07 461.80,545.08 460.92,545.09 460.04,545.10 459.17,545.11 458.29,545.12 457.41,545.13 456.53,545.14 455.65,545.15 454.78,545.16 453.90,545.17 453.02,545.18 452.14,545.19 451.26,545.20 450.39,545.20 449.51,545.21 448.63,545.22 447.75,545.23 446.87,545.23 446.00,545.24 445.12,545.24 444.24,545.25 443.36,545.25 442.48,545.25 441.61,545.25 440.73,545.26 439.85,545.26 438.97,545.26 438.09,545.25 437.22,545.25 436.34,545.25 435.46,545.24 434.58,545.24 433.70,545.23 432.83,545.23 431.95,545.22 431.07,545.21 430.19,545.20 429.31,545.18 428.44,545.17 427.56,545.16 426.68,545.14 425.80,545.12 424.92,545.10 424.05,545.08 423.17,545.06 422.29,545.04 421.41,545.01 420.53,544.99 419.66,544.96 418.78,544.93 417.90,544.90 417.02,544.85 416.14,544.78 415.27,544.69 414.39,544.58 413.51,544.46 412.63,544.31 411.75,544.16 410.88,543.99 410.00,543.82 409.12,543.64 408.24,543.45 407.36,543.27 406.49,543.08 405.61,542.90 404.73,542.72 403.85,542.55 402.97,542.38 402.10,542.23 401.22,542.09 400.34,541.97 399.46,541.86 398.58,541.77 397.71,541.71 396.83,541.67 395.95,541.66 395.73,541.66 395.51,541.67 395.29,541.69 395.07,541.71 394.85,541.74 394.63,541.77 394.41,541.81 394.19,541.86 393.97,541.91 393.75,541.96 393.54,542.02 393.32,542.08 393.10,542.15 392.88,542.22 392.66,542.29 392.44,542.37 392.22,542.45 392.00,542.53 391.78,542.62 391.56,542.70 391.34,542.79 391.12,542.88 390.90,542.97 390.68,543.06 390.46,543.15 390.24,543.25 390.02,543.34 389.80,543.43 389.58,543.52 389.37,543.62 389.15,543.71 388.93,543.80 388.71,543.88 388.49,543.97 388.27,544.05 388.05,544.14 387.83,544.21 387.61,544.29 387.39,544.36 387.17,544.43 386.95,544.50 386.73,544.56 386.51,544.62 386.29,544.68 386.07,544.73 385.85,544.77 385.63,544.81 385.41,544.85 385.19,544.87 384.98,544.90 384.76,544.91 384.54,544.93 384.32,544.94 384.10,544.95 383.88,544.95 383.66,544.95 383.44,544.95 383.22,544.94 383.00,544.94 382.78,544.93 382.56,544.91 382.34,544.90 382.12,544.88 381.90,544.86 381.68,544.84 381.46,544.82 381.24,544.79 381.02,544.76 380.80,544.73 380.58,544.70 380.37,544.67 380.15,544.64 379.93,544.60 379.71,544.57 379.49,544.53 379.27,544.49 379.05,544.46 378.83,544.42 378.61,544.38 378.39,544.34 378.28,544.32 378.17,544.30 378.06,544.28 377.95,544.25 377.84,544.23 377.73,544.21 377.62,544.19 377.51,544.17 377.40,544.15 377.29,544.13 377.18,544.11 377.07,544.09 376.96,544.07 376.85,544.05 376.74,544.03 376.63,544.01 376.52,543.99 376.41,543.97 376.30,543.95 376.19,543.93 376.09,543.91 375.98,543.89 375.87,543.87 375.76,543.86 375.65,543.84 375.54,543.82 375.43,543.80 375.32,543.78 375.21,543.77 375.10,543.75 374.99,543.73 374.88,543.72 374.77,543.70 374.66,543.69 374.55,543.67 374.44,543.66 374.33,543.64 374.22,543.63 374.11,543.61 374.00,543.60" fill="#999999" fill-opacity="0.4"/>
<line x1="369.40" y1="532.94" x2="489.25" y2="532.94" stroke="#333" stroke-width="1.5" stroke-dasharray="3.3,2.1"/>
<polyline points="374.00,546.84 374.11,546.81 374.22,546.78 374.33,546.74 374.44,546.71 374.55,546.68 374.66,546.65 374.77,546.61 374.88,546.58 374.99,546.55 375.10,546.52 375.21,546.48 375.32,546.45 375.43,546.42 375.54,546.39 375.65,546.35 375.76,546.32 375.87,546.29 375.98,546.26 376.09,546.22 376.19,546.19 376.30,546.16 376.41,546.13 376.52,546.09 376.63,546.06 376.74,546.03 376.85,546.00 376.96,545.97 377.07,545.93 377.18,545.90 377.29,545.87 377.40,545.84 377.51,545.80 377.62,545.77 377.73,545.74 377.84,545.71 377.95,545.67 378.06,545.64 378.17,545.61 378.28,545.58 378.39,545.54 378.61,545.48 378.83,545.41 379.05,545.35 379.27,545.28 379.49,545.21 379.71,545.14 379.93,545.08 380.15,545.01 380.37,544.94 380.58,544.87 380.80,544.80 381.02,544.73 381.24,544.66 381.46,544.59 381.68,544.53 381.90,544.46 382.12,544.39 382.34,544.33 382.56,544.26 382.78,544.19 383.00,544.13 383.22,544.07 383.44,544.00 383.66,543.94 383.88,543.88 384.10,543.82 384.32,543.76 384.54,543.71 384.76,543.65 384.98,543.60 385.19,543.55 385.41,543.49 385.63,543.44 385.85,543.39 386.07,543.33 386.29,543.28 386.51,543.23 386.73,543.18 386.95,543.12 387.17,543.07 387.39,543.02 387.61,542.96 387.83,542.91 388.05,542.86 388.27,542.80 388.49,542.75 388.71,542.70 388.93,542.65 389.15,542.60 389.37,542.55 389.58,542.50 389.80,542.45 390.02,542.40 390.24,542.35 390.46,542.30 390.68,542.25 390.90,542.20 391.12,542.16 391.34,542.11 391.56,542.06 391.78,542.02 392.00,541.97 392.22,541.93 392.44,541.89 392.66,541.85 392.88,541.81 393.10,541.77 393.32,541.73 393.54,541.69 393.75,541.65 393.97,541.61 394.19,541.58 394.41,541.54 394.63,541.51 394.85,541.48 395.07,541.45 395.29,541.42 395.51,541.39 395.73,541.36 395.95,541.33 396.83,541.23 397.71,541.13 398.58,541.04 399.46,540.95 400.34,540.86 401.22,540.77 402.10,540.69 402.97,540.61 403.85,540.54 404.73,540.47 405.61,540.40 406.49,540.33 407.36,540.27 408.24,540.21 409.12,540.15 410.00,540.10 410.88,540.04 411.75,539.99 412.63,539.95 413.51,539.90 414.39,539.86 415.27,539.82 416.14,539.78 417.02,539.75 417.90,539.71 418.78,539.68 419.66,539.66 420.53,539.64 421.41,539.62 422.29,539.61 423.17,539.60 424.05,539.59 424.92,539.59 425.80,539.59 426.68,539.60 427.56,539.60 428.44,539.61 429.31,539.61 430.19,539.62 431.07,539.63 431.95,539.64 432.83,539.66 433.70,539.67 434.58,539.68 435.46,539.69 436.34,539.69 437.22,539.70 438.09,539.71 438.97,539.71 439.85,539.71 440.73,539.71 441.61,539.71 442.48,539.71 443.36,539.71 444.24,539.71 445.12,539.71 446.00,539.71 446.87,539.71 447.75,539.71 448.63,539.71 449.51,539.71 450.39,539.71 451.26,539.71 452.14,539.71 453.02,539.71 453.90,539.71 454.78,539.71 455.65,539.71 456.53,539.71 457.41,539.71 458.29,539.71 459.17,539.71 460.04,539.71 460.92,539.71 461.80,539.71 462.68,539.71 463.56,539.71 464.43,539.71 465.31,539.71 466.19,539.71 467.07,539.71 467.95,539.71 468.82,539.71 469.70,539.71 470.58,539.71 471.46,539.71 472.34,539.71 473.21,539.71 474.09,539.71 474.97,539.71 475.85,539.71 476.73,539.71 477.60,539.71 478.48,539.71 479.36,539.71 480.24,539.71 481.12,539.71 481.99,539.71 482.87,539.71 483.75,539.71" fill="none" stroke="#8aafd2" stroke-width="1.05" stroke-linejoin="round"/>
<circle cx="374.00" cy="546.84" r="1.5" fill="#8aafd2"/>
<circle cx="376.19" cy="545.54" r="1.5" fill="#8aafd2"/>
<circle cx="378.39" cy="544.25" r="1.5" fill="#8aafd2"/>
<circle cx="384.98" cy="542.95" r="1.5" fill="#8aafd2"/>
<circle cx="417.90" cy="539.71" r="1.5" fill="#8aafd2"/>
<circle cx="439.85" cy="539.71" r="1.5" fill="#8aafd2"/>
<circle cx="483.75" cy="539.71" r="1.5" fill="#8aafd2"/>
<polyline points="374.00,540.62 374.11,540.60 374.22,540.57 374.33,540.55 374.44,540.53 374.55,540.51 374.66,540.49 374.77,540.47 374.88,540.45 374.99,540.42 375.10,540.40 375.21,540.38 375.32,540.36 375.43,540.34 375.54,540.32 375.65,540.30 375.76,540.28 375.87,540.26 375.98,540.24 376.09,540.22 376.19,540.19 376.30,540.17 376.41,540.15 376.52,540.13 376.63,540.11 376.74,540.09 376.85,540.06 376.96,540.04 377.07,540.02 377.18,540.00 377.29,539.97 377.40,539.95 377.51,539.92 377.62,539.90 377.73,539.87 377.84,539.85 377.95,539.82 378.06,539.80 378.17,539.77 378.28,539.74 378.39,539.71 378.61,539.65 378.83,539.58 379.05,539.51 379.27,539.43 379.49,539.35 379.71,539.27 379.93,539.18 380.15,539.09 380.37,538.99 380.58,538.90 380.80,538.81 381.02,538.71 381.24,538.62 381.46,538.53 381.68,538.44 381.90,538.35 382.12,538.26 382.34,538.18 382.56,538.11 382.78,538.04 383.00,537.97 383.22,537.92 383.44,537.86 383.66,537.82 383.88,537.79 384.10,537.76 384.32,537.75 384.54,537.74 384.76,537.75 384.98,537.77 385.19,537.79 385.41,537.83 385.63,537.86 385.85,537.90 386.07,537.95 386.29,538.00 386.51,538.05 386.73,538.11 386.95,538.17 387.17,538.23 387.39,538.30 387.61,538.37 387.83,538.45 388.05,538.52 388.27,538.60 388.49,538.68 388.71,538.77 388.93,538.85 389.15,538.94 389.37,539.03 389.58,539.12 389.80,539.22 390.02,539.31 390.24,539.40 390.46,539.50 390.68,539.60 390.90,539.69 391.12,539.79 391.34,539.89 391.56,539.98 391.78,540.08 392.00,540.18 392.22,540.27 392.44,540.37 392.66,540.46 392.88,540.56 393.10,540.65 393.32,540.74 393.54,540.83 393.75,540.92 393.97,541.00 394.19,541.09 394.41,541.17 394.63,541.25 394.85,541.32 395.07,541.40 395.29,541.47 395.51,541.53 395.73,541.60 395.95,541.66 396.83,541.88 397.71,542.09 398.58,542.29 399.46,542.48 400.34,542.65 401.22,542.81 402.10,542.96 402.97,543.10 403.85,543.23 404.73,543.35 405.61,543.45 406.49,543.55 407.36,543.64 408.24,543.73 409.12,543.80 410.00,543.86 410.88,543.91 411.75,543.95 412.63,543.98 413.51,544.00 414.39,544.01 415.27,544.00 416.14,543.99 417.02,543.96 417.90,543.92 418.78,543.88 419.66,543.82 420.53,543.76 421.41,543.69 422.29,543.62 423.17,543.55 424.05,543.47 424.92,543.39 425.80,543.30 426.68,543.21 427.56,543.12 428.44,543.03 429.31,542.94 430.19,542.84 431.07,542.75 431.95,542.65 432.83,542.56 433.70,542.47 434.58,542.38 435.46,542.30 436.34,542.21 437.22,542.13 438.09,542.05 438.97,541.98 439.85,541.92 440.73,541.85 441.61,541.79 442.48,541.73 443.36,541.67 444.24,541.61 445.12,541.56 446.00,541.50 446.87,541.45 447.75,541.40 448.63,541.34 449.51,541.30 450.39,541.25 451.26,541.20 452.14,541.15 453.02,541.11 453.90,541.06 454.78,541.02 455.65,540.97 456.53,540.93 457.41,540.89 458.29,540.85 459.17,540.81 460.04,540.76 460.92,540.72 461.80,540.68 462.68,540.64 463.56,540.61 464.43,540.57 465.31,540.53 466.19,540.50 467.07,540.47 467.95,540.43 468.82,540.40 469.70,540.37 470.58,540.34 471.46,540.31 472.34,540.28 473.21,540.25 474.09,540.22 474.97,540.20 475.85,540.17 476.73,540.14 477.60,540.11 478.48,540.08 479.36,540.05 480.24,540.03 481.12,540.00 481.99,539.97 482.87,539.94 483.75,539.91" fill="none" stroke="#9fd0ef" stroke-width="1.05" stroke-linejoin="round"/>
<circle cx="374.00" cy="541.66" r="1.5" fill="#9fd0ef"/>
<circle cx="376.19" cy="539.71" r="1.5" fill="#9fd0ef"/>
<circle cx="378.39" cy="539.06" r="1.5" fill="#9fd0ef"/>
<circle cx="382.78" cy="539.06" r="1.5" fill="#9fd0ef"/>
<circle cx="417.90" cy="543.92" r="1.5" fill="#9fd0ef"/>
<circle cx="439.85" cy="541.92" r="1.5" fill="#9fd0ef"/>
<circle cx="483.75" cy="539.91" r="1.5" fill="#9fd0ef"/>
<polyline points="374.00,536.47 374.11,536.42 374.22,536.37 374.33,536.31 374.44,536.25 374.55,536.18 374.66,536.11 374.77,536.04 374.88,535.97 374.99,535.90 375.10,535.82 375.21,535.75 375.32,535.67 375.43,535.59 375.54,535.51 375.65,535.44 375.76,535.36 375.87,535.28 375.98,535.21 376.09,535.13 376.19,535.06 376.30,534.99 376.41,534.93 376.52,534.86 376.63,534.80 376.74,534.74 376.85,534.69 376.96,534.64 377.07,534.60 377.18,534.56 377.29,534.52 377.40,534.49 377.51,534.47 377.62,534.45 377.73,534.44 377.84,534.44 377.95,534.44 378.06,534.45 378.17,534.47 378.28,534.49 378.39,534.53 378.61,534.62 378.83,534.73 379.05,534.87 379.27,535.02 379.49,535.19 379.71,535.38 379.93,535.59 380.15,535.80 380.37,536.03 380.58,536.27 380.80,536.51 381.02,536.77 381.24,537.02 381.46,537.28 381.68,537.54 381.90,537.80 382.12,538.05 382.34,538.30 382.56,538.55 382.78,538.79 383.00,539.02 383.22,539.23 383.44,539.44 383.66,539.63 383.88,539.80 384.10,539.95 384.32,540.09 384.54,540.20 384.76,540.29 384.98,540.36 385.19,540.41 385.41,540.45 385.63,540.48 385.85,540.51 386.07,540.53 386.29,540.54 386.51,540.55 386.73,540.55 386.95,540.54 387.17,540.53 387.39,540.52 387.61,540.50 387.83,540.47 388.05,540.44 388.27,540.41 388.49,540.37 388.71,540.33 388.93,540.28 389.15,540.23 389.37,540.18 389.58,540.13 389.80,540.07 390.02,540.02 390.24,539.96 390.46,539.90 390.68,539.84 390.90,539.77 391.12,539.71 391.34,539.65 391.56,539.58 391.78,539.52 392.00,539.46 392.22,539.40 392.44,539.34 392.66,539.28 392.88,539.22 393.10,539.16 393.32,539.11 393.54,539.06 393.75,539.01 393.97,538.97 394.19,538.92 394.41,538.89 394.63,538.85 394.85,538.82 395.07,538.80 395.29,538.77 395.51,538.76 395.73,538.75 395.95,538.74 396.83,538.73 397.71,538.73 398.58,538.74 399.46,538.75 400.34,538.78 401.22,538.80 402.10,538.84 402.97,538.88 403.85,538.92 404.73,538.97 405.61,539.02 406.49,539.07 407.36,539.13 408.24,539.19 409.12,539.26 410.00,539.32 410.88,539.39 411.75,539.45 412.63,539.52 413.51,539.59 414.39,539.66 415.27,539.72 416.14,539.78 417.02,539.85 417.90,539.91 418.78,539.97 419.66,540.03 420.53,540.10 421.41,540.17 422.29,540.24 423.17,540.31 424.05,540.39 424.92,540.46 425.80,540.54 426.68,540.62 427.56,540.70 428.44,540.77 429.31,540.85 430.19,540.93 431.07,541.01 431.95,541.08 432.83,541.16 433.70,541.23 434.58,541.30 435.46,541.37 436.34,541.43 437.22,541.49 438.09,541.55 438.97,541.61 439.85,541.66 440.73,541.70 441.61,541.75 442.48,541.79 443.36,541.83 444.24,541.86 445.12,541.90 446.00,541.93 446.87,541.96 447.75,541.99 448.63,542.01 449.51,542.04 450.39,542.06 451.26,542.08 452.14,542.11 453.02,542.13 453.90,542.15 454.78,542.16 455.65,542.18 456.53,542.20 457.41,542.22 458.29,542.23 459.17,542.25 460.04,542.27 460.92,542.29 461.80,542.30 462.68,542.32 463.56,542.34 464.43,542.35 465.31,542.37 466.19,542.38 467.07,542.39 467.95,542.40 468.82,542.42 469.70,542.43 470.58,542.44 471.46,542.44 472.34,542.45 473.21,542.46 474.09,542.47 474.97,542.48 475.85,542.49 476.73,542.49 477.60,542.50 478.48,542.51 479.36,542.52 480.24,542.53 481.12,542.53 481.99,542.54 482.87,542.55 483.75,542.56" fill="none" stroke="#3ba3dd" stroke-width="1.05" stroke-linejoin="round"/>
<circle cx="374.00" cy="536.47" r="1.5" fill="#3ba3dd"/>
<circle cx="378.39" cy="531.35" r="1.5" fill="#3ba3dd"/>
<circle cx="380.58" cy="540.36" r="1.5" fill="#3ba3dd"/>
<circle cx="384.98" cy="539.06" r="1.5" fill="#3ba3dd"/>
<circle cx="395.95" cy="536.47" r="1.5" fill="#3ba3dd"/>
<circle cx="417.90" cy="539.91" r="1.5" fill="#3ba3dd"/>
<circle cx="439.85" cy="541.92" r="1.5" fill="#3ba3dd"/>
<circle cx="483.75" cy="542.56" r="1.5" fill="#3ba3dd"/>
<polyline points="374.00,559.15 374.11,558.92 374.22,558.68 374.33,558.44 374.44,558.19 374.55,557.94 374.66,557.68 374.77,557.43 374.88,557.17 374.99,556.92 375.10,556.67 375.21,556.42 375.32,556.18 375.43,555.95 375.54,555.72 375.65,555.51 375.76,555.30 375.87,555.11 375.98,554.93 376.09,554.76 376.19,554.62 376.30,554.48 376.41,554.34 376.52,554.21 376.63,554.08 376.74,553.96 376.85,553.84 376.96,553.72 377.07,553.61 377.18,553.49 377.29,553.39 377.40,553.28 377.51,553.18 377.62,553.07 377.73,552.97 377.84,552.88 377.95,552.78 378.06,552.69 378.17,552.60 378.28,552.50 378.39,552.42 378.61,552.24 378.83,552.07 379.05,551.90 379.27,551.74 379.49,551.57 379.71,551.41 379.93,551.24 380.15,551.08 380.37,550.90 380.58,550.73 380.80,550.55 381.02,550.37 381.24,550.19 381.46,550.01 381.68,549.83 381.90,549.66 382.12,549.48 382.34,549.31 382.56,549.13 382.78,548.96 383.00,548.80 383.22,548.63 383.44,548.47 383.66,548.32 383.88,548.17 384.10,548.02 384.32,547.88 384.54,547.74 384.76,547.61 384.98,547.49 385.19,547.37 385.41,547.25 385.63,547.13 385.85,547.00 386.07,546.88 386.29,546.76 386.51,546.64 386.73,546.52 386.95,546.40 387.17,546.28 387.39,546.15 387.61,546.03 387.83,545.91 388.05,545.79 388.27,545.67 388.49,545.56 388.71,545.44 388.93,545.32 389.15,545.20 389.37,545.09 389.58,544.97 389.80,544.86 390.02,544.74 390.24,544.63 390.46,544.52 390.68,544.41 390.90,544.30 391.12,544.20 391.34,544.09 391.56,543.99 391.78,543.88 392.00,543.78 392.22,543.68 392.44,543.59 392.66,543.49 392.88,543.39 393.10,543.30 393.32,543.21 393.54,543.12 393.75,543.04 393.97,542.95 394.19,542.87 394.41,542.79 394.63,542.71 394.85,542.64 395.07,542.57 395.29,542.50 395.51,542.43 395.73,542.37 395.95,542.30 396.83,542.07 397.71,541.84 398.58,541.62 399.46,541.41 400.34,541.20 401.22,541.01 402.10,540.82 402.97,540.64 403.85,540.46 404.73,540.30 405.61,540.14 406.49,539.98 407.36,539.83 408.24,539.69 409.12,539.55 410.00,539.42 410.88,539.29 411.75,539.17 412.63,539.05 413.51,538.94 414.39,538.83 415.27,538.72 416.14,538.62 417.02,538.51 417.90,538.42 418.78,538.32 419.66,538.24 420.53,538.16 421.41,538.09 422.29,538.02 423.17,537.96 424.05,537.90 424.92,537.86 425.80,537.81 426.68,537.77 427.56,537.73 428.44,537.70 429.31,537.67 430.19,537.65 431.07,537.62 431.95,537.60 432.83,537.58 433.70,537.56 434.58,537.55 435.46,537.53 436.34,537.51 437.22,537.50 438.09,537.48 438.97,537.46 439.85,537.44 440.73,537.43 441.61,537.41 442.48,537.40 443.36,537.39 444.24,537.38 445.12,537.38 446.00,537.37 446.87,537.37 447.75,537.37 448.63,537.37 449.51,537.38 450.39,537.38 451.26,537.39 452.14,537.39 453.02,537.40 453.90,537.40 454.78,537.41 455.65,537.42 456.53,537.42 457.41,537.43 458.29,537.43 459.17,537.44 460.04,537.44 460.92,537.44 461.80,537.44 462.68,537.44 463.56,537.44 464.43,537.44 465.31,537.44 466.19,537.44 467.07,537.44 467.95,537.44 468.82,537.44 469.70,537.44 470.58,537.44 471.46,537.44 472.34,537.44 473.21,537.44 474.09,537.44 474.97,537.44 475.85,537.44 476.73,537.44 477.60,537.44 478.48,537.44 479.36,537.44 480.24,537.44 481.12,537.44 481.99,537.44 482.87,537.44 483.75,537.44" fill="none" stroke="#3e74aa" stroke-width="1.05" stroke-linejoin="round"/>
<circle cx="374.00" cy="559.15" r="1.5" fill="#3e74aa"/>
<circle cx="376.19" cy="553.32" r="1.5" fill="#3e74aa"/>
<circle cx="378.39" cy="551.38" r="1.5" fill="#3e74aa"/>
<circle cx="380.58" cy="548.78" r="1.5" fill="#3e74aa"/>
<circle cx="384.98" cy="546.19" r="1.5" fill="#3e74aa"/>
<circle cx="417.90" cy="537.12" r="1.5" fill="#3e74aa"/>
<circle cx="439.85" cy="537.12" r="1.5" fill="#3e74aa"/>
<circle cx="461.80" cy="537.44" r="1.5" fill="#3e74aa"/>
<circle cx="483.75" cy="537.44" r="1.5" fill="#3e74aa"/>
<polyline points="374.00,565.37 374.11,565.09 374.22,564.80 374.33,564.49 374.44,564.19 374.55,563.88 374.66,563.56 374.77,563.25 374.88,562.93 374.99,562.62 375.10,562.31 375.21,562.01 375.32,561.71 375.43,561.42 375.54,561.15 375.65,560.88 375.76,560.63 375.87,560.40 375.98,560.18 376.09,559.98 376.19,559.80 376.30,559.63 376.41,559.47 376.52,559.32 376.63,559.17 376.74,559.02 376.85,558.88 376.96,558.75 377.07,558.62 377.18,558.49 377.29,558.36 377.40,558.24 377.51,558.13 377.62,558.01 377.73,557.90 377.84,557.79 377.95,557.68 378.06,557.58 378.17,557.48 378.28,557.38 378.39,557.28 378.61,557.08 378.83,556.89 379.05,556.70 379.27,556.51 379.49,556.32 379.71,556.12 379.93,555.92 380.15,555.71 380.37,555.49 380.58,555.26 380.80,555.03 381.02,554.78 381.24,554.53 381.46,554.28 381.68,554.02 381.90,553.76 382.12,553.49 382.34,553.23 382.56,552.97 382.78,552.71 383.00,552.45 383.22,552.20 383.44,551.95 383.66,551.70 383.88,551.46 384.10,551.23 384.32,551.01 384.54,550.80 384.76,550.60 384.98,550.40 385.19,550.22 385.41,550.03 385.63,549.85 385.85,549.67 386.07,549.48 386.29,549.30 386.51,549.11 386.73,548.93 386.95,548.75 387.17,548.57 387.39,548.39 387.61,548.21 387.83,548.03 388.05,547.85 388.27,547.67 388.49,547.49 388.71,547.32 388.93,547.14 389.15,546.97 389.37,546.80 389.58,546.62 389.80,546.45 390.02,546.28 390.24,546.11 390.46,545.95 390.68,545.78 390.90,545.62 391.12,545.45 391.34,545.29 391.56,545.13 391.78,544.97 392.00,544.81 392.22,544.66 392.44,544.50 392.66,544.35 392.88,544.20 393.10,544.05 393.32,543.91 393.54,543.76 393.75,543.62 393.97,543.48 394.19,543.34 394.41,543.20 394.63,543.07 394.85,542.93 395.07,542.80 395.29,542.67 395.51,542.55 395.73,542.43 395.95,542.30 396.83,541.84 397.71,541.42 398.58,541.03 399.46,540.67 400.34,540.34 401.22,540.03 402.10,539.74 402.97,539.47 403.85,539.22 404.73,538.98 405.61,538.75 406.49,538.53 407.36,538.31 408.24,538.10 409.12,537.92 410.00,537.74 410.88,537.58 411.75,537.44 412.63,537.31 413.51,537.19 414.39,537.09 415.27,537.00 416.14,536.92 417.02,536.85 417.90,536.80 418.78,536.75 419.66,536.71 420.53,536.67 421.41,536.64 422.29,536.61 423.17,536.58 424.05,536.56 424.92,536.55 425.80,536.53 426.68,536.52 427.56,536.52 428.44,536.51 429.31,536.51 430.19,536.51 431.07,536.51 431.95,536.51 432.83,536.51 433.70,536.52 434.58,536.52 435.46,536.52 436.34,536.53 437.22,536.53 438.09,536.53 438.97,536.54 439.85,536.54 440.73,536.54 441.61,536.54 442.48,536.54 443.36,536.55 444.24,536.55 445.12,536.56 446.00,536.57 446.87,536.58 447.75,536.59 448.63,536.60 449.51,536.61 450.39,536.62 451.26,536.64 452.14,536.65 453.02,536.66 453.90,536.68 454.78,536.69 455.65,536.70 456.53,536.72 457.41,536.73 458.29,536.75 459.17,536.76 460.04,536.77 460.92,536.78 461.80,536.80 462.68,536.81 463.56,536.82 464.43,536.83 465.31,536.84 466.19,536.86 467.07,536.87 467.95,536.88 468.82,536.89 469.70,536.91 470.58,536.92 471.46,536.93 472.34,536.95 473.21,536.96 474.09,536.97 474.97,536.99 475.85,537.00 476.73,537.01 477.60,537.03 478.48,537.04 479.36,537.05 480.24,537.07 481.12,537.08 481.99,537.09 482.87,537.11 483.75,537.12" fill="none" stroke="#1b4f86" stroke-width="1.05" stroke-linejoin="round"/>
<circle cx="374.00" cy="565.37" r="1.5" fill="#1b4f86"/>
<circle cx="376.19" cy="557.86" r="1.5" fill="#1b4f86"/>
<circle cx="380.58" cy="556.75" r="1.5" fill="#1b4f86"/>
<circle cx="382.78" cy="553.32" r="1.5" fill="#1b4f86"/>
<circle cx="385.19" cy="550.40" r="1.5" fill="#1b4f86"/>
<circle cx="417.90" cy="536.54" r="1.5" fill="#1b4f86"/>
<circle cx="439.85" cy="536.54" r="1.5" fill="#1b4f86"/>
<circle cx="461.80" cy="536.80" r="1.5" fill="#1b4f86"/>
<circle cx="483.75" cy="537.18" r="1.5" fill="#1b4f86"/>
<line x1="368.60" y1="472.80" x2="368.60" y2="601.80" stroke="#231f20" stroke-width="1.2" />
<line x1="368.00" y1="601.20" x2="489.30" y2="601.20" stroke="#231f20" stroke-width="1.2" />
<line x1="365.30" y1="478.80" x2="368.60" y2="478.80" stroke="#231f20" stroke-width="0.9" />
<text x="363.60" y="481.50" font-size="7.6" fill="#2a2a2a" text-anchor="end" stroke="#2a2a2a" stroke-width="0.05" >10</text>
<line x1="365.30" y1="511.20" x2="368.60" y2="511.20" stroke="#231f20" stroke-width="0.9" />
<text x="363.60" y="513.90" font-size="7.6" fill="#2a2a2a" text-anchor="end" stroke="#2a2a2a" stroke-width="0.05" >5</text>
<line x1="365.30" y1="543.60" x2="368.60" y2="543.60" stroke="#231f20" stroke-width="0.9" />
<text x="363.60" y="546.30" font-size="7.6" fill="#2a2a2a" text-anchor="end" stroke="#2a2a2a" stroke-width="0.05" >0</text>
<line x1="365.30" y1="576.00" x2="368.60" y2="576.00" stroke="#231f20" stroke-width="0.9" />
<text x="363.60" y="578.70" font-size="7.6" fill="#2a2a2a" text-anchor="end" stroke="#2a2a2a" stroke-width="0.05" >−5</text>
<line x1="374.00" y1="601.20" x2="374.00" y2="604.40" stroke="#231f20" stroke-width="0.9" />
<text x="374.00" y="613.60" font-size="7.6" fill="#2a2a2a" text-anchor="middle" stroke="#2a2a2a" stroke-width="0.05" >0</text>
<line x1="395.95" y1="601.20" x2="395.95" y2="604.40" stroke="#231f20" stroke-width="0.9" />
<text x="395.95" y="613.60" font-size="7.6" fill="#2a2a2a" text-anchor="middle" stroke="#2a2a2a" stroke-width="0.05" >100</text>
<line x1="417.90" y1="601.20" x2="417.90" y2="604.40" stroke="#231f20" stroke-width="0.9" />
<text x="417.90" y="613.60" font-size="7.6" fill="#2a2a2a" text-anchor="middle" stroke="#2a2a2a" stroke-width="0.05" >200</text>
<line x1="439.85" y1="601.20" x2="439.85" y2="604.40" stroke="#231f20" stroke-width="0.9" />
<text x="439.85" y="613.60" font-size="7.6" fill="#2a2a2a" text-anchor="middle" stroke="#2a2a2a" stroke-width="0.05" >300</text>
<line x1="461.80" y1="601.20" x2="461.80" y2="604.40" stroke="#231f20" stroke-width="0.9" />
<text x="461.80" y="613.60" font-size="7.6" fill="#2a2a2a" text-anchor="middle" stroke="#2a2a2a" stroke-width="0.05" >400</text>
<line x1="483.75" y1="601.20" x2="483.75" y2="604.40" stroke="#231f20" stroke-width="0.9" />
<text x="483.75" y="613.60" font-size="7.6" fill="#2a2a2a" text-anchor="middle" stroke="#2a2a2a" stroke-width="0.05" >500</text>
<text x="429.38" y="627.1" font-size="9.6" fill="#262626" stroke="#262626" stroke-width="0.2" text-anchor="middle" textLength="67.5" lengthAdjust="spacingAndGlyphs">Flanking region (bp)</text>
<text transform="translate(348.80,538.2) rotate(-90)" font-size="9.0" fill="#262626" stroke="#262626" stroke-width="0.2" text-anchor="middle" textLength="112" lengthAdjust="spacingAndGlyphs">Enrichment of mutations (<tspan font-style="italic">Z</tspan> score)</text>
<rect x="404.20" y="473.00" width="12.50" height="5.60" fill="#ebebeb" />
<line x1="404.20" y1="475.80" x2="416.70" y2="475.80" stroke="#1b4f86" stroke-width="1.2" />
<circle cx="410.45" cy="475.80" r="1.5" fill="#1b4f86"/>
<text x="419.50" y="478.60" font-size="7.0" fill="#231f20" text-anchor="start" stroke="#231f20" stroke-width="0.15" >PML/RARα</text>
<rect x="404.20" y="484.10" width="12.50" height="5.60" fill="#ebebeb" />
<line x1="404.20" y1="486.90" x2="416.70" y2="486.90" stroke="#3e74aa" stroke-width="1.2" />
<circle cx="410.45" cy="486.90" r="1.5" fill="#3e74aa"/>
<text x="419.50" y="489.70" font-size="7.0" fill="#231f20" text-anchor="start" stroke="#231f20" stroke-width="0.15" >RUNX1</text>
<rect x="404.20" y="496.40" width="12.50" height="5.60" fill="#ebebeb" />
<line x1="404.20" y1="499.20" x2="416.70" y2="499.20" stroke="#8aafd2" stroke-width="1.2" />
<circle cx="410.45" cy="499.20" r="1.5" fill="#8aafd2"/>
<text x="419.50" y="502.00" font-size="7.0" fill="#231f20" text-anchor="start" stroke="#231f20" stroke-width="0.15" >MEF2D</text>
<rect x="463.50" y="473.00" width="12.50" height="5.60" fill="#ebebeb" />
<line x1="463.50" y1="475.80" x2="476.00" y2="475.80" stroke="#3ba3dd" stroke-width="1.2" />
<circle cx="469.75" cy="475.80" r="1.5" fill="#3ba3dd"/>
<text x="478.80" y="478.60" font-size="7.0" fill="#231f20" text-anchor="start" stroke="#231f20" stroke-width="0.15" >KLF13</text>
<rect x="463.50" y="484.10" width="12.50" height="5.60" fill="#ebebeb" />
<line x1="463.50" y1="486.90" x2="476.00" y2="486.90" stroke="#9fd0ef" stroke-width="1.2" />
<circle cx="469.75" cy="486.90" r="1.5" fill="#9fd0ef"/>
<text x="478.80" y="489.70" font-size="7.0" fill="#231f20" text-anchor="start" stroke="#231f20" stroke-width="0.15" >NFE2</text>
</svg></body></html>
